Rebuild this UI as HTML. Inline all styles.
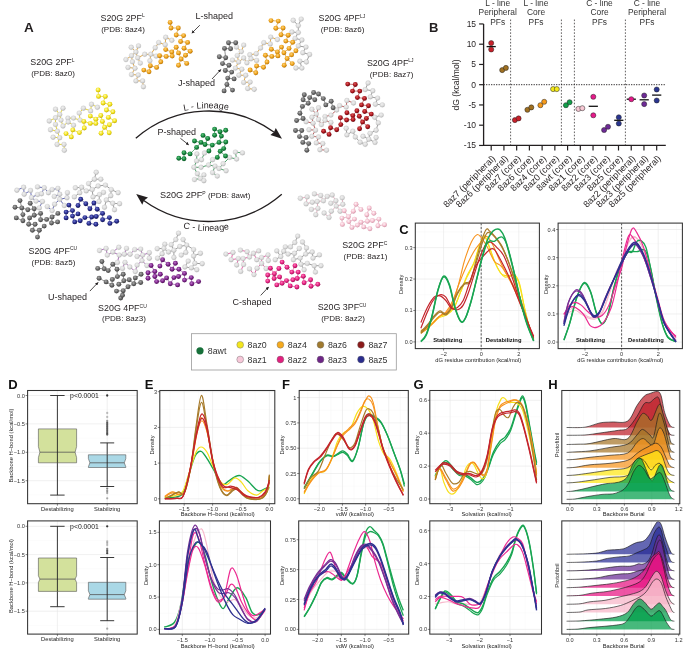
<!DOCTYPE html>
<html><head><meta charset="utf-8"><style>
html,body{margin:0;padding:0;background:#fff;}
svg{display:block;font-family:"Liberation Sans", sans-serif;will-change:transform;}
</style></head><body>
<svg width="685" height="649" viewBox="0 0 685 649">
<defs><radialGradient id="g_yellow" cx="0.42" cy="0.36" r="0.68"><stop offset="0" stop-color="#fffab0"/><stop offset="0.55" stop-color="#f2e21a"/><stop offset="1" stop-color="#b8a200"/></radialGradient><radialGradient id="g_orange" cx="0.42" cy="0.36" r="0.68"><stop offset="0" stop-color="#ffd27a"/><stop offset="0.55" stop-color="#eca21a"/><stop offset="1" stop-color="#a86400"/></radialGradient><radialGradient id="g_red" cx="0.42" cy="0.36" r="0.68"><stop offset="0" stop-color="#e05a5a"/><stop offset="0.55" stop-color="#a8141c"/><stop offset="1" stop-color="#58040a"/></radialGradient><radialGradient id="g_green" cx="0.42" cy="0.36" r="0.68"><stop offset="0" stop-color="#5cc07c"/><stop offset="0.55" stop-color="#14853c"/><stop offset="1" stop-color="#05461a"/></radialGradient><radialGradient id="g_pink" cx="0.42" cy="0.36" r="0.68"><stop offset="0" stop-color="#fff4f7"/><stop offset="0.55" stop-color="#f4c0cf"/><stop offset="1" stop-color="#c9899d"/></radialGradient><radialGradient id="g_magenta" cx="0.42" cy="0.36" r="0.68"><stop offset="0" stop-color="#ff7ab8"/><stop offset="0.55" stop-color="#e2207f"/><stop offset="1" stop-color="#8c0a48"/></radialGradient><radialGradient id="g_purple" cx="0.42" cy="0.36" r="0.68"><stop offset="0" stop-color="#bb78cc"/><stop offset="0.55" stop-color="#7d2388"/><stop offset="1" stop-color="#3e0648"/></radialGradient><radialGradient id="g_navy" cx="0.42" cy="0.36" r="0.68"><stop offset="0" stop-color="#6c74cc"/><stop offset="0.55" stop-color="#272b8c"/><stop offset="1" stop-color="#0b0d46"/></radialGradient><radialGradient id="g_dark" cx="0.42" cy="0.36" r="0.68"><stop offset="0" stop-color="#a8a8a8"/><stop offset="0.55" stop-color="#676767"/><stop offset="1" stop-color="#363636"/></radialGradient><radialGradient id="g_light" cx="0.42" cy="0.36" r="0.68"><stop offset="0" stop-color="#efefef"/><stop offset="0.55" stop-color="#dddddd"/><stop offset="1" stop-color="#ababab"/></radialGradient><marker id="ah" viewBox="0 0 10 10" refX="9" refY="5" markerWidth="4" markerHeight="4" orient="auto-start-reverse"><path d="M0,0 L10,5 L0,10 z" fill="#231f20"/></marker></defs>
<rect width="685" height="649" fill="#fff"/>
<text x="24" y="32" font-size="13.5" text-anchor="start" font-weight="bold" fill="#231f20" >A</text>
<path d="M91.5,104.3L97.4,107.3M91.5,104.3L90.6,110.9M90.6,110.9L83.4,108.2M83.4,108.2L79.2,113.1M79.2,113.1L80.1,120.1M80.1,120.1L73.5,118.1M73.5,118.1L67.9,118.1M67.9,118.1L68.2,122M68.2,122L73.5,125.3M68.2,122L63,126M63,126L61,120.1M61,120.1L59.7,114.4M59.7,114.4L55.5,117.8M55.5,117.8L55.5,124.4M59.7,114.4L55.5,109.2M59.7,114.4L63,108.2M55.5,124.4L57.3,131.2M57.3,131.2L50.5,129.7M57.3,131.2L59.7,137.8M59.7,137.8L53.1,137.2M55.5,117.8L49.2,121M59.7,137.8L57.1,144.4M57.1,144.4L64,144.4M64,144.4L64.3,150.3" stroke="#e3cf10" stroke-width="0.85" fill="none"/>
<circle cx="91.5" cy="104.3" r="2.45" fill="url(#g_light)" stroke="#bdbdbd" stroke-width="0.3"/>
<circle cx="97.4" cy="107.3" r="2.45" fill="url(#g_light)" stroke="#bdbdbd" stroke-width="0.3"/>
<circle cx="83.4" cy="108.2" r="2.45" fill="url(#g_light)" stroke="#bdbdbd" stroke-width="0.3"/>
<circle cx="90.6" cy="110.9" r="2.45" fill="url(#g_light)" stroke="#bdbdbd" stroke-width="0.3"/>
<circle cx="79.2" cy="113.1" r="2.45" fill="url(#g_light)" stroke="#bdbdbd" stroke-width="0.3"/>
<circle cx="80.1" cy="120.1" r="2.45" fill="url(#g_light)" stroke="#bdbdbd" stroke-width="0.3"/>
<circle cx="73.5" cy="118.1" r="2.45" fill="url(#g_light)" stroke="#bdbdbd" stroke-width="0.3"/>
<circle cx="73.5" cy="125.3" r="2.45" fill="url(#g_light)" stroke="#bdbdbd" stroke-width="0.3"/>
<circle cx="67.9" cy="118.1" r="2.45" fill="url(#g_light)" stroke="#bdbdbd" stroke-width="0.3"/>
<circle cx="68.2" cy="122" r="2.45" fill="url(#g_light)" stroke="#bdbdbd" stroke-width="0.3"/>
<circle cx="61" cy="120.1" r="2.45" fill="url(#g_light)" stroke="#bdbdbd" stroke-width="0.3"/>
<circle cx="63" cy="126" r="2.45" fill="url(#g_light)" stroke="#bdbdbd" stroke-width="0.3"/>
<circle cx="59.7" cy="114.4" r="2.45" fill="url(#g_light)" stroke="#bdbdbd" stroke-width="0.3"/>
<circle cx="63" cy="108.2" r="2.45" fill="url(#g_light)" stroke="#bdbdbd" stroke-width="0.3"/>
<circle cx="55.5" cy="109.2" r="2.45" fill="url(#g_light)" stroke="#bdbdbd" stroke-width="0.3"/>
<circle cx="55.5" cy="117.8" r="2.45" fill="url(#g_light)" stroke="#bdbdbd" stroke-width="0.3"/>
<circle cx="49.2" cy="121" r="2.45" fill="url(#g_light)" stroke="#bdbdbd" stroke-width="0.3"/>
<circle cx="55.5" cy="124.4" r="2.45" fill="url(#g_light)" stroke="#bdbdbd" stroke-width="0.3"/>
<circle cx="50.5" cy="129.7" r="2.45" fill="url(#g_light)" stroke="#bdbdbd" stroke-width="0.3"/>
<circle cx="57.3" cy="131.2" r="2.45" fill="url(#g_light)" stroke="#bdbdbd" stroke-width="0.3"/>
<circle cx="53.1" cy="137.2" r="2.45" fill="url(#g_light)" stroke="#bdbdbd" stroke-width="0.3"/>
<circle cx="59.7" cy="137.8" r="2.45" fill="url(#g_light)" stroke="#bdbdbd" stroke-width="0.3"/>
<circle cx="57.1" cy="144.4" r="2.45" fill="url(#g_light)" stroke="#bdbdbd" stroke-width="0.3"/>
<circle cx="64" cy="144.4" r="2.45" fill="url(#g_light)" stroke="#bdbdbd" stroke-width="0.3"/>
<circle cx="64.3" cy="150.3" r="2.45" fill="url(#g_light)" stroke="#bdbdbd" stroke-width="0.3"/>
<path d="M98.1,89.9L98.5,96.4M98.5,96.4L105.3,96.4M105.3,96.4L103.1,103M103.1,103L109.9,104.3M109.9,104.3L106.4,110M106.4,110L112.9,111.8M112.9,111.8L108.3,117.4M108.3,117.4L114.6,120.7M114.6,120.7L109.4,124.7M109.4,124.7L104.6,127.3M104.6,127.3L102.4,121.4M102.4,121.4L100.8,115.5M100.8,115.5L95.8,119.2M95.8,119.2L95.8,123.4M95.8,123.4L90.3,123.4M95.8,119.2L90.3,116.1M90.3,123.4L83.8,121.4M83.8,121.4L84.3,128M84.3,128L79.4,132.6M104.6,127.3L101.1,133.2M79.4,132.6L72.8,129.9M72.8,129.9L71.3,136.9M71.3,136.9L66,133.6M104.6,127.3L109.2,132.8" stroke="#e3cf10" stroke-width="0.7" fill="none"/>
<circle cx="98.1" cy="89.9" r="2.45" fill="url(#g_yellow)"/>
<circle cx="98.5" cy="96.4" r="2.45" fill="url(#g_yellow)"/>
<circle cx="105.3" cy="96.4" r="2.45" fill="url(#g_yellow)"/>
<circle cx="103.1" cy="103" r="2.45" fill="url(#g_yellow)"/>
<circle cx="109.9" cy="104.3" r="2.45" fill="url(#g_yellow)"/>
<circle cx="106.4" cy="110" r="2.45" fill="url(#g_yellow)"/>
<circle cx="112.9" cy="111.8" r="2.45" fill="url(#g_yellow)"/>
<circle cx="108.3" cy="117.4" r="2.45" fill="url(#g_yellow)"/>
<circle cx="114.6" cy="120.7" r="2.45" fill="url(#g_yellow)"/>
<circle cx="109.4" cy="124.7" r="2.45" fill="url(#g_yellow)"/>
<circle cx="104.6" cy="127.3" r="2.45" fill="url(#g_yellow)"/>
<circle cx="109.2" cy="132.8" r="2.45" fill="url(#g_yellow)"/>
<circle cx="101.1" cy="133.2" r="2.45" fill="url(#g_yellow)"/>
<circle cx="100.8" cy="115.5" r="2.45" fill="url(#g_yellow)"/>
<circle cx="102.4" cy="121.4" r="2.45" fill="url(#g_yellow)"/>
<circle cx="95.8" cy="119.2" r="2.45" fill="url(#g_yellow)"/>
<circle cx="95.8" cy="123.4" r="2.45" fill="url(#g_yellow)"/>
<circle cx="90.3" cy="116.1" r="2.45" fill="url(#g_yellow)"/>
<circle cx="90.3" cy="123.4" r="2.45" fill="url(#g_yellow)"/>
<circle cx="83.8" cy="121.4" r="2.45" fill="url(#g_yellow)"/>
<circle cx="84.3" cy="128" r="2.45" fill="url(#g_yellow)"/>
<circle cx="79.4" cy="132.6" r="2.45" fill="url(#g_yellow)"/>
<circle cx="72.8" cy="129.9" r="2.45" fill="url(#g_yellow)"/>
<circle cx="66" cy="133.6" r="2.45" fill="url(#g_yellow)"/>
<circle cx="71.3" cy="136.9" r="2.45" fill="url(#g_yellow)"/>
<path d="M165.7,37.3L171.8,40.3M165.7,37.3L165.2,44.7M165.2,44.7L158.7,42.6M158.7,42.6L155.2,47.8M155.2,47.8L150.8,54.3M150.8,54.3L156.1,56.1M150.8,54.3L144.7,54.3M150.8,54.3L149.9,60.8M144.7,54.3L137.7,57.8M137.7,57.8L140.3,63.1M137.7,57.8L135.9,52M135.9,52L131.5,55.7M131.5,55.7L132.4,61.8M135.9,52L138.5,45.9M135.9,52L131.2,47.3M131.5,55.7L125.9,59.6M132.4,61.8L135,68.3M135,68.3L128,67.4M135,68.3L131.5,74.5M131.5,74.5L138.2,75M138.2,75L135.9,80.9M135.9,80.9L142.6,80.9M142.6,80.9L143.4,86.7" stroke="#d99a2a" stroke-width="0.85" fill="none"/>
<circle cx="165.7" cy="37.3" r="2.45" fill="url(#g_light)" stroke="#bdbdbd" stroke-width="0.3"/>
<circle cx="171.8" cy="40.3" r="2.45" fill="url(#g_light)" stroke="#bdbdbd" stroke-width="0.3"/>
<circle cx="158.7" cy="42.6" r="2.45" fill="url(#g_light)" stroke="#bdbdbd" stroke-width="0.3"/>
<circle cx="165.2" cy="44.7" r="2.45" fill="url(#g_light)" stroke="#bdbdbd" stroke-width="0.3"/>
<circle cx="155.2" cy="47.8" r="2.45" fill="url(#g_light)" stroke="#bdbdbd" stroke-width="0.3"/>
<circle cx="150.8" cy="54.3" r="2.45" fill="url(#g_light)" stroke="#bdbdbd" stroke-width="0.3"/>
<circle cx="156.1" cy="56.1" r="2.45" fill="url(#g_light)" stroke="#bdbdbd" stroke-width="0.3"/>
<circle cx="149.9" cy="60.8" r="2.45" fill="url(#g_light)" stroke="#bdbdbd" stroke-width="0.3"/>
<circle cx="144.7" cy="54.3" r="2.45" fill="url(#g_light)" stroke="#bdbdbd" stroke-width="0.3"/>
<circle cx="138.5" cy="45.9" r="2.45" fill="url(#g_light)" stroke="#bdbdbd" stroke-width="0.3"/>
<circle cx="131.2" cy="47.3" r="2.45" fill="url(#g_light)" stroke="#bdbdbd" stroke-width="0.3"/>
<circle cx="135.9" cy="52" r="2.45" fill="url(#g_light)" stroke="#bdbdbd" stroke-width="0.3"/>
<circle cx="131.5" cy="55.7" r="2.45" fill="url(#g_light)" stroke="#bdbdbd" stroke-width="0.3"/>
<circle cx="137.7" cy="57.8" r="2.45" fill="url(#g_light)" stroke="#bdbdbd" stroke-width="0.3"/>
<circle cx="125.9" cy="59.6" r="2.45" fill="url(#g_light)" stroke="#bdbdbd" stroke-width="0.3"/>
<circle cx="132.4" cy="61.8" r="2.45" fill="url(#g_light)" stroke="#bdbdbd" stroke-width="0.3"/>
<circle cx="140.3" cy="63.1" r="2.45" fill="url(#g_light)" stroke="#bdbdbd" stroke-width="0.3"/>
<circle cx="128" cy="67.4" r="2.45" fill="url(#g_light)" stroke="#bdbdbd" stroke-width="0.3"/>
<circle cx="135" cy="68.3" r="2.45" fill="url(#g_light)" stroke="#bdbdbd" stroke-width="0.3"/>
<circle cx="131.5" cy="74.5" r="2.45" fill="url(#g_light)" stroke="#bdbdbd" stroke-width="0.3"/>
<circle cx="138.2" cy="75" r="2.45" fill="url(#g_light)" stroke="#bdbdbd" stroke-width="0.3"/>
<circle cx="135.9" cy="80.9" r="2.45" fill="url(#g_light)" stroke="#bdbdbd" stroke-width="0.3"/>
<circle cx="142.6" cy="80.9" r="2.45" fill="url(#g_light)" stroke="#bdbdbd" stroke-width="0.3"/>
<circle cx="143.4" cy="86.7" r="2.45" fill="url(#g_light)" stroke="#bdbdbd" stroke-width="0.3"/>
<path d="M170.1,22.4L171,28M171,28L178.3,28M178.3,28L176.2,35M176.2,35L183.6,35.6M183.6,35.6L180.6,41.5M180.6,41.5L187.6,42.4M187.6,42.4L184,48.2M184,48.2L190.2,51.2M190.2,51.2L185.5,55.2M185.5,55.2L181.1,59M181.1,59L178.5,52.9M178.5,52.9L176.2,47.3M176.2,47.3L171.8,52M171.8,52L172.2,56.1M172.2,56.1L166.2,56.4M171.8,52L165.7,49.6M166.2,56.4L159.6,55.7M159.6,55.7L160.8,61.8M181.1,59L178.5,65.3M160.8,61.8L156.6,67.4M156.6,67.4L150.3,65.7M150.3,65.7L149,71.8M149,71.8L143.8,70.1M181.1,59L186.7,63.4" stroke="#d99a2a" stroke-width="0.7" fill="none"/>
<circle cx="170.1" cy="22.4" r="2.45" fill="url(#g_orange)"/>
<circle cx="171" cy="28" r="2.45" fill="url(#g_orange)"/>
<circle cx="178.3" cy="28" r="2.45" fill="url(#g_orange)"/>
<circle cx="176.2" cy="35" r="2.45" fill="url(#g_orange)"/>
<circle cx="183.6" cy="35.6" r="2.45" fill="url(#g_orange)"/>
<circle cx="180.6" cy="41.5" r="2.45" fill="url(#g_orange)"/>
<circle cx="187.6" cy="42.4" r="2.45" fill="url(#g_orange)"/>
<circle cx="176.2" cy="47.3" r="2.45" fill="url(#g_orange)"/>
<circle cx="184" cy="48.2" r="2.45" fill="url(#g_orange)"/>
<circle cx="190.2" cy="51.2" r="2.45" fill="url(#g_orange)"/>
<circle cx="165.7" cy="49.6" r="2.45" fill="url(#g_orange)"/>
<circle cx="171.8" cy="52" r="2.45" fill="url(#g_orange)"/>
<circle cx="178.5" cy="52.9" r="2.45" fill="url(#g_orange)"/>
<circle cx="159.6" cy="55.7" r="2.45" fill="url(#g_orange)"/>
<circle cx="166.2" cy="56.4" r="2.45" fill="url(#g_orange)"/>
<circle cx="172.2" cy="56.1" r="2.45" fill="url(#g_orange)"/>
<circle cx="185.5" cy="55.2" r="2.45" fill="url(#g_orange)"/>
<circle cx="181.1" cy="59" r="2.45" fill="url(#g_orange)"/>
<circle cx="186.7" cy="63.4" r="2.45" fill="url(#g_orange)"/>
<circle cx="178.5" cy="65.3" r="2.45" fill="url(#g_orange)"/>
<circle cx="160.8" cy="61.8" r="2.45" fill="url(#g_orange)"/>
<circle cx="150.3" cy="65.7" r="2.45" fill="url(#g_orange)"/>
<circle cx="156.6" cy="67.4" r="2.45" fill="url(#g_orange)"/>
<circle cx="143.8" cy="70.1" r="2.45" fill="url(#g_orange)"/>
<circle cx="149" cy="71.8" r="2.45" fill="url(#g_orange)"/>
<path d="M236.5,47.1L241.3,51.6M241.3,51.6L237.3,55.6M237.3,55.6L238.6,62M238.6,62L232.5,60.1M238.6,62L243.7,58M243.7,58L246.9,62.8M246.9,62.8L251,58.8M251,58.8L249.8,54.8M251,58.8L256.6,60.4M249.8,54.8L256.2,53.7M238.6,62L235.4,68.1M235.4,68.1L241.8,69.2M241.8,69.2L238.9,75.2M238.9,75.2L245.7,75.3M241.3,51.6L243.7,45.1M256.2,53.7L260.6,48M260.6,48L263.8,42.7M263.8,42.7L270.2,44M270.2,44L270.7,37.1M270.7,37.1L277.4,39.5M245.7,75.3L243.7,82.4M243.7,82.4L250.1,82.1M250.1,82.1L247.7,88.5M247.7,88.5L254.2,89.3" stroke="#d99a2a" stroke-width="0.85" fill="none"/>
<circle cx="236.5" cy="47.1" r="2.45" fill="url(#g_light)" stroke="#bdbdbd" stroke-width="0.3"/>
<circle cx="243.7" cy="45.1" r="2.45" fill="url(#g_light)" stroke="#bdbdbd" stroke-width="0.3"/>
<circle cx="241.3" cy="51.6" r="2.45" fill="url(#g_light)" stroke="#bdbdbd" stroke-width="0.3"/>
<circle cx="237.3" cy="55.6" r="2.45" fill="url(#g_light)" stroke="#bdbdbd" stroke-width="0.3"/>
<circle cx="232.5" cy="60.1" r="2.45" fill="url(#g_light)" stroke="#bdbdbd" stroke-width="0.3"/>
<circle cx="238.6" cy="62" r="2.45" fill="url(#g_light)" stroke="#bdbdbd" stroke-width="0.3"/>
<circle cx="243.7" cy="58" r="2.45" fill="url(#g_light)" stroke="#bdbdbd" stroke-width="0.3"/>
<circle cx="249.8" cy="54.8" r="2.45" fill="url(#g_light)" stroke="#bdbdbd" stroke-width="0.3"/>
<circle cx="251" cy="58.8" r="2.45" fill="url(#g_light)" stroke="#bdbdbd" stroke-width="0.3"/>
<circle cx="246.9" cy="62.8" r="2.45" fill="url(#g_light)" stroke="#bdbdbd" stroke-width="0.3"/>
<circle cx="235.4" cy="68.1" r="2.45" fill="url(#g_light)" stroke="#bdbdbd" stroke-width="0.3"/>
<circle cx="241.8" cy="69.2" r="2.45" fill="url(#g_light)" stroke="#bdbdbd" stroke-width="0.3"/>
<circle cx="238.9" cy="75.2" r="2.45" fill="url(#g_light)" stroke="#bdbdbd" stroke-width="0.3"/>
<circle cx="245.7" cy="75.3" r="2.45" fill="url(#g_light)" stroke="#bdbdbd" stroke-width="0.3"/>
<circle cx="243.7" cy="82.4" r="2.45" fill="url(#g_light)" stroke="#bdbdbd" stroke-width="0.3"/>
<circle cx="250.1" cy="82.1" r="2.45" fill="url(#g_light)" stroke="#bdbdbd" stroke-width="0.3"/>
<circle cx="247.7" cy="88.5" r="2.45" fill="url(#g_light)" stroke="#bdbdbd" stroke-width="0.3"/>
<circle cx="254.2" cy="89.3" r="2.45" fill="url(#g_light)" stroke="#bdbdbd" stroke-width="0.3"/>
<circle cx="256.2" cy="53.7" r="2.45" fill="url(#g_light)" stroke="#bdbdbd" stroke-width="0.3"/>
<circle cx="256.6" cy="60.4" r="2.45" fill="url(#g_light)" stroke="#bdbdbd" stroke-width="0.3"/>
<circle cx="260.6" cy="48" r="2.45" fill="url(#g_light)" stroke="#bdbdbd" stroke-width="0.3"/>
<circle cx="263.8" cy="42.7" r="2.45" fill="url(#g_light)" stroke="#bdbdbd" stroke-width="0.3"/>
<circle cx="270.2" cy="44" r="2.45" fill="url(#g_light)" stroke="#bdbdbd" stroke-width="0.3"/>
<circle cx="270.7" cy="37.1" r="2.45" fill="url(#g_light)" stroke="#bdbdbd" stroke-width="0.3"/>
<circle cx="277.4" cy="39.5" r="2.45" fill="url(#g_light)" stroke="#bdbdbd" stroke-width="0.3"/>
<path d="M293.2,20.3L298.3,25.6M298.3,25.6L298.3,32.6M298.3,32.6L291.9,32M298.3,32.6L295.1,38.4M295.1,38.4L301.9,40M301.9,40L298.3,46M298.3,25.6L301.2,19.1M298.3,46L306,47.1M306,47.1L302.8,52.7M302.8,52.7L309.6,54.5M309.6,54.5L306.4,62M306.4,62L299.9,61.2M299.9,61.2L301.9,68.1M301.9,68.1L295.9,68" stroke="#8a8a8a" stroke-width="0.85" fill="none"/>
<circle cx="293.2" cy="20.3" r="2.45" fill="url(#g_light)" stroke="#bdbdbd" stroke-width="0.3"/>
<circle cx="301.2" cy="19.1" r="2.45" fill="url(#g_light)" stroke="#bdbdbd" stroke-width="0.3"/>
<circle cx="298.3" cy="25.6" r="2.45" fill="url(#g_light)" stroke="#bdbdbd" stroke-width="0.3"/>
<circle cx="291.9" cy="32" r="2.45" fill="url(#g_light)" stroke="#bdbdbd" stroke-width="0.3"/>
<circle cx="298.3" cy="32.6" r="2.45" fill="url(#g_light)" stroke="#bdbdbd" stroke-width="0.3"/>
<circle cx="295.1" cy="38.4" r="2.45" fill="url(#g_light)" stroke="#bdbdbd" stroke-width="0.3"/>
<circle cx="301.9" cy="40" r="2.45" fill="url(#g_light)" stroke="#bdbdbd" stroke-width="0.3"/>
<circle cx="298.3" cy="46" r="2.45" fill="url(#g_light)" stroke="#bdbdbd" stroke-width="0.3"/>
<circle cx="306" cy="47.1" r="2.45" fill="url(#g_light)" stroke="#bdbdbd" stroke-width="0.3"/>
<circle cx="302.8" cy="52.7" r="2.45" fill="url(#g_light)" stroke="#bdbdbd" stroke-width="0.3"/>
<circle cx="309.6" cy="54.5" r="2.45" fill="url(#g_light)" stroke="#bdbdbd" stroke-width="0.3"/>
<circle cx="299.9" cy="61.2" r="2.45" fill="url(#g_light)" stroke="#bdbdbd" stroke-width="0.3"/>
<circle cx="306.4" cy="62" r="2.45" fill="url(#g_light)" stroke="#bdbdbd" stroke-width="0.3"/>
<circle cx="295.9" cy="68" r="2.45" fill="url(#g_light)" stroke="#bdbdbd" stroke-width="0.3"/>
<circle cx="301.9" cy="68.1" r="2.45" fill="url(#g_light)" stroke="#bdbdbd" stroke-width="0.3"/>
<path d="M228.5,42.7L230.6,48.8M230.6,48.8L224.5,48.4M228.5,42.7L235.7,42.7M224.5,48.4L225.7,57.7M225.7,57.7L219.3,56.7M225.7,57.7L222.5,63.6M222.5,63.6L229,65.2M229,65.2L225.3,70.5M225.3,70.5L231.7,72.1M231.7,72.1L227.7,78.1M227.7,78.1L226.9,84.5M227.7,78.1L234.1,78.9M226.9,84.5L224.1,90.9M226.9,84.5L232.5,90.1" stroke="#666" stroke-width="0.7" fill="none"/>
<circle cx="228.5" cy="42.7" r="2.45" fill="url(#g_dark)"/>
<circle cx="235.7" cy="42.7" r="2.45" fill="url(#g_dark)"/>
<circle cx="224.5" cy="48.4" r="2.45" fill="url(#g_dark)"/>
<circle cx="230.6" cy="48.8" r="2.45" fill="url(#g_dark)"/>
<circle cx="219.3" cy="56.7" r="2.45" fill="url(#g_dark)"/>
<circle cx="225.7" cy="57.7" r="2.45" fill="url(#g_dark)"/>
<circle cx="222.5" cy="63.6" r="2.45" fill="url(#g_dark)"/>
<circle cx="229" cy="65.2" r="2.45" fill="url(#g_dark)"/>
<circle cx="225.3" cy="70.5" r="2.45" fill="url(#g_dark)"/>
<circle cx="231.7" cy="72.1" r="2.45" fill="url(#g_dark)"/>
<circle cx="227.7" cy="78.1" r="2.45" fill="url(#g_dark)"/>
<circle cx="234.1" cy="78.9" r="2.45" fill="url(#g_dark)"/>
<circle cx="226.9" cy="84.5" r="2.45" fill="url(#g_dark)"/>
<circle cx="224.1" cy="90.9" r="2.45" fill="url(#g_dark)"/>
<circle cx="232.5" cy="90.1" r="2.45" fill="url(#g_dark)"/>
<path d="M271,20.6L278.3,21.1M278.3,21.1L275.8,28.3M275.8,28.3L283.1,28M283.1,28L281,34.7M281,34.7L288.2,35.2M288.2,35.2L285.8,41.1M285.8,41.1L292.7,42.3M292.7,42.3L289,48.4M289,48.4L283.9,52.7M283.9,52.7L281.5,47.1M281.5,47.1L277.4,51.9M277.4,51.9L277.9,55.9M277.9,55.9L271.8,56.4M271.8,56.4L265.4,55.3M283.9,52.7L287.1,58.5M287.1,58.5L291.6,54.8M291.6,54.8L295.9,50.8M277.4,51.9L271.3,49.2M265.4,55.3L267,62M267,62L263.5,67.3M263.5,67.3L256.6,66M256.6,66L255.8,72.8M255.8,72.8L250.1,70M287.1,58.5L292.2,63.6M287.1,58.5L284.2,65.2" stroke="#d99a2a" stroke-width="0.7" fill="none"/>
<circle cx="271" cy="20.6" r="2.45" fill="url(#g_orange)"/>
<circle cx="278.3" cy="21.1" r="2.45" fill="url(#g_orange)"/>
<circle cx="275.8" cy="28.3" r="2.45" fill="url(#g_orange)"/>
<circle cx="283.1" cy="28" r="2.45" fill="url(#g_orange)"/>
<circle cx="281" cy="34.7" r="2.45" fill="url(#g_orange)"/>
<circle cx="288.2" cy="35.2" r="2.45" fill="url(#g_orange)"/>
<circle cx="285.8" cy="41.1" r="2.45" fill="url(#g_orange)"/>
<circle cx="292.7" cy="42.3" r="2.45" fill="url(#g_orange)"/>
<circle cx="281.5" cy="47.1" r="2.45" fill="url(#g_orange)"/>
<circle cx="289" cy="48.4" r="2.45" fill="url(#g_orange)"/>
<circle cx="295.9" cy="50.8" r="2.45" fill="url(#g_orange)"/>
<circle cx="271.3" cy="49.2" r="2.45" fill="url(#g_orange)"/>
<circle cx="277.4" cy="51.9" r="2.45" fill="url(#g_orange)"/>
<circle cx="283.9" cy="52.7" r="2.45" fill="url(#g_orange)"/>
<circle cx="265.4" cy="55.3" r="2.45" fill="url(#g_orange)"/>
<circle cx="271.8" cy="56.4" r="2.45" fill="url(#g_orange)"/>
<circle cx="277.9" cy="55.9" r="2.45" fill="url(#g_orange)"/>
<circle cx="291.6" cy="54.8" r="2.45" fill="url(#g_orange)"/>
<circle cx="287.1" cy="58.5" r="2.45" fill="url(#g_orange)"/>
<circle cx="292.2" cy="63.6" r="2.45" fill="url(#g_orange)"/>
<circle cx="284.2" cy="65.2" r="2.45" fill="url(#g_orange)"/>
<circle cx="267" cy="62" r="2.45" fill="url(#g_orange)"/>
<circle cx="256.6" cy="66" r="2.45" fill="url(#g_orange)"/>
<circle cx="263.5" cy="67.3" r="2.45" fill="url(#g_orange)"/>
<circle cx="250.1" cy="70" r="2.45" fill="url(#g_orange)"/>
<circle cx="255.8" cy="72.8" r="2.45" fill="url(#g_orange)"/>
<path d="M311.9,109.3L316.3,114.1M316.3,114.1L311.9,117.3M316.3,114.1L318.5,119.5M318.5,119.5L321.4,124.6M321.4,124.6L325,120.3M325,120.3L325,116.6M311.9,117.3L313.1,123.2M325,116.6L330.9,115.1M325,120.3L330.9,122.4M316.3,114.1L318.5,107.8M313.1,123.2L306.1,121.7M313.1,123.2L315.5,130.2M315.5,130.2L309,129.7M315.5,130.2L311.9,136.3M311.9,136.3L318.5,137M318.5,137L316.3,142.9M316.3,142.9L322.8,143.6M322.8,143.6L319.9,149.7M319.9,149.7L326.5,150.2M330.9,115.1L336.7,110M336.7,110L339.6,105.7M339.6,105.7L346.2,107.1M346.2,107.1L346.9,100.5M346.9,100.5L353.5,103" stroke="#b04040" stroke-width="0.85" fill="none"/>
<circle cx="311.9" cy="109.3" r="2.45" fill="url(#g_light)" stroke="#bdbdbd" stroke-width="0.3"/>
<circle cx="318.5" cy="107.8" r="2.45" fill="url(#g_light)" stroke="#bdbdbd" stroke-width="0.3"/>
<circle cx="316.3" cy="114.1" r="2.45" fill="url(#g_light)" stroke="#bdbdbd" stroke-width="0.3"/>
<circle cx="311.9" cy="117.3" r="2.45" fill="url(#g_light)" stroke="#bdbdbd" stroke-width="0.3"/>
<circle cx="306.1" cy="121.7" r="2.45" fill="url(#g_light)" stroke="#bdbdbd" stroke-width="0.3"/>
<circle cx="313.1" cy="123.2" r="2.45" fill="url(#g_light)" stroke="#bdbdbd" stroke-width="0.3"/>
<circle cx="318.5" cy="119.5" r="2.45" fill="url(#g_light)" stroke="#bdbdbd" stroke-width="0.3"/>
<circle cx="325" cy="116.6" r="2.45" fill="url(#g_light)" stroke="#bdbdbd" stroke-width="0.3"/>
<circle cx="325" cy="120.3" r="2.45" fill="url(#g_light)" stroke="#bdbdbd" stroke-width="0.3"/>
<circle cx="321.4" cy="124.6" r="2.45" fill="url(#g_light)" stroke="#bdbdbd" stroke-width="0.3"/>
<circle cx="330.9" cy="115.1" r="2.45" fill="url(#g_light)" stroke="#bdbdbd" stroke-width="0.3"/>
<circle cx="330.9" cy="122.4" r="2.45" fill="url(#g_light)" stroke="#bdbdbd" stroke-width="0.3"/>
<circle cx="336.7" cy="110" r="2.45" fill="url(#g_light)" stroke="#bdbdbd" stroke-width="0.3"/>
<circle cx="339.6" cy="105.7" r="2.45" fill="url(#g_light)" stroke="#bdbdbd" stroke-width="0.3"/>
<circle cx="346.9" cy="100.5" r="2.45" fill="url(#g_light)" stroke="#bdbdbd" stroke-width="0.3"/>
<circle cx="346.2" cy="107.1" r="2.45" fill="url(#g_light)" stroke="#bdbdbd" stroke-width="0.3"/>
<circle cx="353.5" cy="103" r="2.45" fill="url(#g_light)" stroke="#bdbdbd" stroke-width="0.3"/>
<circle cx="309" cy="129.7" r="2.45" fill="url(#g_light)" stroke="#bdbdbd" stroke-width="0.3"/>
<circle cx="315.5" cy="130.2" r="2.45" fill="url(#g_light)" stroke="#bdbdbd" stroke-width="0.3"/>
<circle cx="311.9" cy="136.3" r="2.45" fill="url(#g_light)" stroke="#bdbdbd" stroke-width="0.3"/>
<circle cx="318.5" cy="137" r="2.45" fill="url(#g_light)" stroke="#bdbdbd" stroke-width="0.3"/>
<circle cx="316.3" cy="142.9" r="2.45" fill="url(#g_light)" stroke="#bdbdbd" stroke-width="0.3"/>
<circle cx="322.8" cy="143.6" r="2.45" fill="url(#g_light)" stroke="#bdbdbd" stroke-width="0.3"/>
<circle cx="319.9" cy="149.7" r="2.45" fill="url(#g_light)" stroke="#bdbdbd" stroke-width="0.3"/>
<circle cx="326.5" cy="150.2" r="2.45" fill="url(#g_light)" stroke="#bdbdbd" stroke-width="0.3"/>
<path d="M368.1,83L365.2,89.6M365.2,89.6L372.8,90.8M372.8,90.8L370.3,96.9M370.3,96.9L377.6,98.1M377.6,98.1L375.4,104.2M375.4,104.2L382.3,104.9M381.2,115.1L374.7,117.3M374.7,117.3L378.3,122.9M378.3,122.9L376.1,130.2M376.1,130.2L370,133.4M370,133.4L368.8,139.2M368.8,139.2L365.2,144.3M365.2,144.3L360.1,142.2M368.8,139.2L363,136.3M368.8,139.2L375,142.4M375,142.4L376.1,137.5M360.1,142.2L355.3,137M355.3,137L352.8,131.2M352.8,131.2L346.9,134.9M346.9,134.9L346.2,128.3" stroke="#8a8a8a" stroke-width="0.85" fill="none"/>
<circle cx="368.1" cy="83" r="2.45" fill="url(#g_light)" stroke="#bdbdbd" stroke-width="0.3"/>
<circle cx="365.2" cy="89.6" r="2.45" fill="url(#g_light)" stroke="#bdbdbd" stroke-width="0.3"/>
<circle cx="372.8" cy="90.8" r="2.45" fill="url(#g_light)" stroke="#bdbdbd" stroke-width="0.3"/>
<circle cx="370.3" cy="96.9" r="2.45" fill="url(#g_light)" stroke="#bdbdbd" stroke-width="0.3"/>
<circle cx="377.6" cy="98.1" r="2.45" fill="url(#g_light)" stroke="#bdbdbd" stroke-width="0.3"/>
<circle cx="375.4" cy="104.2" r="2.45" fill="url(#g_light)" stroke="#bdbdbd" stroke-width="0.3"/>
<circle cx="382.3" cy="104.9" r="2.45" fill="url(#g_light)" stroke="#bdbdbd" stroke-width="0.3"/>
<circle cx="374.7" cy="117.3" r="2.45" fill="url(#g_light)" stroke="#bdbdbd" stroke-width="0.3"/>
<circle cx="381.2" cy="115.1" r="2.45" fill="url(#g_light)" stroke="#bdbdbd" stroke-width="0.3"/>
<circle cx="378.3" cy="122.9" r="2.45" fill="url(#g_light)" stroke="#bdbdbd" stroke-width="0.3"/>
<circle cx="376.1" cy="130.2" r="2.45" fill="url(#g_light)" stroke="#bdbdbd" stroke-width="0.3"/>
<circle cx="370" cy="133.4" r="2.45" fill="url(#g_light)" stroke="#bdbdbd" stroke-width="0.3"/>
<circle cx="376.1" cy="137.5" r="2.45" fill="url(#g_light)" stroke="#bdbdbd" stroke-width="0.3"/>
<circle cx="375" cy="142.4" r="2.45" fill="url(#g_light)" stroke="#bdbdbd" stroke-width="0.3"/>
<circle cx="365.2" cy="144.3" r="2.45" fill="url(#g_light)" stroke="#bdbdbd" stroke-width="0.3"/>
<circle cx="360.1" cy="142.2" r="2.45" fill="url(#g_light)" stroke="#bdbdbd" stroke-width="0.3"/>
<circle cx="368.8" cy="139.2" r="2.45" fill="url(#g_light)" stroke="#bdbdbd" stroke-width="0.3"/>
<circle cx="363" cy="136.3" r="2.45" fill="url(#g_light)" stroke="#bdbdbd" stroke-width="0.3"/>
<circle cx="355.3" cy="137" r="2.45" fill="url(#g_light)" stroke="#bdbdbd" stroke-width="0.3"/>
<circle cx="352.8" cy="131.2" r="2.45" fill="url(#g_light)" stroke="#bdbdbd" stroke-width="0.3"/>
<circle cx="346.9" cy="134.9" r="2.45" fill="url(#g_light)" stroke="#bdbdbd" stroke-width="0.3"/>
<circle cx="346.2" cy="128.3" r="2.45" fill="url(#g_light)" stroke="#bdbdbd" stroke-width="0.3"/>
<path d="M304.3,94.7L303.1,99.8M303.1,99.8L308.2,103.2M308.2,103.2L309.7,97.6M309.7,97.6L314.8,99.8M309.7,97.6L313.6,92.5M313.6,92.5L318.5,94M308.2,103.2L302.4,106.4M318.5,94L323.3,98.6M323.3,98.6L325.8,104.9M325.8,104.9L331.2,101.3M331.2,101.3L333.1,107.8M302.4,106.4L299.9,113.2M299.9,113.2L303.1,118.5M303.1,118.5L296.6,120.5M295.5,130.5L301.7,130.5M301.7,130.5L299.5,136.6M299.5,136.6L306.1,137.5M306.1,137.5L302.8,142.4M302.8,142.4L308.7,143.6M308.7,143.6L306.8,150.2" stroke="#666" stroke-width="0.7" fill="none"/>
<circle cx="304.3" cy="94.7" r="2.45" fill="url(#g_dark)"/>
<circle cx="313.6" cy="92.5" r="2.45" fill="url(#g_dark)"/>
<circle cx="318.5" cy="94" r="2.45" fill="url(#g_dark)"/>
<circle cx="309.7" cy="97.6" r="2.45" fill="url(#g_dark)"/>
<circle cx="303.1" cy="99.8" r="2.45" fill="url(#g_dark)"/>
<circle cx="314.8" cy="99.8" r="2.45" fill="url(#g_dark)"/>
<circle cx="323.3" cy="98.6" r="2.45" fill="url(#g_dark)"/>
<circle cx="331.2" cy="101.3" r="2.45" fill="url(#g_dark)"/>
<circle cx="308.2" cy="103.2" r="2.45" fill="url(#g_dark)"/>
<circle cx="325.8" cy="104.9" r="2.45" fill="url(#g_dark)"/>
<circle cx="302.4" cy="106.4" r="2.45" fill="url(#g_dark)"/>
<circle cx="333.1" cy="107.8" r="2.45" fill="url(#g_dark)"/>
<circle cx="299.9" cy="113.2" r="2.45" fill="url(#g_dark)"/>
<circle cx="303.1" cy="118.5" r="2.45" fill="url(#g_dark)"/>
<circle cx="296.6" cy="120.5" r="2.45" fill="url(#g_dark)"/>
<circle cx="295.5" cy="130.5" r="2.45" fill="url(#g_dark)"/>
<circle cx="301.7" cy="130.5" r="2.45" fill="url(#g_dark)"/>
<circle cx="299.5" cy="136.6" r="2.45" fill="url(#g_dark)"/>
<circle cx="306.1" cy="137.5" r="2.45" fill="url(#g_dark)"/>
<circle cx="302.8" cy="142.4" r="2.45" fill="url(#g_dark)"/>
<circle cx="308.7" cy="143.6" r="2.45" fill="url(#g_dark)"/>
<circle cx="306.8" cy="150.2" r="2.45" fill="url(#g_dark)"/>
<path d="M347.7,84.1L355.3,84.5M355.3,84.5L352.5,91.1M352.5,91.1L359.8,91.1M359.8,91.1L357.4,97.6M357.4,97.6L364.5,98.4M364.5,98.4L361.5,104.9M361.5,104.9L368.5,105.7M368.5,105.7L364.7,111.5M364.7,111.5L371.3,114.1M371.3,114.1L366.4,118.5M366.4,118.5L362.6,122M362.6,122L359.3,116.3M359.3,116.3L356.9,110.8M356.9,110.8L352.8,115.6M352.8,115.6L353.1,119.5M353.1,119.5L346.6,120M352.8,115.6L346.9,112.7M346.6,120L340.4,117.8M340.4,117.8L340.8,124.6M340.8,124.6L336.7,129.7M336.7,129.7L330.6,127.8M330.6,127.8L329.1,134.4M329.1,134.4L323.6,131.2M362.6,122L367.7,126.8M362.6,122L359.6,128.7" stroke="#b04040" stroke-width="0.7" fill="none"/>
<circle cx="347.7" cy="84.1" r="2.45" fill="url(#g_red)"/>
<circle cx="355.3" cy="84.5" r="2.45" fill="url(#g_red)"/>
<circle cx="352.5" cy="91.1" r="2.45" fill="url(#g_red)"/>
<circle cx="359.8" cy="91.1" r="2.45" fill="url(#g_red)"/>
<circle cx="357.4" cy="97.6" r="2.45" fill="url(#g_red)"/>
<circle cx="364.5" cy="98.4" r="2.45" fill="url(#g_red)"/>
<circle cx="361.5" cy="104.9" r="2.45" fill="url(#g_red)"/>
<circle cx="368.5" cy="105.7" r="2.45" fill="url(#g_red)"/>
<circle cx="356.9" cy="110.8" r="2.45" fill="url(#g_red)"/>
<circle cx="364.7" cy="111.5" r="2.45" fill="url(#g_red)"/>
<circle cx="371.3" cy="114.1" r="2.45" fill="url(#g_red)"/>
<circle cx="346.9" cy="112.7" r="2.45" fill="url(#g_red)"/>
<circle cx="352.8" cy="115.6" r="2.45" fill="url(#g_red)"/>
<circle cx="359.3" cy="116.3" r="2.45" fill="url(#g_red)"/>
<circle cx="340.4" cy="117.8" r="2.45" fill="url(#g_red)"/>
<circle cx="346.6" cy="120" r="2.45" fill="url(#g_red)"/>
<circle cx="353.1" cy="119.5" r="2.45" fill="url(#g_red)"/>
<circle cx="366.4" cy="118.5" r="2.45" fill="url(#g_red)"/>
<circle cx="362.6" cy="122" r="2.45" fill="url(#g_red)"/>
<circle cx="367.7" cy="126.8" r="2.45" fill="url(#g_red)"/>
<circle cx="359.6" cy="128.7" r="2.45" fill="url(#g_red)"/>
<circle cx="340.8" cy="124.6" r="2.45" fill="url(#g_red)"/>
<circle cx="330.6" cy="127.8" r="2.45" fill="url(#g_red)"/>
<circle cx="336.7" cy="129.7" r="2.45" fill="url(#g_red)"/>
<circle cx="323.6" cy="131.2" r="2.45" fill="url(#g_red)"/>
<circle cx="329.1" cy="134.4" r="2.45" fill="url(#g_red)"/>
<path d="M196.9,153.9L196.6,160.9M196.6,160.9L201.5,159.7M196.6,160.9L193.9,167.3M193.9,167.3L201,167.3M193.9,167.3L197.4,173.7M197.4,173.7L200.4,178.4M200.4,178.4L203.9,180.7M200.4,178.4L203.9,174.9M200.4,178.4L194.5,179.6M201.5,159.7L204.5,153M201,167.3L208.5,165M208.5,165L215,166.1M215,166.1L219,168.5M219,168.5L223.1,163.8M208.5,165L212.6,159.7M215,166.1L212.6,172.6M212.6,172.6L217.3,176.1M219,168.5L226.1,170.8M223.1,163.8L229.6,157.4M229.6,157.4L236.6,159.1M236.6,159.1L235.4,152.1M235.4,152.1L242.4,152.9" stroke="#2f8f4f" stroke-width="0.85" fill="none"/>
<circle cx="196.9" cy="153.9" r="2.45" fill="url(#g_light)" stroke="#bdbdbd" stroke-width="0.3"/>
<circle cx="204.5" cy="153" r="2.45" fill="url(#g_light)" stroke="#bdbdbd" stroke-width="0.3"/>
<circle cx="196.6" cy="160.9" r="2.45" fill="url(#g_light)" stroke="#bdbdbd" stroke-width="0.3"/>
<circle cx="201.5" cy="159.7" r="2.45" fill="url(#g_light)" stroke="#bdbdbd" stroke-width="0.3"/>
<circle cx="212.6" cy="159.7" r="2.45" fill="url(#g_light)" stroke="#bdbdbd" stroke-width="0.3"/>
<circle cx="208.5" cy="165" r="2.45" fill="url(#g_light)" stroke="#bdbdbd" stroke-width="0.3"/>
<circle cx="215" cy="166.1" r="2.45" fill="url(#g_light)" stroke="#bdbdbd" stroke-width="0.3"/>
<circle cx="219" cy="168.5" r="2.45" fill="url(#g_light)" stroke="#bdbdbd" stroke-width="0.3"/>
<circle cx="212.6" cy="172.6" r="2.45" fill="url(#g_light)" stroke="#bdbdbd" stroke-width="0.3"/>
<circle cx="217.3" cy="176.1" r="2.45" fill="url(#g_light)" stroke="#bdbdbd" stroke-width="0.3"/>
<circle cx="223.1" cy="163.8" r="2.45" fill="url(#g_light)" stroke="#bdbdbd" stroke-width="0.3"/>
<circle cx="226.1" cy="170.8" r="2.45" fill="url(#g_light)" stroke="#bdbdbd" stroke-width="0.3"/>
<circle cx="229.6" cy="157.4" r="2.45" fill="url(#g_light)" stroke="#bdbdbd" stroke-width="0.3"/>
<circle cx="235.4" cy="152.1" r="2.45" fill="url(#g_light)" stroke="#bdbdbd" stroke-width="0.3"/>
<circle cx="236.6" cy="159.1" r="2.45" fill="url(#g_light)" stroke="#bdbdbd" stroke-width="0.3"/>
<circle cx="242.4" cy="152.9" r="2.45" fill="url(#g_light)" stroke="#bdbdbd" stroke-width="0.3"/>
<circle cx="193.9" cy="167.3" r="2.45" fill="url(#g_light)" stroke="#bdbdbd" stroke-width="0.3"/>
<circle cx="201" cy="167.3" r="2.45" fill="url(#g_light)" stroke="#bdbdbd" stroke-width="0.3"/>
<circle cx="197.4" cy="173.7" r="2.45" fill="url(#g_light)" stroke="#bdbdbd" stroke-width="0.3"/>
<circle cx="203.9" cy="174.9" r="2.45" fill="url(#g_light)" stroke="#bdbdbd" stroke-width="0.3"/>
<circle cx="200.4" cy="178.4" r="2.45" fill="url(#g_light)" stroke="#bdbdbd" stroke-width="0.3"/>
<circle cx="194.5" cy="179.6" r="2.45" fill="url(#g_light)" stroke="#bdbdbd" stroke-width="0.3"/>
<circle cx="203.9" cy="180.7" r="2.45" fill="url(#g_light)" stroke="#bdbdbd" stroke-width="0.3"/>
<path d="M214.6,129.1L220,131.7M220,131.7L221.4,136.1M220,131.7L225.7,130.3M214.6,129.1L214.6,135.2M221.4,136.1L219,142.4M219,142.4L225.8,142M225.8,142L223.7,148.6M223.7,148.6L220.2,151.3M220.2,151.3L217.3,157.4M220.2,151.3L225.5,156M219,142.4L212.3,145.1M212.3,145.1L208.9,151M212.3,145.1L205,144.5M205,144.5L201,142.4M205,144.5L207.7,138.5M207.7,138.5L203,135.4M201,142.4L194.5,141M201,142.4L196.6,147.4M196.6,147.4L190.1,153.9M190.1,153.9L184,152.7M184,152.7L184,158.8M184,158.8L178.8,158.3" stroke="#2f8f4f" stroke-width="0.7" fill="none"/>
<circle cx="214.6" cy="129.1" r="2.45" fill="url(#g_green)"/>
<circle cx="220" cy="131.7" r="2.45" fill="url(#g_green)"/>
<circle cx="225.7" cy="130.3" r="2.45" fill="url(#g_green)"/>
<circle cx="214.6" cy="135.2" r="2.45" fill="url(#g_green)"/>
<circle cx="221.4" cy="136.1" r="2.45" fill="url(#g_green)"/>
<circle cx="203" cy="135.4" r="2.45" fill="url(#g_green)"/>
<circle cx="207.7" cy="138.5" r="2.45" fill="url(#g_green)"/>
<circle cx="194.5" cy="141" r="2.45" fill="url(#g_green)"/>
<circle cx="201" cy="142.4" r="2.45" fill="url(#g_green)"/>
<circle cx="205" cy="144.5" r="2.45" fill="url(#g_green)"/>
<circle cx="212.3" cy="145.1" r="2.45" fill="url(#g_green)"/>
<circle cx="219" cy="142.4" r="2.45" fill="url(#g_green)"/>
<circle cx="225.8" cy="142" r="2.45" fill="url(#g_green)"/>
<circle cx="196.6" cy="147.4" r="2.45" fill="url(#g_green)"/>
<circle cx="223.7" cy="148.6" r="2.45" fill="url(#g_green)"/>
<circle cx="220.2" cy="151.3" r="2.45" fill="url(#g_green)"/>
<circle cx="208.9" cy="151" r="2.45" fill="url(#g_green)"/>
<circle cx="184" cy="152.7" r="2.45" fill="url(#g_green)"/>
<circle cx="190.1" cy="153.9" r="2.45" fill="url(#g_green)"/>
<circle cx="217.3" cy="157.4" r="2.45" fill="url(#g_green)"/>
<circle cx="225.5" cy="156" r="2.45" fill="url(#g_green)"/>
<circle cx="178.8" cy="158.3" r="2.45" fill="url(#g_green)"/>
<circle cx="184" cy="158.8" r="2.45" fill="url(#g_green)"/>
<path d="M300.3,198.3L307.2,196.9M307.2,196.9L306.1,203.9M306.1,203.9L312.3,202.2M312.3,202.2L317.2,201.5M317.2,201.5L323.4,200.8M323.4,200.8L327.2,196.4M327.2,196.4L332.2,195M323.4,200.8L320.7,195.5M320.7,195.5L314.4,193.9M332.2,195L335.9,200.8M335.9,200.8L336.3,206.1M335.9,200.8L330.8,203.3M336.3,206.1L340.1,211.2M336.3,206.1L342.8,204.3M342.8,204.3L342.2,197.8M317.2,201.5L317.9,208.4M317.9,208.4L311.4,209.4M317.9,208.4L315.8,214.7M336.3,206.1L331.3,211.2M331.3,211.2L329,217.4M329,217.4L324.1,213" stroke="#e0a0b4" stroke-width="0.85" fill="none"/>
<circle cx="300.3" cy="198.3" r="2.45" fill="url(#g_light)" stroke="#bdbdbd" stroke-width="0.3"/>
<circle cx="307.2" cy="196.9" r="2.45" fill="url(#g_light)" stroke="#bdbdbd" stroke-width="0.3"/>
<circle cx="314.4" cy="193.9" r="2.45" fill="url(#g_light)" stroke="#bdbdbd" stroke-width="0.3"/>
<circle cx="320.7" cy="195.5" r="2.45" fill="url(#g_light)" stroke="#bdbdbd" stroke-width="0.3"/>
<circle cx="327.2" cy="196.4" r="2.45" fill="url(#g_light)" stroke="#bdbdbd" stroke-width="0.3"/>
<circle cx="332.2" cy="195" r="2.45" fill="url(#g_light)" stroke="#bdbdbd" stroke-width="0.3"/>
<circle cx="342.2" cy="197.8" r="2.45" fill="url(#g_light)" stroke="#bdbdbd" stroke-width="0.3"/>
<circle cx="306.1" cy="203.9" r="2.45" fill="url(#g_light)" stroke="#bdbdbd" stroke-width="0.3"/>
<circle cx="312.3" cy="202.2" r="2.45" fill="url(#g_light)" stroke="#bdbdbd" stroke-width="0.3"/>
<circle cx="317.2" cy="201.5" r="2.45" fill="url(#g_light)" stroke="#bdbdbd" stroke-width="0.3"/>
<circle cx="323.4" cy="200.8" r="2.45" fill="url(#g_light)" stroke="#bdbdbd" stroke-width="0.3"/>
<circle cx="330.8" cy="203.3" r="2.45" fill="url(#g_light)" stroke="#bdbdbd" stroke-width="0.3"/>
<circle cx="335.9" cy="200.8" r="2.45" fill="url(#g_light)" stroke="#bdbdbd" stroke-width="0.3"/>
<circle cx="342.8" cy="204.3" r="2.45" fill="url(#g_light)" stroke="#bdbdbd" stroke-width="0.3"/>
<circle cx="336.3" cy="206.1" r="2.45" fill="url(#g_light)" stroke="#bdbdbd" stroke-width="0.3"/>
<circle cx="311.4" cy="209.4" r="2.45" fill="url(#g_light)" stroke="#bdbdbd" stroke-width="0.3"/>
<circle cx="317.9" cy="208.4" r="2.45" fill="url(#g_light)" stroke="#bdbdbd" stroke-width="0.3"/>
<circle cx="324.1" cy="213" r="2.45" fill="url(#g_light)" stroke="#bdbdbd" stroke-width="0.3"/>
<circle cx="331.3" cy="211.2" r="2.45" fill="url(#g_light)" stroke="#bdbdbd" stroke-width="0.3"/>
<circle cx="340.1" cy="211.2" r="2.45" fill="url(#g_light)" stroke="#bdbdbd" stroke-width="0.3"/>
<circle cx="315.8" cy="214.7" r="2.45" fill="url(#g_light)" stroke="#bdbdbd" stroke-width="0.3"/>
<circle cx="329" cy="217.4" r="2.45" fill="url(#g_light)" stroke="#bdbdbd" stroke-width="0.3"/>
<path d="M356,204.3L360.9,209.4M356,204.3L353.3,211.2M353.3,211.2L348.4,216.8M348.4,216.8L348.8,221.6M348.8,221.6L354.4,219.1M348.8,221.6L351.9,227.4M351.9,227.4L357.4,225.1M357.4,225.1L360.9,222.3M360.9,222.3L363.7,226.9M363.7,226.9L369.9,228.8M360.9,222.3L367.4,221.3M367.4,221.3L372.4,220.5M367.4,221.3L366.8,214.7M348.4,216.8L341.9,218.1M341.9,218.1L342.4,224.4M372.4,220.5L378.9,219.1M378.9,219.1L377.9,225.8M377.9,225.8L384.5,224.7M366.8,214.7L369.2,208M369.2,208L373.8,213.3M348.4,216.8L344.2,210.8" stroke="#e0a0b4" stroke-width="0.7" fill="none"/>
<circle cx="356" cy="204.3" r="2.45" fill="url(#g_pink)"/>
<circle cx="344.2" cy="210.8" r="2.45" fill="url(#g_pink)"/>
<circle cx="353.3" cy="211.2" r="2.45" fill="url(#g_pink)"/>
<circle cx="360.9" cy="209.4" r="2.45" fill="url(#g_pink)"/>
<circle cx="369.2" cy="208" r="2.45" fill="url(#g_pink)"/>
<circle cx="366.8" cy="214.7" r="2.45" fill="url(#g_pink)"/>
<circle cx="373.8" cy="213.3" r="2.45" fill="url(#g_pink)"/>
<circle cx="341.9" cy="218.1" r="2.45" fill="url(#g_pink)"/>
<circle cx="348.4" cy="216.8" r="2.45" fill="url(#g_pink)"/>
<circle cx="354.4" cy="219.1" r="2.45" fill="url(#g_pink)"/>
<circle cx="360.9" cy="222.3" r="2.45" fill="url(#g_pink)"/>
<circle cx="367.4" cy="221.3" r="2.45" fill="url(#g_pink)"/>
<circle cx="372.4" cy="220.5" r="2.45" fill="url(#g_pink)"/>
<circle cx="378.9" cy="219.1" r="2.45" fill="url(#g_pink)"/>
<circle cx="342.4" cy="224.4" r="2.45" fill="url(#g_pink)"/>
<circle cx="348.8" cy="221.6" r="2.45" fill="url(#g_pink)"/>
<circle cx="351.9" cy="227.4" r="2.45" fill="url(#g_pink)"/>
<circle cx="357.4" cy="225.1" r="2.45" fill="url(#g_pink)"/>
<circle cx="363.7" cy="226.9" r="2.45" fill="url(#g_pink)"/>
<circle cx="369.9" cy="228.8" r="2.45" fill="url(#g_pink)"/>
<circle cx="377.9" cy="225.8" r="2.45" fill="url(#g_pink)"/>
<circle cx="384.5" cy="224.7" r="2.45" fill="url(#g_pink)"/>
<path d="M225.9,254.1L233,252.5M233,252.5L231.1,259.7M231.1,259.7L238.3,258.6M238.3,258.6L243.1,258.6M243.1,258.6L243.6,264.5M238.3,258.6L236.7,265M243.1,258.6L249.5,257M249.5,257L253.5,253.3M253.5,253.3L258.7,250.9M249.5,257L247.1,251.7M247.1,251.7L240.4,250.1M253.5,253.3L256.8,259.7M256.8,259.7L261.6,257.6M261.6,257.6L261.6,263.4M261.6,263.4L257.1,268.2M261.6,263.4L266.1,268.5M261.6,257.6L268,254.9M268,254.9L268.3,260.5M257.1,268.2L254,274.6M254,274.6L249.5,268.9M243.6,264.5L240.7,271.4" stroke="#e04a9a" stroke-width="0.85" fill="none"/>
<circle cx="225.9" cy="254.1" r="2.45" fill="url(#g_light)" stroke="#bdbdbd" stroke-width="0.3"/>
<circle cx="233" cy="252.5" r="2.45" fill="url(#g_light)" stroke="#bdbdbd" stroke-width="0.3"/>
<circle cx="240.4" cy="250.1" r="2.45" fill="url(#g_light)" stroke="#bdbdbd" stroke-width="0.3"/>
<circle cx="247.1" cy="251.7" r="2.45" fill="url(#g_light)" stroke="#bdbdbd" stroke-width="0.3"/>
<circle cx="253.5" cy="253.3" r="2.45" fill="url(#g_light)" stroke="#bdbdbd" stroke-width="0.3"/>
<circle cx="258.7" cy="250.9" r="2.45" fill="url(#g_light)" stroke="#bdbdbd" stroke-width="0.3"/>
<circle cx="268" cy="254.9" r="2.45" fill="url(#g_light)" stroke="#bdbdbd" stroke-width="0.3"/>
<circle cx="231.1" cy="259.7" r="2.45" fill="url(#g_light)" stroke="#bdbdbd" stroke-width="0.3"/>
<circle cx="238.3" cy="258.6" r="2.45" fill="url(#g_light)" stroke="#bdbdbd" stroke-width="0.3"/>
<circle cx="243.1" cy="258.6" r="2.45" fill="url(#g_light)" stroke="#bdbdbd" stroke-width="0.3"/>
<circle cx="249.5" cy="257" r="2.45" fill="url(#g_light)" stroke="#bdbdbd" stroke-width="0.3"/>
<circle cx="256.8" cy="259.7" r="2.45" fill="url(#g_light)" stroke="#bdbdbd" stroke-width="0.3"/>
<circle cx="261.6" cy="257.6" r="2.45" fill="url(#g_light)" stroke="#bdbdbd" stroke-width="0.3"/>
<circle cx="268.3" cy="260.5" r="2.45" fill="url(#g_light)" stroke="#bdbdbd" stroke-width="0.3"/>
<circle cx="261.6" cy="263.4" r="2.45" fill="url(#g_light)" stroke="#bdbdbd" stroke-width="0.3"/>
<circle cx="236.7" cy="265" r="2.45" fill="url(#g_light)" stroke="#bdbdbd" stroke-width="0.3"/>
<circle cx="243.6" cy="264.5" r="2.45" fill="url(#g_light)" stroke="#bdbdbd" stroke-width="0.3"/>
<circle cx="249.5" cy="268.9" r="2.45" fill="url(#g_light)" stroke="#bdbdbd" stroke-width="0.3"/>
<circle cx="257.1" cy="268.2" r="2.45" fill="url(#g_light)" stroke="#bdbdbd" stroke-width="0.3"/>
<circle cx="266.1" cy="268.5" r="2.45" fill="url(#g_light)" stroke="#bdbdbd" stroke-width="0.3"/>
<circle cx="240.7" cy="271.4" r="2.45" fill="url(#g_light)" stroke="#bdbdbd" stroke-width="0.3"/>
<circle cx="254" cy="274.6" r="2.45" fill="url(#g_light)" stroke="#bdbdbd" stroke-width="0.3"/>
<path d="M297.7,236.1L294.8,242.5M294.8,242.5L290.5,246.9M290.5,246.9L285.3,246.9M285.3,246.9L283.7,251.2M283.7,251.2L288.1,254.1M283.7,251.2L280.8,256.5M288.1,254.1L294.5,253.3M280.8,256.5L275.2,259.7M294.5,253.3L293.4,259.7M294.5,253.3L299.3,248.5M280.8,256.5L276.8,250.9M293.4,259.7L300.1,258.1M300.1,258.1L300.9,264.2M300.9,264.2L307.3,263.4M300.9,264.2L304.1,269.8M300.1,258.1L305.7,254.1M305.7,254.1L306.5,248M305.7,254.1L312.2,252M312.2,252L313,258.1M313,258.1L319.4,254.9M306.5,248L302.5,242M307.3,263.4L314.2,265.7M314.2,265.7L315.4,272.1M314.2,265.7L321,265.7" stroke="#8a8a8a" stroke-width="0.85" fill="none"/>
<circle cx="297.7" cy="236.1" r="2.45" fill="url(#g_light)" stroke="#bdbdbd" stroke-width="0.3"/>
<circle cx="294.8" cy="242.5" r="2.45" fill="url(#g_light)" stroke="#bdbdbd" stroke-width="0.3"/>
<circle cx="302.5" cy="242" r="2.45" fill="url(#g_light)" stroke="#bdbdbd" stroke-width="0.3"/>
<circle cx="299.3" cy="248.5" r="2.45" fill="url(#g_light)" stroke="#bdbdbd" stroke-width="0.3"/>
<circle cx="306.5" cy="248" r="2.45" fill="url(#g_light)" stroke="#bdbdbd" stroke-width="0.3"/>
<circle cx="285.3" cy="246.9" r="2.45" fill="url(#g_light)" stroke="#bdbdbd" stroke-width="0.3"/>
<circle cx="290.5" cy="246.9" r="2.45" fill="url(#g_light)" stroke="#bdbdbd" stroke-width="0.3"/>
<circle cx="276.8" cy="250.9" r="2.45" fill="url(#g_light)" stroke="#bdbdbd" stroke-width="0.3"/>
<circle cx="283.7" cy="251.2" r="2.45" fill="url(#g_light)" stroke="#bdbdbd" stroke-width="0.3"/>
<circle cx="288.1" cy="254.1" r="2.45" fill="url(#g_light)" stroke="#bdbdbd" stroke-width="0.3"/>
<circle cx="294.5" cy="253.3" r="2.45" fill="url(#g_light)" stroke="#bdbdbd" stroke-width="0.3"/>
<circle cx="305.7" cy="254.1" r="2.45" fill="url(#g_light)" stroke="#bdbdbd" stroke-width="0.3"/>
<circle cx="312.2" cy="252" r="2.45" fill="url(#g_light)" stroke="#bdbdbd" stroke-width="0.3"/>
<circle cx="319.4" cy="254.9" r="2.45" fill="url(#g_light)" stroke="#bdbdbd" stroke-width="0.3"/>
<circle cx="280.8" cy="256.5" r="2.45" fill="url(#g_light)" stroke="#bdbdbd" stroke-width="0.3"/>
<circle cx="275.2" cy="259.7" r="2.45" fill="url(#g_light)" stroke="#bdbdbd" stroke-width="0.3"/>
<circle cx="293.4" cy="259.7" r="2.45" fill="url(#g_light)" stroke="#bdbdbd" stroke-width="0.3"/>
<circle cx="300.1" cy="258.1" r="2.45" fill="url(#g_light)" stroke="#bdbdbd" stroke-width="0.3"/>
<circle cx="313" cy="258.1" r="2.45" fill="url(#g_light)" stroke="#bdbdbd" stroke-width="0.3"/>
<circle cx="300.9" cy="264.2" r="2.45" fill="url(#g_light)" stroke="#bdbdbd" stroke-width="0.3"/>
<circle cx="307.3" cy="263.4" r="2.45" fill="url(#g_light)" stroke="#bdbdbd" stroke-width="0.3"/>
<circle cx="314.2" cy="265.7" r="2.45" fill="url(#g_light)" stroke="#bdbdbd" stroke-width="0.3"/>
<circle cx="321" cy="265.7" r="2.45" fill="url(#g_light)" stroke="#bdbdbd" stroke-width="0.3"/>
<circle cx="304.1" cy="269.8" r="2.45" fill="url(#g_light)" stroke="#bdbdbd" stroke-width="0.3"/>
<circle cx="315.4" cy="272.1" r="2.45" fill="url(#g_light)" stroke="#bdbdbd" stroke-width="0.3"/>
<path d="M282.1,262.1L287,267.3M287,267.3L291.8,272.1M291.8,272.1L298.2,272.1M298.2,272.1L297.2,278.5M297.2,278.5L292.9,279.8M292.9,279.8L286.5,280.6M286.5,280.6L282.1,283.3M282.1,283.3L276.8,284.9M286.5,280.6L290.2,285.9M297.2,278.5L303.3,276.2M303.3,276.2L304.1,282.7M290.2,285.9L296.9,287M282.1,283.3L279.6,276.9M279.6,276.9L274.1,278.5M274.1,278.5L274.4,273.7M274.4,273.7L270.4,268.2M274.4,273.7L267.7,275M267.7,275L267.7,281.1M274.4,273.7L278.9,268.5M304.1,282.7L310.6,279.8M310.6,279.8L311,286.2M311,286.2L317.8,284.3M291.8,272.1L295,265.7" stroke="#e04a9a" stroke-width="0.7" fill="none"/>
<circle cx="282.1" cy="262.1" r="2.45" fill="url(#g_magenta)"/>
<circle cx="270.4" cy="268.2" r="2.45" fill="url(#g_magenta)"/>
<circle cx="278.9" cy="268.5" r="2.45" fill="url(#g_magenta)"/>
<circle cx="287" cy="267.3" r="2.45" fill="url(#g_magenta)"/>
<circle cx="295" cy="265.7" r="2.45" fill="url(#g_magenta)"/>
<circle cx="291.8" cy="272.1" r="2.45" fill="url(#g_magenta)"/>
<circle cx="298.2" cy="272.1" r="2.45" fill="url(#g_magenta)"/>
<circle cx="267.7" cy="275" r="2.45" fill="url(#g_magenta)"/>
<circle cx="274.4" cy="273.7" r="2.45" fill="url(#g_magenta)"/>
<circle cx="279.6" cy="276.9" r="2.45" fill="url(#g_magenta)"/>
<circle cx="286.5" cy="280.6" r="2.45" fill="url(#g_magenta)"/>
<circle cx="292.9" cy="279.8" r="2.45" fill="url(#g_magenta)"/>
<circle cx="297.2" cy="278.5" r="2.45" fill="url(#g_magenta)"/>
<circle cx="303.3" cy="276.2" r="2.45" fill="url(#g_magenta)"/>
<circle cx="310.6" cy="279.8" r="2.45" fill="url(#g_magenta)"/>
<circle cx="317.8" cy="284.3" r="2.45" fill="url(#g_magenta)"/>
<circle cx="267.7" cy="281.1" r="2.45" fill="url(#g_magenta)"/>
<circle cx="274.1" cy="278.5" r="2.45" fill="url(#g_magenta)"/>
<circle cx="276.8" cy="284.9" r="2.45" fill="url(#g_magenta)"/>
<circle cx="282.1" cy="283.3" r="2.45" fill="url(#g_magenta)"/>
<circle cx="290.2" cy="285.9" r="2.45" fill="url(#g_magenta)"/>
<circle cx="296.9" cy="287" r="2.45" fill="url(#g_magenta)"/>
<circle cx="304.1" cy="282.7" r="2.45" fill="url(#g_magenta)"/>
<circle cx="311" cy="286.2" r="2.45" fill="url(#g_magenta)"/>
<path d="M99.5,250.5L106.1,248.4M106.1,248.4L107.3,255.1M107.3,255.1L112.8,252M112.8,252L119.2,255.1M119.2,255.1L124.3,254.2M124.3,254.2L130.1,254.2M124.3,254.2L126.5,248.4M130.1,254.2L134.7,249.6M134.7,249.6L140.7,249.1M140.7,249.1L142.6,255.1M142.6,255.1L142,260.6M142.6,255.1L137.1,256.4M142,260.6L137.1,265.1M137.1,265.1L135.3,271.5M142,260.6L146.9,265.5M135.3,271.5L129.8,267M129.8,267L125,262.4M125,262.4L122.5,268.4M142.6,255.1L149.3,252.7M149.3,252.7L149.3,258.2M119.2,255.1L117.4,262.4M112.8,252L118.8,247.3" stroke="#9a55a8" stroke-width="0.85" fill="none"/>
<circle cx="99.5" cy="250.5" r="2.45" fill="url(#g_light)" stroke="#bdbdbd" stroke-width="0.3"/>
<circle cx="106.1" cy="248.4" r="2.45" fill="url(#g_light)" stroke="#bdbdbd" stroke-width="0.3"/>
<circle cx="112.8" cy="252" r="2.45" fill="url(#g_light)" stroke="#bdbdbd" stroke-width="0.3"/>
<circle cx="118.8" cy="247.3" r="2.45" fill="url(#g_light)" stroke="#bdbdbd" stroke-width="0.3"/>
<circle cx="126.5" cy="248.4" r="2.45" fill="url(#g_light)" stroke="#bdbdbd" stroke-width="0.3"/>
<circle cx="134.7" cy="249.6" r="2.45" fill="url(#g_light)" stroke="#bdbdbd" stroke-width="0.3"/>
<circle cx="140.7" cy="249.1" r="2.45" fill="url(#g_light)" stroke="#bdbdbd" stroke-width="0.3"/>
<circle cx="149.3" cy="252.7" r="2.45" fill="url(#g_light)" stroke="#bdbdbd" stroke-width="0.3"/>
<circle cx="107.3" cy="255.1" r="2.45" fill="url(#g_light)" stroke="#bdbdbd" stroke-width="0.3"/>
<circle cx="119.2" cy="255.1" r="2.45" fill="url(#g_light)" stroke="#bdbdbd" stroke-width="0.3"/>
<circle cx="124.3" cy="254.2" r="2.45" fill="url(#g_light)" stroke="#bdbdbd" stroke-width="0.3"/>
<circle cx="130.1" cy="254.2" r="2.45" fill="url(#g_light)" stroke="#bdbdbd" stroke-width="0.3"/>
<circle cx="137.1" cy="256.4" r="2.45" fill="url(#g_light)" stroke="#bdbdbd" stroke-width="0.3"/>
<circle cx="142.6" cy="255.1" r="2.45" fill="url(#g_light)" stroke="#bdbdbd" stroke-width="0.3"/>
<circle cx="149.3" cy="258.2" r="2.45" fill="url(#g_light)" stroke="#bdbdbd" stroke-width="0.3"/>
<circle cx="117.4" cy="262.4" r="2.45" fill="url(#g_light)" stroke="#bdbdbd" stroke-width="0.3"/>
<circle cx="125" cy="262.4" r="2.45" fill="url(#g_light)" stroke="#bdbdbd" stroke-width="0.3"/>
<circle cx="142" cy="260.6" r="2.45" fill="url(#g_light)" stroke="#bdbdbd" stroke-width="0.3"/>
<circle cx="129.8" cy="267" r="2.45" fill="url(#g_light)" stroke="#bdbdbd" stroke-width="0.3"/>
<circle cx="137.1" cy="265.1" r="2.45" fill="url(#g_light)" stroke="#bdbdbd" stroke-width="0.3"/>
<circle cx="146.9" cy="265.5" r="2.45" fill="url(#g_light)" stroke="#bdbdbd" stroke-width="0.3"/>
<circle cx="122.5" cy="268.4" r="2.45" fill="url(#g_light)" stroke="#bdbdbd" stroke-width="0.3"/>
<circle cx="135.3" cy="271.5" r="2.45" fill="url(#g_light)" stroke="#bdbdbd" stroke-width="0.3"/>
<path d="M178.5,233.2L175.8,239.6M175.8,239.6L171.2,244.7M171.2,244.7L173.9,250.2M173.9,250.2L168.5,252M168.5,252L163.9,248.4M163.9,248.4L164.8,244.2M163.9,248.4L162.1,253.8M162.1,253.8L157.5,258.2M163.9,248.4L157.2,248.7M173.9,250.2L179.8,246.5M179.8,246.5L186.7,245.1M186.7,245.1L183.1,239.6M173.9,250.2L173.9,257.5M186.7,245.1L185.8,252.4M185.8,252.4L181.2,255.1M186.7,245.1L193.6,249.6M193.6,249.6L193.6,256M193.6,256L200.4,253.3M193.6,256L194.9,263.3M194.9,263.3L191.3,267.9M191.3,267.9L196.8,269.7M191.3,267.9L184.9,267M184.9,267L188.2,261.1M194.9,263.3L202.2,263.7" stroke="#8a8a8a" stroke-width="0.85" fill="none"/>
<circle cx="178.5" cy="233.2" r="2.45" fill="url(#g_light)" stroke="#bdbdbd" stroke-width="0.3"/>
<circle cx="175.8" cy="239.6" r="2.45" fill="url(#g_light)" stroke="#bdbdbd" stroke-width="0.3"/>
<circle cx="183.1" cy="239.6" r="2.45" fill="url(#g_light)" stroke="#bdbdbd" stroke-width="0.3"/>
<circle cx="164.8" cy="244.2" r="2.45" fill="url(#g_light)" stroke="#bdbdbd" stroke-width="0.3"/>
<circle cx="171.2" cy="244.7" r="2.45" fill="url(#g_light)" stroke="#bdbdbd" stroke-width="0.3"/>
<circle cx="179.8" cy="246.5" r="2.45" fill="url(#g_light)" stroke="#bdbdbd" stroke-width="0.3"/>
<circle cx="186.7" cy="245.1" r="2.45" fill="url(#g_light)" stroke="#bdbdbd" stroke-width="0.3"/>
<circle cx="157.2" cy="248.7" r="2.45" fill="url(#g_light)" stroke="#bdbdbd" stroke-width="0.3"/>
<circle cx="163.9" cy="248.4" r="2.45" fill="url(#g_light)" stroke="#bdbdbd" stroke-width="0.3"/>
<circle cx="173.9" cy="250.2" r="2.45" fill="url(#g_light)" stroke="#bdbdbd" stroke-width="0.3"/>
<circle cx="185.8" cy="252.4" r="2.45" fill="url(#g_light)" stroke="#bdbdbd" stroke-width="0.3"/>
<circle cx="193.6" cy="249.6" r="2.45" fill="url(#g_light)" stroke="#bdbdbd" stroke-width="0.3"/>
<circle cx="200.4" cy="253.3" r="2.45" fill="url(#g_light)" stroke="#bdbdbd" stroke-width="0.3"/>
<circle cx="162.1" cy="253.8" r="2.45" fill="url(#g_light)" stroke="#bdbdbd" stroke-width="0.3"/>
<circle cx="168.5" cy="252" r="2.45" fill="url(#g_light)" stroke="#bdbdbd" stroke-width="0.3"/>
<circle cx="173.9" cy="257.5" r="2.45" fill="url(#g_light)" stroke="#bdbdbd" stroke-width="0.3"/>
<circle cx="181.2" cy="255.1" r="2.45" fill="url(#g_light)" stroke="#bdbdbd" stroke-width="0.3"/>
<circle cx="193.6" cy="256" r="2.45" fill="url(#g_light)" stroke="#bdbdbd" stroke-width="0.3"/>
<circle cx="157.5" cy="258.2" r="2.45" fill="url(#g_light)" stroke="#bdbdbd" stroke-width="0.3"/>
<circle cx="188.2" cy="261.1" r="2.45" fill="url(#g_light)" stroke="#bdbdbd" stroke-width="0.3"/>
<circle cx="194.9" cy="263.3" r="2.45" fill="url(#g_light)" stroke="#bdbdbd" stroke-width="0.3"/>
<circle cx="202.2" cy="263.7" r="2.45" fill="url(#g_light)" stroke="#bdbdbd" stroke-width="0.3"/>
<circle cx="184.9" cy="267" r="2.45" fill="url(#g_light)" stroke="#bdbdbd" stroke-width="0.3"/>
<circle cx="196.8" cy="269.7" r="2.45" fill="url(#g_light)" stroke="#bdbdbd" stroke-width="0.3"/>
<circle cx="191.3" cy="267.9" r="2.45" fill="url(#g_light)" stroke="#bdbdbd" stroke-width="0.3"/>
<path d="M101.9,261.5L104.2,268.8M104.2,268.8L108.2,270.6M104.2,268.8L97.7,268.4M108.2,270.6L112.8,264.2M112.8,264.2L117,269.2M117,269.2L117.4,276.6M117.4,276.6L112.3,279.4M112.3,279.4L111.9,285.2M117.4,276.6L123.2,274.3M123.2,274.3L123.8,280.7M123.8,280.7L129.2,279.7M123.8,280.7L118.8,284.3M129.2,279.7L133.8,283.8M133.8,283.8L135.3,277.9M133.8,283.8L128,286.7M128,286.7L123.2,290.7M123.2,290.7L122.5,295.3M122.5,295.3L120.7,298M111.9,285.2L106.1,281.9M123.2,290.7L116.5,291.1M135.3,277.9L141.1,274.3M133.8,283.8L140.7,282.5M106.1,281.9L99.1,278.3" stroke="#666" stroke-width="0.7" fill="none"/>
<circle cx="101.9" cy="261.5" r="2.45" fill="url(#g_dark)"/>
<circle cx="97.7" cy="268.4" r="2.45" fill="url(#g_dark)"/>
<circle cx="104.2" cy="268.8" r="2.45" fill="url(#g_dark)"/>
<circle cx="112.8" cy="264.2" r="2.45" fill="url(#g_dark)"/>
<circle cx="108.2" cy="270.6" r="2.45" fill="url(#g_dark)"/>
<circle cx="117" cy="269.2" r="2.45" fill="url(#g_dark)"/>
<circle cx="99.1" cy="278.3" r="2.45" fill="url(#g_dark)"/>
<circle cx="106.1" cy="281.9" r="2.45" fill="url(#g_dark)"/>
<circle cx="112.3" cy="279.4" r="2.45" fill="url(#g_dark)"/>
<circle cx="117.4" cy="276.6" r="2.45" fill="url(#g_dark)"/>
<circle cx="123.2" cy="274.3" r="2.45" fill="url(#g_dark)"/>
<circle cx="111.9" cy="285.2" r="2.45" fill="url(#g_dark)"/>
<circle cx="118.8" cy="284.3" r="2.45" fill="url(#g_dark)"/>
<circle cx="123.8" cy="280.7" r="2.45" fill="url(#g_dark)"/>
<circle cx="129.2" cy="279.7" r="2.45" fill="url(#g_dark)"/>
<circle cx="135.3" cy="277.9" r="2.45" fill="url(#g_dark)"/>
<circle cx="141.1" cy="274.3" r="2.45" fill="url(#g_dark)"/>
<circle cx="116.5" cy="291.1" r="2.45" fill="url(#g_dark)"/>
<circle cx="123.2" cy="290.7" r="2.45" fill="url(#g_dark)"/>
<circle cx="128" cy="286.7" r="2.45" fill="url(#g_dark)"/>
<circle cx="133.8" cy="283.8" r="2.45" fill="url(#g_dark)"/>
<circle cx="140.7" cy="282.5" r="2.45" fill="url(#g_dark)"/>
<circle cx="120.7" cy="298" r="2.45" fill="url(#g_dark)"/>
<circle cx="122.5" cy="295.3" r="2.45" fill="url(#g_dark)"/>
<path d="M162.6,259.7L159.9,266.1M162.6,259.7L168.1,264.2M168.1,264.2L172.1,269.2M172.1,269.2L175.4,263.3M172.1,269.2L178.9,269.2M178.9,269.2L184.5,273.4M184.5,273.4L184.5,280.1M184.5,273.4L178.5,276.5M178.5,276.5L173.9,277.6M173.9,277.6L170.3,283.8M170.3,283.8L166.6,277.9M166.6,277.9L162.6,280.7M162.6,280.7L156.6,281.6M156.6,281.6L154.8,276.5M154.8,276.5L154.8,271.5M154.8,276.5L160.3,274.3M154.8,271.5L148,272.8M148,272.8L148,278.3M154.8,271.5L151.1,265.5M184.5,280.1L191.3,277.6M191.3,277.6L191.8,283.8M191.8,283.8L198.6,281.6M170.3,283.8L177.6,284.9" stroke="#9a55a8" stroke-width="0.7" fill="none"/>
<circle cx="162.6" cy="259.7" r="2.45" fill="url(#g_purple)"/>
<circle cx="151.1" cy="265.5" r="2.45" fill="url(#g_purple)"/>
<circle cx="159.9" cy="266.1" r="2.45" fill="url(#g_purple)"/>
<circle cx="168.1" cy="264.2" r="2.45" fill="url(#g_purple)"/>
<circle cx="175.4" cy="263.3" r="2.45" fill="url(#g_purple)"/>
<circle cx="172.1" cy="269.2" r="2.45" fill="url(#g_purple)"/>
<circle cx="178.9" cy="269.2" r="2.45" fill="url(#g_purple)"/>
<circle cx="148" cy="272.8" r="2.45" fill="url(#g_purple)"/>
<circle cx="154.8" cy="271.5" r="2.45" fill="url(#g_purple)"/>
<circle cx="160.3" cy="274.3" r="2.45" fill="url(#g_purple)"/>
<circle cx="166.6" cy="277.9" r="2.45" fill="url(#g_purple)"/>
<circle cx="173.9" cy="277.6" r="2.45" fill="url(#g_purple)"/>
<circle cx="178.5" cy="276.5" r="2.45" fill="url(#g_purple)"/>
<circle cx="184.5" cy="273.4" r="2.45" fill="url(#g_purple)"/>
<circle cx="191.3" cy="277.6" r="2.45" fill="url(#g_purple)"/>
<circle cx="198.6" cy="281.6" r="2.45" fill="url(#g_purple)"/>
<circle cx="148" cy="278.3" r="2.45" fill="url(#g_purple)"/>
<circle cx="154.8" cy="276.5" r="2.45" fill="url(#g_purple)"/>
<circle cx="156.6" cy="281.6" r="2.45" fill="url(#g_purple)"/>
<circle cx="162.6" cy="280.7" r="2.45" fill="url(#g_purple)"/>
<circle cx="170.3" cy="283.8" r="2.45" fill="url(#g_purple)"/>
<circle cx="177.6" cy="284.9" r="2.45" fill="url(#g_purple)"/>
<circle cx="184.5" cy="280.1" r="2.45" fill="url(#g_purple)"/>
<circle cx="191.8" cy="283.8" r="2.45" fill="url(#g_purple)"/>
<path d="M16.9,190.2L23.6,187.3M23.6,187.3L24.2,194.2M24.2,194.2L30.5,190.5M30.5,190.5L31.5,197.5M31.5,197.5L36,201.1M36,201.1L42.4,201.5M31.5,197.5L37.5,194.6M37.5,194.6L41.5,193.8M41.5,193.8L44.2,187.8M44.2,187.8L48.4,192.7M48.4,192.7L52.1,189.6M52.1,189.6L57.9,188.4M57.9,188.4L59.7,194.2M59.7,194.2L59.7,199.3M59.7,194.2L54.3,196.4M44.2,187.8L37.5,186.9M59.7,199.3L54.6,204.2M54.6,204.2L52.1,210.6M52.1,210.6L47.3,206.6M42.4,201.5L39.3,207.9M59.7,199.3L67,197.8M67,197.8L67.4,192.7M59.7,199.3L64.3,205.5" stroke="#4a50a8" stroke-width="0.85" fill="none"/>
<circle cx="16.9" cy="190.2" r="2.45" fill="url(#g_light)" stroke="#bdbdbd" stroke-width="0.3"/>
<circle cx="23.6" cy="187.3" r="2.45" fill="url(#g_light)" stroke="#bdbdbd" stroke-width="0.3"/>
<circle cx="30.5" cy="190.5" r="2.45" fill="url(#g_light)" stroke="#bdbdbd" stroke-width="0.3"/>
<circle cx="37.5" cy="186.9" r="2.45" fill="url(#g_light)" stroke="#bdbdbd" stroke-width="0.3"/>
<circle cx="44.2" cy="187.8" r="2.45" fill="url(#g_light)" stroke="#bdbdbd" stroke-width="0.3"/>
<circle cx="52.1" cy="189.6" r="2.45" fill="url(#g_light)" stroke="#bdbdbd" stroke-width="0.3"/>
<circle cx="57.9" cy="188.4" r="2.45" fill="url(#g_light)" stroke="#bdbdbd" stroke-width="0.3"/>
<circle cx="67.4" cy="192.7" r="2.45" fill="url(#g_light)" stroke="#bdbdbd" stroke-width="0.3"/>
<circle cx="24.2" cy="194.2" r="2.45" fill="url(#g_light)" stroke="#bdbdbd" stroke-width="0.3"/>
<circle cx="31.5" cy="197.5" r="2.45" fill="url(#g_light)" stroke="#bdbdbd" stroke-width="0.3"/>
<circle cx="37.5" cy="194.6" r="2.45" fill="url(#g_light)" stroke="#bdbdbd" stroke-width="0.3"/>
<circle cx="41.5" cy="193.8" r="2.45" fill="url(#g_light)" stroke="#bdbdbd" stroke-width="0.3"/>
<circle cx="48.4" cy="192.7" r="2.45" fill="url(#g_light)" stroke="#bdbdbd" stroke-width="0.3"/>
<circle cx="54.3" cy="196.4" r="2.45" fill="url(#g_light)" stroke="#bdbdbd" stroke-width="0.3"/>
<circle cx="59.7" cy="194.2" r="2.45" fill="url(#g_light)" stroke="#bdbdbd" stroke-width="0.3"/>
<circle cx="67" cy="197.8" r="2.45" fill="url(#g_light)" stroke="#bdbdbd" stroke-width="0.3"/>
<circle cx="36" cy="201.1" r="2.45" fill="url(#g_light)" stroke="#bdbdbd" stroke-width="0.3"/>
<circle cx="42.4" cy="201.5" r="2.45" fill="url(#g_light)" stroke="#bdbdbd" stroke-width="0.3"/>
<circle cx="59.7" cy="199.3" r="2.45" fill="url(#g_light)" stroke="#bdbdbd" stroke-width="0.3"/>
<circle cx="39.3" cy="207.9" r="2.45" fill="url(#g_light)" stroke="#bdbdbd" stroke-width="0.3"/>
<circle cx="47.3" cy="206.6" r="2.45" fill="url(#g_light)" stroke="#bdbdbd" stroke-width="0.3"/>
<circle cx="54.6" cy="204.2" r="2.45" fill="url(#g_light)" stroke="#bdbdbd" stroke-width="0.3"/>
<circle cx="64.3" cy="205.5" r="2.45" fill="url(#g_light)" stroke="#bdbdbd" stroke-width="0.3"/>
<circle cx="52.1" cy="210.6" r="2.45" fill="url(#g_light)" stroke="#bdbdbd" stroke-width="0.3"/>
<path d="M96.2,172.3L94.4,179.2M94.4,179.2L100.8,179.2M94.4,179.2L88.6,183.6M88.6,183.6L92.2,189.6M92.2,189.6L86.2,190.9M86.2,190.9L81.6,187.3M81.6,187.3L79.8,192.7M81.6,187.3L75.3,187.8M92.2,189.6L98.1,186M79.8,192.7L74.3,196.9M92.2,189.6L93,196.9M93,196.9L99.5,194.6M99.5,194.6L103.5,192.4M99.5,194.6L99,201.5M98.1,186L105.4,185.1M105.4,185.1L111.2,189.6M111.2,189.6L110.8,195.7M110.8,195.7L106.3,200M106.3,200L112.7,203.3M112.7,203.3L114.5,209.7M112.7,203.3L119.6,203.7M106.3,200L104.5,207.3M111.2,189.6L118.1,192.7" stroke="#8a8a8a" stroke-width="0.85" fill="none"/>
<circle cx="96.2" cy="172.3" r="2.45" fill="url(#g_light)" stroke="#bdbdbd" stroke-width="0.3"/>
<circle cx="94.4" cy="179.2" r="2.45" fill="url(#g_light)" stroke="#bdbdbd" stroke-width="0.3"/>
<circle cx="100.8" cy="179.2" r="2.45" fill="url(#g_light)" stroke="#bdbdbd" stroke-width="0.3"/>
<circle cx="88.6" cy="183.6" r="2.45" fill="url(#g_light)" stroke="#bdbdbd" stroke-width="0.3"/>
<circle cx="98.1" cy="186" r="2.45" fill="url(#g_light)" stroke="#bdbdbd" stroke-width="0.3"/>
<circle cx="105.4" cy="185.1" r="2.45" fill="url(#g_light)" stroke="#bdbdbd" stroke-width="0.3"/>
<circle cx="75.3" cy="187.8" r="2.45" fill="url(#g_light)" stroke="#bdbdbd" stroke-width="0.3"/>
<circle cx="81.6" cy="187.3" r="2.45" fill="url(#g_light)" stroke="#bdbdbd" stroke-width="0.3"/>
<circle cx="86.2" cy="190.9" r="2.45" fill="url(#g_light)" stroke="#bdbdbd" stroke-width="0.3"/>
<circle cx="92.2" cy="189.6" r="2.45" fill="url(#g_light)" stroke="#bdbdbd" stroke-width="0.3"/>
<circle cx="103.5" cy="192.4" r="2.45" fill="url(#g_light)" stroke="#bdbdbd" stroke-width="0.3"/>
<circle cx="111.2" cy="189.6" r="2.45" fill="url(#g_light)" stroke="#bdbdbd" stroke-width="0.3"/>
<circle cx="118.1" cy="192.7" r="2.45" fill="url(#g_light)" stroke="#bdbdbd" stroke-width="0.3"/>
<circle cx="79.8" cy="192.7" r="2.45" fill="url(#g_light)" stroke="#bdbdbd" stroke-width="0.3"/>
<circle cx="74.3" cy="196.9" r="2.45" fill="url(#g_light)" stroke="#bdbdbd" stroke-width="0.3"/>
<circle cx="93" cy="196.9" r="2.45" fill="url(#g_light)" stroke="#bdbdbd" stroke-width="0.3"/>
<circle cx="99.5" cy="194.6" r="2.45" fill="url(#g_light)" stroke="#bdbdbd" stroke-width="0.3"/>
<circle cx="110.8" cy="195.7" r="2.45" fill="url(#g_light)" stroke="#bdbdbd" stroke-width="0.3"/>
<circle cx="99" cy="201.5" r="2.45" fill="url(#g_light)" stroke="#bdbdbd" stroke-width="0.3"/>
<circle cx="106.3" cy="200" r="2.45" fill="url(#g_light)" stroke="#bdbdbd" stroke-width="0.3"/>
<circle cx="112.7" cy="203.3" r="2.45" fill="url(#g_light)" stroke="#bdbdbd" stroke-width="0.3"/>
<circle cx="119.6" cy="203.7" r="2.45" fill="url(#g_light)" stroke="#bdbdbd" stroke-width="0.3"/>
<circle cx="104.5" cy="207.3" r="2.45" fill="url(#g_light)" stroke="#bdbdbd" stroke-width="0.3"/>
<circle cx="114.5" cy="209.7" r="2.45" fill="url(#g_light)" stroke="#bdbdbd" stroke-width="0.3"/>
<path d="M20,200.6L21.8,207.9M21.8,207.9L27.8,209.7M27.8,209.7L34.2,208.8M34.2,208.8L34.2,215.2M34.2,215.2L29.6,217.9M29.6,217.9L28.7,224.3M28.7,224.3L35.1,224.3M35.1,224.3L32.4,230.3M34.2,215.2L40.6,213.4M40.6,213.4L40.6,219.7M40.6,219.7L46.6,219.4M46.6,219.4L52.1,217M52.1,217L51.5,223M51.5,223L57.6,221.9M21.8,207.9L22.9,214.6M22.9,214.6L22.9,220.7M34.2,208.8L30.2,203.3M52.1,217L57.9,213.4M21.8,207.9L15,207.3M32.4,230.3L39.3,230.3M39.3,230.3L44.2,226.1M39.3,230.3L37.5,237.1M22.9,220.7L16.3,217.9" stroke="#666" stroke-width="0.7" fill="none"/>
<circle cx="20" cy="200.6" r="2.45" fill="url(#g_dark)"/>
<circle cx="30.2" cy="203.3" r="2.45" fill="url(#g_dark)"/>
<circle cx="15" cy="207.3" r="2.45" fill="url(#g_dark)"/>
<circle cx="21.8" cy="207.9" r="2.45" fill="url(#g_dark)"/>
<circle cx="27.8" cy="209.7" r="2.45" fill="url(#g_dark)"/>
<circle cx="34.2" cy="208.8" r="2.45" fill="url(#g_dark)"/>
<circle cx="22.9" cy="214.6" r="2.45" fill="url(#g_dark)"/>
<circle cx="16.3" cy="217.9" r="2.45" fill="url(#g_dark)"/>
<circle cx="29.6" cy="217.9" r="2.45" fill="url(#g_dark)"/>
<circle cx="34.2" cy="215.2" r="2.45" fill="url(#g_dark)"/>
<circle cx="40.6" cy="213.4" r="2.45" fill="url(#g_dark)"/>
<circle cx="22.9" cy="220.7" r="2.45" fill="url(#g_dark)"/>
<circle cx="28.7" cy="224.3" r="2.45" fill="url(#g_dark)"/>
<circle cx="35.1" cy="224.3" r="2.45" fill="url(#g_dark)"/>
<circle cx="40.6" cy="219.7" r="2.45" fill="url(#g_dark)"/>
<circle cx="46.6" cy="219.4" r="2.45" fill="url(#g_dark)"/>
<circle cx="52.1" cy="217" r="2.45" fill="url(#g_dark)"/>
<circle cx="57.9" cy="213.4" r="2.45" fill="url(#g_dark)"/>
<circle cx="32.4" cy="230.3" r="2.45" fill="url(#g_dark)"/>
<circle cx="39.3" cy="230.3" r="2.45" fill="url(#g_dark)"/>
<circle cx="44.2" cy="226.1" r="2.45" fill="url(#g_dark)"/>
<circle cx="51.5" cy="223" r="2.45" fill="url(#g_dark)"/>
<circle cx="57.6" cy="221.9" r="2.45" fill="url(#g_dark)"/>
<circle cx="37.5" cy="237.1" r="2.45" fill="url(#g_dark)"/>
<path d="M80.7,199.3L85.8,203.7M85.8,203.7L89.9,208.8M80.7,199.3L78,205.5M89.9,208.8L93.9,203M93.9,203L97.2,209.2M97.2,209.2L102.6,213.4M102.6,213.4L102.6,219.7M102.6,213.4L96.2,216.5M96.2,216.5L91.7,217M91.7,217L84.9,217.6M84.9,217.6L80.2,220.7M80.2,220.7L74.7,221.9M74.7,221.9L72.5,216.1M72.5,216.1L72.5,210.6M72.5,216.1L78,213.9M72.5,210.6L68.9,205.1M72.5,210.6L66.1,212.1M66.1,212.1L66.1,217.9M91.7,217L88.9,223.4M88.9,223.4L95.9,224.3M102.6,219.7L109.4,217.6M109.4,217.6L109.9,223.4M109.9,223.4L116.7,221.2" stroke="#4a50a8" stroke-width="0.7" fill="none"/>
<circle cx="80.7" cy="199.3" r="2.45" fill="url(#g_navy)"/>
<circle cx="68.9" cy="205.1" r="2.45" fill="url(#g_navy)"/>
<circle cx="78" cy="205.5" r="2.45" fill="url(#g_navy)"/>
<circle cx="85.8" cy="203.7" r="2.45" fill="url(#g_navy)"/>
<circle cx="93.9" cy="203" r="2.45" fill="url(#g_navy)"/>
<circle cx="89.9" cy="208.8" r="2.45" fill="url(#g_navy)"/>
<circle cx="97.2" cy="209.2" r="2.45" fill="url(#g_navy)"/>
<circle cx="66.1" cy="212.1" r="2.45" fill="url(#g_navy)"/>
<circle cx="72.5" cy="210.6" r="2.45" fill="url(#g_navy)"/>
<circle cx="78" cy="213.9" r="2.45" fill="url(#g_navy)"/>
<circle cx="84.9" cy="217.6" r="2.45" fill="url(#g_navy)"/>
<circle cx="91.7" cy="217" r="2.45" fill="url(#g_navy)"/>
<circle cx="96.2" cy="216.5" r="2.45" fill="url(#g_navy)"/>
<circle cx="102.6" cy="213.4" r="2.45" fill="url(#g_navy)"/>
<circle cx="109.4" cy="217.6" r="2.45" fill="url(#g_navy)"/>
<circle cx="116.7" cy="221.2" r="2.45" fill="url(#g_navy)"/>
<circle cx="66.1" cy="217.9" r="2.45" fill="url(#g_navy)"/>
<circle cx="72.5" cy="216.1" r="2.45" fill="url(#g_navy)"/>
<circle cx="74.7" cy="221.9" r="2.45" fill="url(#g_navy)"/>
<circle cx="80.2" cy="220.7" r="2.45" fill="url(#g_navy)"/>
<circle cx="88.9" cy="223.4" r="2.45" fill="url(#g_navy)"/>
<circle cx="95.9" cy="224.3" r="2.45" fill="url(#g_navy)"/>
<circle cx="102.6" cy="219.7" r="2.45" fill="url(#g_navy)"/>
<circle cx="109.9" cy="223.4" r="2.45" fill="url(#g_navy)"/>
<text x="30.3" y="65.1" font-size="8.9" fill="#231f20">S20G 2PF<tspan font-size="5" dy="-3.4">L</tspan></text>
<text x="31.2" y="76.4" font-size="8.05" fill="#231f20">(PDB: 8az0)</text>
<text x="100.5" y="20.6" font-size="8.9" fill="#231f20">S20G 2PF<tspan font-size="5" dy="-3.4">L</tspan></text>
<text x="101.2" y="32" font-size="8.05" fill="#231f20">(PDB: 8az4)</text>
<text x="318.5" y="20.9" font-size="8.9" fill="#231f20">S20G 4PF<tspan font-size="5" dy="-3.4">LJ</tspan></text>
<text x="320.7" y="32.3" font-size="8.05" fill="#231f20">(PDB: 8az6)</text>
<text x="366.9" y="65.5" font-size="8.9" fill="#231f20">S20G 4PF<tspan font-size="5" dy="-3.4">LJ</tspan></text>
<text x="369.7" y="76.9" font-size="8.05" fill="#231f20">(PDB: 8az7)</text>
<text x="342.2" y="248.1" font-size="8.9" fill="#231f20">S20G 2PF<tspan font-size="5" dy="-3.4">C</tspan></text>
<text x="343.5" y="258.6" font-size="8.05" fill="#231f20">(PDB: 8az1)</text>
<text x="317.7" y="309.9" font-size="8.9" fill="#231f20">S20G 3PF<tspan font-size="5" dy="-3.4">CU</tspan></text>
<text x="321.2" y="321.2" font-size="8.05" fill="#231f20">(PDB: 8az2)</text>
<text x="28.5" y="253.7" font-size="8.9" fill="#231f20">S20G 4PF<tspan font-size="5" dy="-3.4">CU</tspan></text>
<text x="31.5" y="264.7" font-size="8.05" fill="#231f20">(PDB: 8az5)</text>
<text x="98.1" y="310.9" font-size="8.9" fill="#231f20">S20G 4PF<tspan font-size="5" dy="-3.4">CU</tspan></text>
<text x="102" y="321" font-size="8.05" fill="#231f20">(PDB: 8az3)</text>
<text x="159.9" y="198.3" font-size="9.1" fill="#231f20">S20G 2PF<tspan font-size="5" dy="-3.4">P</tspan><tspan font-size="7.9" dy="3.4"> (PDB: 8awt)</tspan></text>
<text x="195.6" y="18.7" font-size="9" text-anchor="start" font-weight="normal" fill="#231f20" >L-shaped</text>
<text x="178" y="86.2" font-size="9" text-anchor="start" font-weight="normal" fill="#231f20" >J-shaped</text>
<text x="157.6" y="135" font-size="9" text-anchor="start" font-weight="normal" fill="#231f20" >P-shaped</text>
<text x="47.9" y="300.4" font-size="9" text-anchor="start" font-weight="normal" fill="#231f20" >U-shaped</text>
<text x="232.6" y="304.6" font-size="9" text-anchor="start" font-weight="normal" fill="#231f20" >C-shaped</text>
<line x1="199.8" y1="25.2" x2="191.8" y2="33.2" stroke="#231f20" stroke-width="0.8" marker-end="url(#ah)"/>
<line x1="212" y1="79" x2="220.8" y2="69.6" stroke="#231f20" stroke-width="0.8" marker-end="url(#ah)"/>
<line x1="180.4" y1="138.3" x2="188.6" y2="144.8" stroke="#231f20" stroke-width="0.8" marker-end="url(#ah)"/>
<line x1="89.9" y1="291.1" x2="98.1" y2="282.4" stroke="#231f20" stroke-width="0.8" marker-end="url(#ah)"/>
<line x1="260.7" y1="295.4" x2="268.6" y2="287" stroke="#231f20" stroke-width="0.8" marker-end="url(#ah)"/>
<path d="M135.81,138.21 A111.5,111.5 0 0 1 273.83,131.93" stroke="#231f20" stroke-width="1.3" fill="none"/>
<path d="M282.0,138.7 L270.4,135.1 L274.0,132.0 L275.8,128.0 Z" fill="#231f20"/>
<path d="M281.79,194.29 A111.5,111.5 0 0 1 143.38,200.29" stroke="#231f20" stroke-width="1.3" fill="none"/>
<path d="M136.2,194.0 L148.0,197.6 L144.0,200.6 L142.3,204.8 Z" fill="#231f20"/>
<path id="arcU" d="M94.5,222.5 A114.3,114.3 0 0 1 323.1,222.5" fill="none"/>
<text font-size="9" fill="#231f20"><textPath href="#arcU" startOffset="49.3%" text-anchor="middle">L - Lineage</textPath></text>
<path id="arcL" d="M87.8,110 A121,121 0 0 0 329.8,110" fill="none"/>
<text font-size="9" fill="#231f20"><textPath href="#arcL" startOffset="49.3%" text-anchor="middle">C - Lineage</textPath></text>
<rect x="191.4" y="333.7" width="204.9" height="36.3" fill="none" stroke="#9a9a9a" stroke-width="0.8"/>
<circle cx="200" cy="350.8" r="3.6" fill="#17703a"/>
<text x="207.8" y="353.9" font-size="8.8" text-anchor="start" font-weight="normal" fill="#333" >8awt</text>
<circle cx="240.2" cy="344.8" r="3.4" fill="#f3e61e" stroke="#666" stroke-width="0.4"/>
<circle cx="240.2" cy="359.5" r="3.4" fill="#f7c8d9" stroke="#666" stroke-width="0.4"/>
<text x="247.6" y="347.9" font-size="8.8" text-anchor="start" font-weight="normal" fill="#333" >8az0</text>
<text x="247.6" y="362.6" font-size="8.8" text-anchor="start" font-weight="normal" fill="#333" >8az1</text>
<circle cx="280.4" cy="344.8" r="3.4" fill="#f5aa1e" stroke="#666" stroke-width="0.4"/>
<circle cx="280.4" cy="359.5" r="3.4" fill="#e2207f" stroke="#666" stroke-width="0.4"/>
<text x="287.8" y="347.9" font-size="8.8" text-anchor="start" font-weight="normal" fill="#333" >8az4</text>
<text x="287.8" y="362.6" font-size="8.8" text-anchor="start" font-weight="normal" fill="#333" >8az2</text>
<circle cx="320.5" cy="344.8" r="3.4" fill="#a07a2e" stroke="#666" stroke-width="0.4"/>
<circle cx="320.5" cy="359.5" r="3.4" fill="#6e2587" stroke="#666" stroke-width="0.4"/>
<text x="327.9" y="347.9" font-size="8.8" text-anchor="start" font-weight="normal" fill="#333" >8az6</text>
<text x="327.9" y="362.6" font-size="8.8" text-anchor="start" font-weight="normal" fill="#333" >8az3</text>
<circle cx="361" cy="344.8" r="3.4" fill="#8b1a1a" stroke="#666" stroke-width="0.4"/>
<circle cx="361" cy="359.5" r="3.4" fill="#2a2c8e" stroke="#666" stroke-width="0.4"/>
<text x="368.4" y="347.9" font-size="8.8" text-anchor="start" font-weight="normal" fill="#333" >8az7</text>
<text x="368.4" y="362.6" font-size="8.8" text-anchor="start" font-weight="normal" fill="#333" >8az5</text>
<text x="429" y="31.7" font-size="13" text-anchor="start" font-weight="bold" fill="#231f20" >B</text>
<path d="M483.6,23.95 L483.6,145.4 L665.8,145.4" stroke="#231f20" stroke-width="1.3" fill="none"/>
<line x1="479.1" x2="483.6" y1="23.95" y2="23.95" stroke="#231f20" stroke-width="1.2"/>
<text x="476.1" y="26.95" font-size="8.5" text-anchor="end" font-weight="normal" fill="#231f20" >15</text>
<line x1="479.1" x2="483.6" y1="44.2" y2="44.2" stroke="#231f20" stroke-width="1.2"/>
<text x="476.1" y="47.2" font-size="8.5" text-anchor="end" font-weight="normal" fill="#231f20" >10</text>
<line x1="479.1" x2="483.6" y1="64.45" y2="64.45" stroke="#231f20" stroke-width="1.2"/>
<text x="476.1" y="67.45" font-size="8.5" text-anchor="end" font-weight="normal" fill="#231f20" >5</text>
<line x1="479.1" x2="483.6" y1="84.7" y2="84.7" stroke="#231f20" stroke-width="1.2"/>
<text x="476.1" y="87.7" font-size="8.5" text-anchor="end" font-weight="normal" fill="#231f20" >0</text>
<line x1="479.1" x2="483.6" y1="104.95" y2="104.95" stroke="#231f20" stroke-width="1.2"/>
<text x="476.1" y="107.95" font-size="8.5" text-anchor="end" font-weight="normal" fill="#231f20" >-5</text>
<line x1="479.1" x2="483.6" y1="125.2" y2="125.2" stroke="#231f20" stroke-width="1.2"/>
<text x="476.1" y="128.2" font-size="8.5" text-anchor="end" font-weight="normal" fill="#231f20" >-10</text>
<line x1="479.1" x2="483.6" y1="145.45" y2="145.45" stroke="#231f20" stroke-width="1.2"/>
<text x="476.1" y="148.45" font-size="8.5" text-anchor="end" font-weight="normal" fill="#231f20" >-15</text>
<text transform="translate(459.2,85) rotate(-90)" font-size="8.6" text-anchor="middle" fill="#231f20">dG (kcal/mol)</text>
<line x1="491.2" x2="491.2" y1="145.4" y2="150.5" stroke="#231f20" stroke-width="1.2"/>
<line x1="503.93" x2="503.93" y1="145.4" y2="150.5" stroke="#231f20" stroke-width="1.2"/>
<line x1="516.66" x2="516.66" y1="145.4" y2="150.5" stroke="#231f20" stroke-width="1.2"/>
<line x1="529.39" x2="529.39" y1="145.4" y2="150.5" stroke="#231f20" stroke-width="1.2"/>
<line x1="542.12" x2="542.12" y1="145.4" y2="150.5" stroke="#231f20" stroke-width="1.2"/>
<line x1="554.85" x2="554.85" y1="145.4" y2="150.5" stroke="#231f20" stroke-width="1.2"/>
<line x1="567.58" x2="567.58" y1="145.4" y2="150.5" stroke="#231f20" stroke-width="1.2"/>
<line x1="580.31" x2="580.31" y1="145.4" y2="150.5" stroke="#231f20" stroke-width="1.2"/>
<line x1="593.04" x2="593.04" y1="145.4" y2="150.5" stroke="#231f20" stroke-width="1.2"/>
<line x1="605.77" x2="605.77" y1="145.4" y2="150.5" stroke="#231f20" stroke-width="1.2"/>
<line x1="618.5" x2="618.5" y1="145.4" y2="150.5" stroke="#231f20" stroke-width="1.2"/>
<line x1="631.23" x2="631.23" y1="145.4" y2="150.5" stroke="#231f20" stroke-width="1.2"/>
<line x1="643.96" x2="643.96" y1="145.4" y2="150.5" stroke="#231f20" stroke-width="1.2"/>
<line x1="656.69" x2="656.69" y1="145.4" y2="150.5" stroke="#231f20" stroke-width="1.2"/>
<text transform="translate(496,159.0) rotate(-45)" font-size="9.2" text-anchor="end" fill="#231f20">8az7 (peripheral)</text>
<text transform="translate(508.73,159.0) rotate(-45)" font-size="9.2" text-anchor="end" fill="#231f20">8az6 (peripheral)</text>
<text transform="translate(521.46,159.0) rotate(-45)" font-size="9.2" text-anchor="end" fill="#231f20">8az7 (core)</text>
<text transform="translate(534.19,159.0) rotate(-45)" font-size="9.2" text-anchor="end" fill="#231f20">8az6 (core)</text>
<text transform="translate(546.92,159.0) rotate(-45)" font-size="9.2" text-anchor="end" fill="#231f20">8az4 (core)</text>
<text transform="translate(559.65,159.0) rotate(-45)" font-size="9.2" text-anchor="end" fill="#231f20">8az0 (core)</text>
<text transform="translate(572.38,159.0) rotate(-45)" font-size="9.2" text-anchor="end" fill="#231f20">8awt (core)</text>
<text transform="translate(585.11,159.0) rotate(-45)" font-size="9.2" text-anchor="end" fill="#231f20">8az1 (core)</text>
<text transform="translate(597.84,159.0) rotate(-45)" font-size="9.2" text-anchor="end" fill="#231f20">8az2 (core)</text>
<text transform="translate(610.57,159.0) rotate(-45)" font-size="9.2" text-anchor="end" fill="#231f20">8az3 (core)</text>
<text transform="translate(623.3,159.0) rotate(-45)" font-size="9.2" text-anchor="end" fill="#231f20">8az5 (core)</text>
<text transform="translate(636.03,159.0) rotate(-45)" font-size="9.2" text-anchor="end" fill="#231f20">8az2 (peripheral)</text>
<text transform="translate(648.76,159.0) rotate(-45)" font-size="9.2" text-anchor="end" fill="#231f20">8az3 (peripheral)</text>
<text transform="translate(661.49,159.0) rotate(-45)" font-size="9.2" text-anchor="end" fill="#231f20">8az5 (peripheral)</text>
<line x1="483.6" x2="665" y1="84.7" y2="84.7" stroke="#231f20" stroke-width="1" stroke-dasharray="1.2,1.3"/>
<line x1="510.6" x2="510.6" y1="19.5" y2="145" stroke="#231f20" stroke-width="0.7" stroke-dasharray="1.6,1.6"/>
<line x1="561.4" x2="561.4" y1="19.5" y2="145" stroke="#231f20" stroke-width="0.7" stroke-dasharray="1.6,1.6"/>
<line x1="574.4" x2="574.4" y1="19.5" y2="145" stroke="#231f20" stroke-width="0.7" stroke-dasharray="1.6,1.6"/>
<line x1="625.4" x2="625.4" y1="19.5" y2="145" stroke="#231f20" stroke-width="0.7" stroke-dasharray="1.6,1.6"/>
<text x="497.7" y="6" font-size="8.4" text-anchor="middle" font-weight="normal" fill="#333" >L - line</text>
<text x="497.7" y="15.3" font-size="8.4" text-anchor="middle" font-weight="normal" fill="#333" >Peripheral</text>
<text x="497.7" y="24.6" font-size="8.4" text-anchor="middle" font-weight="normal" fill="#333" >PFs</text>
<text x="536" y="6" font-size="8.4" text-anchor="middle" font-weight="normal" fill="#333" >L - line</text>
<text x="536" y="15.3" font-size="8.4" text-anchor="middle" font-weight="normal" fill="#333" >Core</text>
<text x="536" y="24.6" font-size="8.4" text-anchor="middle" font-weight="normal" fill="#333" >PFs</text>
<text x="599.5" y="6" font-size="8.4" text-anchor="middle" font-weight="normal" fill="#333" >C - line</text>
<text x="599.5" y="15.3" font-size="8.4" text-anchor="middle" font-weight="normal" fill="#333" >Core</text>
<text x="599.5" y="24.6" font-size="8.4" text-anchor="middle" font-weight="normal" fill="#333" >PFs</text>
<text x="647" y="6" font-size="8.4" text-anchor="middle" font-weight="normal" fill="#333" >C - line</text>
<text x="647" y="15.3" font-size="8.4" text-anchor="middle" font-weight="normal" fill="#333" >Peripheral</text>
<text x="647" y="24.6" font-size="8.4" text-anchor="middle" font-weight="normal" fill="#333" >PFs</text>
<line x1="486.6" x2="495.8" y1="46.6" y2="46.6" stroke="#111" stroke-width="1.3"/>
<line x1="588.7" x2="597.9" y1="106.3" y2="106.3" stroke="#111" stroke-width="1.3"/>
<line x1="614.2" x2="623.4" y1="120.3" y2="120.3" stroke="#111" stroke-width="1.3"/>
<line x1="626.7" x2="635.9" y1="99.2" y2="99.2" stroke="#111" stroke-width="1.3"/>
<line x1="639.6" x2="648.8" y1="99.8" y2="99.8" stroke="#111" stroke-width="1.3"/>
<line x1="652.1" x2="661.3" y1="95.1" y2="95.1" stroke="#111" stroke-width="1.3"/>
<circle cx="491.2" cy="43.1" r="2.55" fill="#c8202a" stroke="#222" stroke-width="0.5"/>
<circle cx="491.2" cy="49.5" r="2.55" fill="#c8202a" stroke="#222" stroke-width="0.5"/>
<circle cx="502.2" cy="70.1" r="2.55" fill="#a07020" stroke="#222" stroke-width="0.5"/>
<circle cx="505.9" cy="67.9" r="2.55" fill="#a07020" stroke="#222" stroke-width="0.5"/>
<circle cx="514.9" cy="120.1" r="2.55" fill="#c8202a" stroke="#222" stroke-width="0.5"/>
<circle cx="518.6" cy="118.4" r="2.55" fill="#c8202a" stroke="#222" stroke-width="0.5"/>
<circle cx="527.4" cy="109.8" r="2.55" fill="#a07020" stroke="#222" stroke-width="0.5"/>
<circle cx="531.3" cy="107.4" r="2.55" fill="#a07020" stroke="#222" stroke-width="0.5"/>
<circle cx="540.4" cy="105.2" r="2.55" fill="#f59a1a" stroke="#222" stroke-width="0.5"/>
<circle cx="544.2" cy="101.8" r="2.55" fill="#f59a1a" stroke="#222" stroke-width="0.5"/>
<circle cx="553.1" cy="89.1" r="2.55" fill="#f5ea1a" stroke="#222" stroke-width="0.5"/>
<circle cx="556.8" cy="89.1" r="2.55" fill="#f5ea1a" stroke="#222" stroke-width="0.5"/>
<circle cx="565.9" cy="105.2" r="2.55" fill="#13a04a" stroke="#222" stroke-width="0.5"/>
<circle cx="569.6" cy="102.2" r="2.55" fill="#13a04a" stroke="#222" stroke-width="0.5"/>
<circle cx="578.4" cy="108.9" r="2.55" fill="#f7c8d4" stroke="#222" stroke-width="0.5"/>
<circle cx="582.3" cy="108.2" r="2.55" fill="#f7c8d4" stroke="#222" stroke-width="0.5"/>
<circle cx="593.3" cy="96.8" r="2.55" fill="#e51a8a" stroke="#222" stroke-width="0.5"/>
<circle cx="593.3" cy="115.3" r="2.55" fill="#e51a8a" stroke="#222" stroke-width="0.5"/>
<circle cx="604.1" cy="130" r="2.55" fill="#6e2a96" stroke="#222" stroke-width="0.5"/>
<circle cx="608" cy="126.8" r="2.55" fill="#6e2a96" stroke="#222" stroke-width="0.5"/>
<circle cx="618.8" cy="117.3" r="2.55" fill="#2a3590" stroke="#222" stroke-width="0.5"/>
<circle cx="618.8" cy="123.5" r="2.55" fill="#2a3590" stroke="#222" stroke-width="0.5"/>
<circle cx="631.3" cy="99.2" r="2.55" fill="#e51a8a" stroke="#222" stroke-width="0.5"/>
<circle cx="644.2" cy="95.5" r="2.55" fill="#6e2a96" stroke="#222" stroke-width="0.5"/>
<circle cx="644.2" cy="104.1" r="2.55" fill="#6e2a96" stroke="#222" stroke-width="0.5"/>
<circle cx="656.7" cy="89.5" r="2.55" fill="#2a3590" stroke="#222" stroke-width="0.5"/>
<circle cx="656.7" cy="100.5" r="2.55" fill="#2a3590" stroke="#222" stroke-width="0.5"/>
<rect x="415.3" y="223.1" width="124.1" height="125.5" fill="#fff"/>
<line x1="424.8" x2="424.8" y1="223.1" y2="348.6" stroke="#f3f3f3" stroke-width="0.35"/>
<line x1="462.4" x2="462.4" y1="223.1" y2="348.6" stroke="#f3f3f3" stroke-width="0.35"/>
<line x1="500" x2="500" y1="223.1" y2="348.6" stroke="#f3f3f3" stroke-width="0.35"/>
<line x1="537.6" x2="537.6" y1="223.1" y2="348.6" stroke="#f3f3f3" stroke-width="0.35"/>
<line x1="415.3" x2="539.4" y1="326.19" y2="326.19" stroke="#f3f3f3" stroke-width="0.35"/>
<line x1="415.3" x2="539.4" y1="294.75" y2="294.75" stroke="#f3f3f3" stroke-width="0.35"/>
<line x1="415.3" x2="539.4" y1="263.32" y2="263.32" stroke="#f3f3f3" stroke-width="0.35"/>
<line x1="415.3" x2="539.4" y1="231.89" y2="231.89" stroke="#f3f3f3" stroke-width="0.35"/>
<line x1="443.6" x2="443.6" y1="223.1" y2="348.6" stroke="#e6e6e6" stroke-width="0.6"/>
<line x1="481.2" x2="481.2" y1="223.1" y2="348.6" stroke="#e6e6e6" stroke-width="0.6"/>
<line x1="518.8" x2="518.8" y1="223.1" y2="348.6" stroke="#e6e6e6" stroke-width="0.6"/>
<line x1="415.3" x2="539.4" y1="341.9" y2="341.9" stroke="#e6e6e6" stroke-width="0.6"/>
<line x1="415.3" x2="539.4" y1="310.47" y2="310.47" stroke="#e6e6e6" stroke-width="0.6"/>
<line x1="415.3" x2="539.4" y1="279.04" y2="279.04" stroke="#e6e6e6" stroke-width="0.6"/>
<line x1="415.3" x2="539.4" y1="247.61" y2="247.61" stroke="#e6e6e6" stroke-width="0.6"/>
<clipPath id="cC1"><rect x="415.8" y="223.6" width="123.1" height="124.5"/></clipPath>
<g clip-path="url(#cC1)">
<line x1="481.2" x2="481.2" y1="223.1" y2="348.6" stroke="#333" stroke-width="0.8" stroke-dasharray="2.2,1.6"/>
<path d="M420.88,332.86 C422.35,331.79 426.66,328.9 429.67,326.39 C432.67,323.89 436.02,319.77 438.91,317.84 C441.8,315.92 444.5,316.49 447,314.84 C449.5,313.18 451.81,311.37 453.93,307.91 C456.05,304.44 457.59,299.05 459.71,294.04 C461.83,289.03 464.33,282.87 466.64,277.86 C468.95,272.85 471.46,269.39 473.58,263.99 C475.69,258.6 477.62,250.28 479.35,245.51 C481.09,240.73 482.44,235.49 483.98,235.34 C485.52,235.18 486.87,240.34 488.6,244.58 C490.33,248.82 492.45,256.14 494.38,260.76 C496.3,265.38 498.42,269.62 500.15,272.31 C501.89,275.01 503.24,276.24 504.78,276.94 C506.32,277.63 507.86,276.71 509.4,276.47 C510.94,276.24 512.48,274.63 514.02,275.55 C515.56,276.47 516.91,276.71 518.64,282.02 C520.38,287.34 522.49,299.43 524.42,307.44 C526.35,315.45 528.66,324.7 530.2,330.09 C531.74,335.48 533.09,338.18 533.66,339.8" stroke="#f7e11b" stroke-width="1.1" fill="none" stroke-linejoin="round"/>
<path d="M420.88,331.71 C422.35,330.67 426.66,327.97 429.67,325.47 C432.67,322.97 436.02,318.61 438.91,316.69 C441.8,314.76 444.38,315.65 447,313.91 C449.62,312.18 452.31,310.06 454.63,306.29 C456.94,302.51 458.79,296.39 460.87,291.27 C462.95,286.14 464.91,280.36 467.11,275.55 C469.3,270.74 471.88,267.54 474.04,262.38 C476.2,257.22 478.28,248.82 480.05,244.58 C481.82,240.34 483.13,236.49 484.67,236.96 C486.21,237.42 487.6,243.12 489.29,247.35 C490.99,251.59 492.91,258.06 494.84,262.38 C496.76,266.69 499.08,271.04 500.85,273.24 C502.62,275.43 503.93,275.16 505.47,275.55 C507.01,275.94 508.55,275.7 510.09,275.55 C511.63,275.4 513.1,273.16 514.71,274.63 C516.33,276.09 518.1,278.48 519.8,284.33 C521.49,290.19 523.15,302.05 524.88,309.75 C526.62,317.46 528.73,325.55 530.2,330.55 C531.66,335.56 533.09,338.26 533.66,339.8" stroke="#f7e11b" stroke-width="1.1" fill="none" stroke-linejoin="round"/>
<path d="M420.88,333.33 C421.96,332.56 425.12,330.63 427.35,328.7 C429.59,326.78 431.98,324.08 434.29,321.77 C436.6,319.46 439.1,316.46 441.22,314.84 C443.34,313.22 445.07,314.07 447,312.06 C448.92,310.06 450.85,307.44 452.78,302.82 C454.7,298.2 456.63,291.27 458.55,284.33 C460.48,277.4 462.21,268.23 464.33,261.22 C466.45,254.21 469.15,246.7 471.27,242.27 C473.38,237.84 475.31,235.34 477.04,234.64 C478.78,233.95 479.93,235.99 481.67,238.11 C483.4,240.23 485.32,243.5 487.44,247.35 C489.56,251.21 492.06,258.06 494.38,261.22 C496.69,264.38 499,263.61 501.31,266.31 C503.62,269 505.93,273.24 508.24,277.4 C510.55,281.56 512.48,285.1 515.18,291.27 C517.87,297.43 521.34,306.29 524.42,314.38 C527.5,322.46 532.12,335.56 533.66,339.8" stroke="#f7931e" stroke-width="1.1" fill="none" stroke-linejoin="round"/>
<path d="M420.88,330.55 C422.35,329.78 426.66,328.24 429.67,325.93 C432.67,323.62 436.21,319 438.91,316.69 C441.61,314.38 443.53,314.76 445.84,312.06 C448.15,309.37 450.47,305.52 452.78,300.51 C455.09,295.5 457.4,287.8 459.71,282.02 C462.02,276.24 464.33,270.85 466.64,265.84 C468.95,260.84 471.27,255.83 473.58,251.98 C475.89,248.13 478.39,245.35 480.51,242.73 C482.63,240.11 484.36,236.18 486.29,236.26 C488.21,236.34 489.95,239.42 492.06,243.2 C494.18,246.97 496.69,253.98 499,258.91 C501.31,263.84 503.24,267.77 505.93,272.78 C508.63,277.78 512.09,282.41 515.18,288.95 C518.26,295.5 521.34,303.59 524.42,312.06 C527.5,320.54 532.12,335.18 533.66,339.8" stroke="#f7931e" stroke-width="1.1" fill="none" stroke-linejoin="round"/>
<path d="M420.88,333.33 C421.96,332.17 425.12,329.09 427.35,326.39 C429.59,323.7 432.17,319.54 434.29,317.15 C436.41,314.76 438.14,312.45 440.07,312.06 C441.99,311.68 443.92,315.53 445.84,314.84 C447.77,314.14 449.7,311.37 451.62,307.91 C453.55,304.44 455.28,297.97 457.4,294.04 C459.52,290.11 462.21,286.34 464.33,284.33 C466.45,282.33 468.18,285.87 470.11,282.02 C472.04,278.17 473.96,268.15 475.89,261.22 C477.81,254.29 479.93,245.74 481.67,240.42 C483.4,235.11 484.94,230.87 486.29,229.33 C487.64,227.79 488.41,230.1 489.75,231.18 C491.1,232.26 492.45,233.49 494.38,235.8 C496.3,238.11 499,240.81 501.31,245.04 C503.62,249.28 505.93,255.06 508.24,261.22 C510.55,267.38 512.48,273.55 515.18,282.02 C517.87,290.49 521.34,302.44 524.42,312.06 C527.5,321.69 532.12,335.18 533.66,339.8" stroke="#a77b2b" stroke-width="1.2" fill="none" stroke-linejoin="round"/>
<path d="M420.88,331.71 C421.96,330.59 425.12,327.66 427.35,325.01 C429.59,322.35 432.17,318.11 434.29,315.76 C436.41,313.41 438.14,311.22 440.07,310.91 C441.99,310.6 443.92,314.57 445.84,313.91 C447.77,313.26 449.7,310.52 451.62,306.98 C453.55,303.44 455.28,296.58 457.4,292.65 C459.52,288.72 462.21,285.37 464.33,283.41 C466.45,281.44 468.11,284.37 470.11,280.87 C472.11,277.36 474.31,268.73 476.35,262.38 C478.39,256.02 480.59,247.62 482.36,242.73 C484.13,237.84 485.59,234.57 486.98,233.03 C488.37,231.49 489.29,232.72 490.68,233.49 C492.06,234.26 493.45,235.41 495.3,237.65 C497.15,239.88 499.54,242.77 501.77,246.89 C504.01,251.01 506.39,256.45 508.7,262.38 C511.02,268.31 513.02,274.2 515.64,282.48 C518.26,290.76 521.42,302.71 524.42,312.06 C527.42,321.42 532.12,334.21 533.66,338.64" stroke="#a77b2b" stroke-width="1.2" fill="none" stroke-linejoin="round"/>
<path d="M420.88,328.24 C421.96,325.55 425.31,316.69 427.35,312.06 C429.4,307.44 431.01,303.4 433.13,300.51 C435.25,297.62 437.95,295.31 440.07,294.73 C442.18,294.15 443.92,294.92 445.84,297.04 C447.77,299.16 449.7,305.32 451.62,307.44 C453.55,309.56 455.47,310.14 457.4,309.75 C459.32,309.37 461.25,308.21 463.18,305.13 C465.1,302.05 467.03,296.66 468.95,291.27 C470.88,285.87 472.81,278.75 474.73,272.78 C476.66,266.81 478.58,260.26 480.51,255.44 C482.44,250.63 484.55,246.08 486.29,243.89 C488.02,241.69 489.18,241.69 490.91,242.27 C492.64,242.85 494.57,245.16 496.69,247.35 C498.81,249.55 501.31,251.21 503.62,255.44 C505.93,259.68 508.24,266.42 510.55,272.78 C512.86,279.13 515.18,286.64 517.49,293.58 C519.8,300.51 521.72,307.06 524.42,314.38 C527.12,321.69 532.12,333.63 533.66,337.49" stroke="#c4242c" stroke-width="1.2" fill="none" stroke-linejoin="round"/>
<path d="M420.88,322.46 C421.96,319.96 425.12,311.68 427.35,307.44 C429.59,303.21 432.17,298.97 434.29,297.04 C436.41,295.12 438.14,295.31 440.07,295.89 C441.99,296.47 443.92,298.39 445.84,300.51 C447.77,302.63 449.7,307.44 451.62,308.6 C453.55,309.75 455.47,308.79 457.4,307.44 C459.32,306.09 461.25,304.36 463.18,300.51 C465.1,296.66 466.84,290.11 468.95,284.33 C471.07,278.55 473.58,270.47 475.89,265.84 C478.2,261.22 480.51,259.3 482.82,256.6 C485.13,253.9 487.83,250.82 489.75,249.67 C491.68,248.51 492.45,247.74 494.38,249.67 C496.3,251.59 499,256.98 501.31,261.22 C503.62,265.46 505.93,270.08 508.24,275.09 C510.55,280.1 512.48,284.72 515.18,291.27 C517.87,297.81 521.34,306.87 524.42,314.38 C527.5,321.89 532.12,332.67 533.66,336.33" stroke="#c4242c" stroke-width="1.2" fill="none" stroke-linejoin="round"/>
<path d="M420.88,341.65 C421.77,340.57 424.35,339.34 426.2,335.18 C428.05,331.02 430.05,324.01 431.98,316.69 C433.9,309.37 435.83,298.01 437.75,291.27 C439.68,284.52 441.61,277.4 443.53,276.24 C445.46,275.09 447.38,279.13 449.31,284.33 C451.24,289.53 453.16,301.28 455.09,307.44 C457.01,313.61 459.13,319.58 460.87,321.31 C462.6,323.04 463.75,321.31 465.49,317.84 C467.22,314.38 469.34,307.25 471.27,300.51 C473.19,293.77 475.31,284.33 477.04,277.4 C478.78,270.47 480.12,264.69 481.67,258.91 C483.21,253.13 484.75,246.97 486.29,242.73 C487.83,238.5 489.37,235.72 490.91,233.49 C492.45,231.25 493.99,229.91 495.53,229.33 C497.07,228.75 498.61,228.56 500.15,230.02 C501.69,231.49 503.24,234.07 504.78,238.11 C506.32,242.16 507.66,247.74 509.4,254.29 C511.13,260.84 513.25,269.31 515.18,277.4 C517.1,285.49 519.03,295.12 520.95,302.82 C522.88,310.52 524.61,317.26 526.73,323.62 C528.85,329.98 532.51,338.06 533.66,340.95" stroke="#19a552" stroke-width="1.5" fill="none" stroke-linejoin="round"/>
<path d="M420.88,341.18 C421.77,340.03 424.35,338.49 426.2,334.25 C428.05,330.01 430.05,323.08 431.98,315.76 C433.9,308.44 435.83,296.81 437.75,290.34 C439.68,283.87 441.61,277.75 443.53,276.94 C445.46,276.13 447.38,280.21 449.31,285.49 C451.24,290.76 453.16,302.55 455.09,308.6 C457.01,314.65 459.13,320.19 460.87,321.77 C462.6,323.35 463.75,321.54 465.49,318.07 C467.22,314.61 469.34,307.67 471.27,300.97 C473.19,294.27 475.31,284.68 477.04,277.86 C478.78,271.04 480.12,265.54 481.67,260.07 C483.21,254.6 484.94,248.24 486.29,245.04 C487.64,241.85 488.41,241.5 489.75,240.88 C491.1,240.27 492.84,241.89 494.38,241.35 C495.92,240.81 497.65,238.34 499,237.65 C500.35,236.96 501.31,236.42 502.46,237.19 C503.62,237.96 504.66,239.23 505.93,242.27 C507.2,245.31 508.47,249.4 510.09,255.44 C511.71,261.49 513.75,270.47 515.64,278.55 C517.53,286.64 519.49,296.39 521.42,303.98 C523.34,311.56 525.15,317.92 527.19,324.08 C529.23,330.25 532.59,338.14 533.66,340.95" stroke="#19a552" stroke-width="1.3" fill="none" stroke-linejoin="round"/>
</g>
<rect x="415.3" y="223.1" width="124.1" height="125.5" fill="none" stroke="#333" stroke-width="1.05"/>
<line x1="443.6" x2="443.6" y1="348.6" y2="350.6" stroke="#333" stroke-width="0.6"/>
<text x="443.6" y="356.2" font-size="5.6" text-anchor="middle" font-weight="normal" fill="#333" >−2</text>
<line x1="481.2" x2="481.2" y1="348.6" y2="350.6" stroke="#333" stroke-width="0.6"/>
<text x="481.2" y="356.2" font-size="5.6" text-anchor="middle" font-weight="normal" fill="#333" >0</text>
<line x1="518.8" x2="518.8" y1="348.6" y2="350.6" stroke="#333" stroke-width="0.6"/>
<text x="518.8" y="356.2" font-size="5.6" text-anchor="middle" font-weight="normal" fill="#333" >2</text>
<line x1="413.3" x2="415.3" y1="341.9" y2="341.9" stroke="#333" stroke-width="0.6"/>
<text x="412.5" y="343.9" font-size="5.6" text-anchor="end" font-weight="normal" fill="#333" >0.0</text>
<line x1="413.3" x2="415.3" y1="310.47" y2="310.47" stroke="#333" stroke-width="0.6"/>
<text x="412.5" y="312.47" font-size="5.6" text-anchor="end" font-weight="normal" fill="#333" >0.1</text>
<line x1="413.3" x2="415.3" y1="279.04" y2="279.04" stroke="#333" stroke-width="0.6"/>
<text x="412.5" y="281.04" font-size="5.6" text-anchor="end" font-weight="normal" fill="#333" >0.2</text>
<line x1="413.3" x2="415.3" y1="247.61" y2="247.61" stroke="#333" stroke-width="0.6"/>
<text x="412.5" y="249.61" font-size="5.6" text-anchor="end" font-weight="normal" fill="#333" >0.3</text>
<text x="478.2" y="361.6" font-size="5.75" text-anchor="middle" font-weight="normal" fill="#222" >dG residue contribution (kcal/mol)</text>
<text transform="translate(402.6,284.3) rotate(-90)" font-size="5.75" text-anchor="middle" fill="#222">Density</text>
<text x="447.7" y="341.6" font-size="5.8" text-anchor="middle" font-weight="bold" fill="#111" >Stabilizing</text>
<text x="503.6" y="341.6" font-size="5.8" text-anchor="middle" font-weight="bold" fill="#111" >Destabilizing</text>
<text x="399.2" y="233.6" font-size="13" text-anchor="start" font-weight="bold" fill="#111" >C</text>
<rect x="558.1" y="223.1" width="124.3" height="125.5" fill="#fff"/>
<line x1="566.7" x2="566.7" y1="223.1" y2="348.6" stroke="#f3f3f3" stroke-width="0.35"/>
<line x1="603.3" x2="603.3" y1="223.1" y2="348.6" stroke="#f3f3f3" stroke-width="0.35"/>
<line x1="639.9" x2="639.9" y1="223.1" y2="348.6" stroke="#f3f3f3" stroke-width="0.35"/>
<line x1="676.5" x2="676.5" y1="223.1" y2="348.6" stroke="#f3f3f3" stroke-width="0.35"/>
<line x1="558.1" x2="682.4" y1="328.03" y2="328.03" stroke="#f3f3f3" stroke-width="0.35"/>
<line x1="558.1" x2="682.4" y1="299.88" y2="299.88" stroke="#f3f3f3" stroke-width="0.35"/>
<line x1="558.1" x2="682.4" y1="271.73" y2="271.73" stroke="#f3f3f3" stroke-width="0.35"/>
<line x1="558.1" x2="682.4" y1="243.58" y2="243.58" stroke="#f3f3f3" stroke-width="0.35"/>
<line x1="585" x2="585" y1="223.1" y2="348.6" stroke="#e6e6e6" stroke-width="0.6"/>
<line x1="621.6" x2="621.6" y1="223.1" y2="348.6" stroke="#e6e6e6" stroke-width="0.6"/>
<line x1="658.2" x2="658.2" y1="223.1" y2="348.6" stroke="#e6e6e6" stroke-width="0.6"/>
<line x1="558.1" x2="682.4" y1="342.1" y2="342.1" stroke="#e6e6e6" stroke-width="0.6"/>
<line x1="558.1" x2="682.4" y1="313.95" y2="313.95" stroke="#e6e6e6" stroke-width="0.6"/>
<line x1="558.1" x2="682.4" y1="285.8" y2="285.8" stroke="#e6e6e6" stroke-width="0.6"/>
<line x1="558.1" x2="682.4" y1="257.65" y2="257.65" stroke="#e6e6e6" stroke-width="0.6"/>
<line x1="558.1" x2="682.4" y1="229.5" y2="229.5" stroke="#e6e6e6" stroke-width="0.6"/>
<clipPath id="cC2"><rect x="558.6" y="223.6" width="123.3" height="124.5"/></clipPath>
<g clip-path="url(#cC2)">
<line x1="621.6" x2="621.6" y1="223.1" y2="348.6" stroke="#333" stroke-width="0.8" stroke-dasharray="2.2,1.6"/>
<path d="M563.89,314.38 C564.85,313.61 567.74,310.91 569.67,309.75 C571.59,308.6 573.52,307.06 575.44,307.44 C577.37,307.83 579.1,310.52 581.22,312.06 C583.34,313.61 585.84,315.72 588.15,316.69 C590.47,317.65 592.78,318.61 595.09,317.84 C597.4,317.07 599.71,316.11 602.02,312.06 C604.33,308.02 606.64,300.12 608.95,293.58 C611.27,287.03 613.77,278.17 615.89,272.78 C618.01,267.38 619.74,265.84 621.67,261.22 C623.59,256.6 625.71,249.09 627.44,245.04 C629.18,241 630.52,238.11 632.06,236.96 C633.61,235.8 634.76,235.99 636.69,238.11 C638.61,240.23 641.31,243.89 643.62,249.67 C645.93,255.44 648.24,264.69 650.55,272.78 C652.86,280.87 655.18,290.11 657.49,298.2 C659.8,306.29 661.34,314.38 664.42,321.31 C667.5,328.24 674.05,336.72 675.98,339.8" stroke="#f7b9cc" stroke-width="1.1" fill="none" stroke-linejoin="round"/>
<path d="M563.89,316.69 C564.85,315.92 567.74,313.14 569.67,312.06 C571.59,310.99 573.52,309.91 575.44,310.22 C577.37,310.52 579.1,312.6 581.22,313.91 C583.34,315.22 585.84,317.23 588.15,318.07 C590.47,318.92 592.78,319.69 595.09,319 C597.4,318.3 599.71,317.96 602.02,313.91 C604.33,309.87 606.64,301.4 608.95,294.73 C611.27,288.07 613.65,279.59 615.89,273.93 C618.12,268.27 620.36,265.77 622.36,260.76 C624.36,255.75 626.21,247.74 627.91,243.89 C629.6,240.04 630.87,238.38 632.53,237.65 C634.18,236.92 635.92,237.19 637.84,239.5 C639.77,241.81 641.89,245.78 644.08,251.51 C646.28,257.25 648.7,265.96 651.02,273.93 C653.33,281.91 655.64,291.38 657.95,299.35 C660.26,307.33 661.88,315.03 664.88,321.77 C667.89,328.51 674.13,336.79 675.98,339.8" stroke="#f7b9cc" stroke-width="1.1" fill="none" stroke-linejoin="round"/>
<path d="M563.89,340.26 C564.85,337.49 567.55,330.63 569.67,323.62 C571.78,316.61 574.21,305.02 576.6,298.2 C578.99,291.38 581.68,283.87 583.99,282.71 C586.31,281.56 588.42,286.37 590.47,291.27 C592.51,296.16 594.32,306.67 596.24,312.06 C598.17,317.46 600.1,323.24 602.02,323.62 C603.95,324.01 605.87,320.15 607.8,314.38 C609.72,308.6 611.65,296.66 613.58,288.95 C615.5,281.25 617.62,273.55 619.35,268.15 C621.09,262.76 622.63,259.37 623.98,256.6 C625.32,253.83 626.09,252.29 627.44,251.51 C628.79,250.74 630.52,253.63 632.06,251.98 C633.61,250.32 635.15,243.43 636.69,241.58 C638.23,239.73 639.77,239.92 641.31,240.88 C642.85,241.85 644.39,242.81 645.93,247.35 C647.47,251.9 648.82,259.68 650.55,268.15 C652.29,276.63 654.41,288.95 656.33,298.2 C658.26,307.44 660.18,317.07 662.11,323.62 C664.03,330.17 665.58,334.48 667.89,337.49 C670.2,340.49 674.63,340.95 675.98,341.65" stroke="#19a552" stroke-width="1.4" fill="none" stroke-linejoin="round"/>
<path d="M563.89,339.8 C564.85,337.02 567.55,330.17 569.67,323.16 C571.78,316.15 574.21,304.36 576.6,297.74 C578.99,291.11 581.68,284.37 583.99,283.41 C586.31,282.44 588.42,287.07 590.47,291.96 C592.51,296.85 594.32,307.4 596.24,312.76 C598.17,318.11 600.1,323.74 602.02,324.08 C603.95,324.43 605.87,320.62 607.8,314.84 C609.72,309.06 611.65,297 613.58,289.42 C615.5,281.83 617.62,274.47 619.35,269.31 C621.09,264.15 622.44,261.34 623.98,258.45 C625.52,255.56 627.06,253.13 628.6,251.98 C630.14,250.82 631.68,251.59 633.22,251.51 C634.76,251.44 636.3,251.82 637.84,251.51 C639.38,251.21 641.04,249.51 642.46,249.67 C643.89,249.82 644.97,249.05 646.39,252.44 C647.82,255.83 649.28,262.18 651.02,270 C652.75,277.82 654.87,290.34 656.79,299.35 C658.72,308.37 660.65,317.73 662.57,324.08 C664.5,330.44 666.11,334.56 668.35,337.49 C670.58,340.41 674.7,340.95 675.98,341.65" stroke="#19a552" stroke-width="1.3" fill="none" stroke-linejoin="round"/>
<path d="M563.89,314.38 C564.85,312.84 567.74,307.13 569.67,305.13 C571.59,303.13 573.52,302.36 575.44,302.36 C577.37,302.36 579.1,303.51 581.22,305.13 C583.34,306.75 585.84,310.14 588.15,312.06 C590.47,313.99 592.78,316.11 595.09,316.69 C597.4,317.26 599.71,317.46 602.02,315.53 C604.33,313.61 606.64,310.33 608.95,305.13 C611.27,299.93 613.77,290.49 615.89,284.33 C618.01,278.17 619.93,274.32 621.67,268.15 C623.4,261.99 624.55,253.9 626.29,247.35 C628.02,240.81 630.33,231.37 632.06,228.87 C633.8,226.36 634.76,229.25 636.69,232.33 C638.61,235.41 641.31,240.61 643.62,247.35 C645.93,254.1 648.24,263.92 650.55,272.78 C652.86,281.64 655.18,292.04 657.49,300.51 C659.8,308.98 661.34,317.65 664.42,323.62 C667.5,329.59 674.05,334.21 675.98,336.33" stroke="#ec2a91" stroke-width="1.2" fill="none" stroke-linejoin="round"/>
<path d="M563.89,314.38 C564.85,313.22 567.74,308.6 569.67,307.44 C571.59,306.29 573.13,306.29 575.44,307.44 C577.75,308.6 581.03,311.29 583.53,314.38 C586.04,317.46 588.15,323.81 590.47,325.93 C592.78,328.05 595.09,327.86 597.4,327.09 C599.71,326.32 602.02,324.58 604.33,321.31 C606.64,318.04 609.15,313.61 611.27,307.44 C613.38,301.28 615.12,292.81 617.04,284.33 C618.97,275.86 620.89,264.69 622.82,256.6 C624.75,248.51 626.87,238.88 628.6,235.8 C630.33,232.72 631.1,235.41 633.22,238.11 C635.34,240.81 638.42,245.81 641.31,251.98 C644.2,258.14 647.86,267.38 650.55,275.09 C653.25,282.79 655.18,290.49 657.49,298.2 C659.8,305.9 661.34,314.76 664.42,321.31 C667.5,327.86 674.05,334.79 675.98,337.49" stroke="#ec2a91" stroke-width="1.2" fill="none" stroke-linejoin="round"/>
<path d="M563.89,323.62 C564.66,320.15 566.58,308.41 568.51,302.82 C570.44,297.24 573.33,291.84 575.44,290.11 C577.56,288.38 579.3,290.11 581.22,292.42 C583.15,294.73 585.07,299.93 587,303.98 C588.92,308.02 590.85,314.95 592.78,316.69 C594.7,318.42 596.63,317.07 598.55,314.38 C600.48,311.68 602.21,305.52 604.33,300.51 C606.45,295.5 608.95,289.34 611.27,284.33 C613.58,279.32 616.08,274.7 618.2,270.47 C620.32,266.23 622.05,262.76 623.98,258.91 C625.9,255.06 628.21,250.05 629.75,247.35 C631.29,244.66 632.06,243.12 633.22,242.73 C634.38,242.35 634.95,242.73 636.69,245.04 C638.42,247.35 641.31,251.21 643.62,256.6 C645.93,261.99 648.24,270.08 650.55,277.4 C652.86,284.72 655.18,292.81 657.49,300.51 C659.8,308.21 661.34,316.76 664.42,323.62 C667.5,330.48 674.05,338.64 675.98,341.65" stroke="#7a3195" stroke-width="1.2" fill="none" stroke-linejoin="round"/>
<path d="M563.89,321.77 C564.66,318.46 566.58,306.98 568.51,301.9 C570.44,296.81 573.25,292.57 575.44,291.27 C577.64,289.96 579.64,291.65 581.68,294.04 C583.73,296.43 585.77,301.97 587.69,305.59 C589.62,309.21 591.35,314.61 593.24,315.76 C595.13,316.92 597.09,315.38 599.02,312.53 C600.94,309.68 602.68,303.51 604.79,298.66 C606.91,293.81 609.42,288.18 611.73,283.41 C614.04,278.63 616.54,274.24 618.66,270 C620.78,265.77 622.51,261.84 624.44,257.99 C626.36,254.13 628.64,249.2 630.22,246.89 C631.8,244.58 632.68,244.2 633.91,244.12 C635.15,244.04 635.92,244.12 637.61,246.43 C639.31,248.74 641.85,252.59 644.08,257.99 C646.32,263.38 648.7,271.54 651.02,278.79 C653.33,286.03 655.64,293.88 657.95,301.43 C660.26,308.98 661.88,317.46 664.88,324.08 C667.89,330.71 674.13,338.33 675.98,341.18" stroke="#7a3195" stroke-width="1.2" fill="none" stroke-linejoin="round"/>
<path d="M563.89,325.93 C564.85,322.85 567.35,312.64 569.67,307.44 C571.98,302.24 575.44,296.27 577.75,294.73 C580.07,293.19 581.61,295.69 583.53,298.2 C585.46,300.7 587.58,306.67 589.31,309.75 C591.04,312.84 592.2,316.3 593.93,316.69 C595.67,317.07 597.59,315.53 599.71,312.06 C601.83,308.6 604.33,301.28 606.64,295.89 C608.95,290.49 611.27,285.1 613.58,279.71 C615.89,274.32 618.39,268.15 620.51,263.53 C622.63,258.91 624.36,255.25 626.29,251.98 C628.21,248.7 630.33,245.43 632.06,243.89 C633.8,242.35 634.76,241 636.69,242.73 C638.61,244.47 641.31,248.9 643.62,254.29 C645.93,259.68 648.24,267.38 650.55,275.09 C652.86,282.79 655.18,292.42 657.49,300.51 C659.8,308.6 661.34,316.76 664.42,323.62 C667.5,330.48 674.05,338.64 675.98,341.65" stroke="#2f3190" stroke-width="1.3" fill="none" stroke-linejoin="round"/>
<path d="M563.89,324.08 C564.85,321.16 567.35,311.22 569.67,306.52 C571.98,301.82 575.37,296.97 577.75,295.89 C580.14,294.81 581.99,297.58 583.99,300.05 C586,302.51 588,308.06 589.77,310.68 C591.54,313.3 592.85,315.84 594.63,315.76 C596.4,315.69 598.28,313.84 600.4,310.22 C602.52,306.6 605.03,299.28 607.34,294.04 C609.65,288.8 611.96,283.79 614.27,278.79 C616.58,273.78 619.08,268.27 621.2,263.99 C623.32,259.72 625.09,256.21 626.98,253.13 C628.87,250.05 630.83,246.93 632.53,245.51 C634.22,244.08 635.22,242.81 637.15,244.58 C639.08,246.35 641.77,250.82 644.08,256.14 C646.39,261.45 648.7,268.92 651.02,276.47 C653.33,284.02 655.64,293.42 657.95,301.43 C660.26,309.45 661.88,317.77 664.88,324.54 C667.89,331.32 674.13,339.18 675.98,342.11" stroke="#2f3190" stroke-width="1.3" fill="none" stroke-linejoin="round"/>
</g>
<rect x="558.1" y="223.1" width="124.3" height="125.5" fill="none" stroke="#333" stroke-width="1.05"/>
<line x1="585" x2="585" y1="348.6" y2="350.6" stroke="#333" stroke-width="0.6"/>
<text x="585" y="356.2" font-size="5.6" text-anchor="middle" font-weight="normal" fill="#333" >−2</text>
<line x1="621.6" x2="621.6" y1="348.6" y2="350.6" stroke="#333" stroke-width="0.6"/>
<text x="621.6" y="356.2" font-size="5.6" text-anchor="middle" font-weight="normal" fill="#333" >0</text>
<line x1="658.2" x2="658.2" y1="348.6" y2="350.6" stroke="#333" stroke-width="0.6"/>
<text x="658.2" y="356.2" font-size="5.6" text-anchor="middle" font-weight="normal" fill="#333" >2</text>
<line x1="556.1" x2="558.1" y1="342.1" y2="342.1" stroke="#333" stroke-width="0.6"/>
<text x="555.3" y="344.1" font-size="5.6" text-anchor="end" font-weight="normal" fill="#333" >0.0</text>
<line x1="556.1" x2="558.1" y1="313.95" y2="313.95" stroke="#333" stroke-width="0.6"/>
<text x="555.3" y="315.95" font-size="5.6" text-anchor="end" font-weight="normal" fill="#333" >0.1</text>
<line x1="556.1" x2="558.1" y1="285.8" y2="285.8" stroke="#333" stroke-width="0.6"/>
<text x="555.3" y="287.8" font-size="5.6" text-anchor="end" font-weight="normal" fill="#333" >0.2</text>
<line x1="556.1" x2="558.1" y1="257.65" y2="257.65" stroke="#333" stroke-width="0.6"/>
<text x="555.3" y="259.65" font-size="5.6" text-anchor="end" font-weight="normal" fill="#333" >0.3</text>
<line x1="556.1" x2="558.1" y1="229.5" y2="229.5" stroke="#333" stroke-width="0.6"/>
<text x="555.3" y="231.5" font-size="5.6" text-anchor="end" font-weight="normal" fill="#333" >0.4</text>
<text x="620.3" y="361.6" font-size="5.75" text-anchor="middle" font-weight="normal" fill="#222" >dG residue contribution (kcal/mol)</text>
<text transform="translate(547.5,284.3) rotate(-90)" font-size="5.75" text-anchor="middle" fill="#222">Density</text>
<text x="590.5" y="341.6" font-size="5.8" text-anchor="middle" font-weight="bold" fill="#111" >Stabilizing</text>
<text x="646" y="341.6" font-size="5.8" text-anchor="middle" font-weight="bold" fill="#111" >Destabilizing</text>
<rect x="27.6" y="390.5" width="109.6" height="113.2" fill="#fff"/>
<line x1="27.6" x2="137.2" y1="409.7" y2="409.7" stroke="#f3f3f3" stroke-width="0.35"/>
<line x1="27.6" x2="137.2" y1="438.1" y2="438.1" stroke="#f3f3f3" stroke-width="0.35"/>
<line x1="27.6" x2="137.2" y1="466.5" y2="466.5" stroke="#f3f3f3" stroke-width="0.35"/>
<line x1="27.6" x2="137.2" y1="494.9" y2="494.9" stroke="#f3f3f3" stroke-width="0.35"/>
<line x1="57.4" x2="57.4" y1="390.5" y2="503.7" stroke="#e6e6e6" stroke-width="0.6"/>
<line x1="107.2" x2="107.2" y1="390.5" y2="503.7" stroke="#e6e6e6" stroke-width="0.6"/>
<line x1="27.6" x2="137.2" y1="395.5" y2="395.5" stroke="#e6e6e6" stroke-width="0.6"/>
<line x1="27.6" x2="137.2" y1="423.9" y2="423.9" stroke="#e6e6e6" stroke-width="0.6"/>
<line x1="27.6" x2="137.2" y1="452.3" y2="452.3" stroke="#e6e6e6" stroke-width="0.6"/>
<line x1="27.6" x2="137.2" y1="480.7" y2="480.7" stroke="#e6e6e6" stroke-width="0.6"/>
<clipPath id="cD1"><rect x="28.1" y="391" width="108.6" height="112.2"/></clipPath>
<g clip-path="url(#cD1)">
</g>
<rect x="27.6" y="390.5" width="109.6" height="113.2" fill="none" stroke="#333" stroke-width="1.05"/>
<line x1="57.4" x2="57.4" y1="503.7" y2="505.7" stroke="#333" stroke-width="0.6"/>
<line x1="107.2" x2="107.2" y1="503.7" y2="505.7" stroke="#333" stroke-width="0.6"/>
<line x1="25.6" x2="27.6" y1="395.5" y2="395.5" stroke="#333" stroke-width="0.6"/>
<text x="24.8" y="397.5" font-size="5.6" text-anchor="end" font-weight="normal" fill="#333" >0.0</text>
<line x1="25.6" x2="27.6" y1="423.9" y2="423.9" stroke="#333" stroke-width="0.6"/>
<text x="24.8" y="425.9" font-size="5.6" text-anchor="end" font-weight="normal" fill="#333" >−0.5</text>
<line x1="25.6" x2="27.6" y1="452.3" y2="452.3" stroke="#333" stroke-width="0.6"/>
<text x="24.8" y="454.3" font-size="5.6" text-anchor="end" font-weight="normal" fill="#333" >−1.0</text>
<line x1="25.6" x2="27.6" y1="480.7" y2="480.7" stroke="#333" stroke-width="0.6"/>
<text x="24.8" y="482.7" font-size="5.6" text-anchor="end" font-weight="normal" fill="#333" >−1.5</text>
<text transform="translate(13.4,445.6) rotate(-90)" font-size="5.75" text-anchor="middle" fill="#222">Backbone H−bond (kcal/mol)</text>
<text x="57.4" y="511" font-size="5.75" text-anchor="middle" font-weight="normal" fill="#222" >Destabilizing</text>
<text x="107.2" y="511" font-size="5.75" text-anchor="middle" font-weight="normal" fill="#222" >Stabilizing</text>
<line x1="57.4" x2="57.4" y1="395.5" y2="495.1" stroke="#222" stroke-width="0.9"/>
<path d="M38.4,428.9 L76.6,428.9 L76.6,446.6 L75.1,452.2 L76.6,457.6 L76.6,462.8 L38.4,462.8 L38.4,457.6 L39.9,452.2 L38.4,446.6 Z" fill="#d3e19c" stroke="#555" stroke-width="0.6"/>
<line x1="39.9" x2="75.1" y1="452.2" y2="452.2" stroke="#555" stroke-width="0.8"/>
<line x1="57.4" x2="57.4" y1="428.9" y2="462.8" stroke="#222" stroke-width="0.9"/>
<line x1="50.2" x2="64.6" y1="395.5" y2="395.5" stroke="#222" stroke-width="0.9"/>
<line x1="50.2" x2="64.6" y1="495.1" y2="495.1" stroke="#222" stroke-width="0.9"/>
<line x1="107.2" x2="107.2" y1="442.9" y2="486.5" stroke="#222" stroke-width="0.9"/>
<path d="M88.4,454.8 L125.8,454.8 L125.8,458.6 L124.3,462.8 L125.8,466.8 L125.8,467.5 L88.4,467.5 L88.4,466.8 L89.9,462.8 L88.4,458.6 Z" fill="#aad8e6" stroke="#555" stroke-width="0.6"/>
<line x1="89.9" x2="124.3" y1="462.8" y2="462.8" stroke="#555" stroke-width="0.8"/>
<line x1="107.2" x2="107.2" y1="454.8" y2="467.5" stroke="#222" stroke-width="0.9"/>
<line x1="100.2" x2="114.2" y1="442.9" y2="442.9" stroke="#222" stroke-width="0.9"/>
<line x1="100.2" x2="114.2" y1="486.5" y2="486.5" stroke="#222" stroke-width="0.9"/>
<circle cx="107.2" cy="395.5" r="1.15" fill="#333" fill-opacity="1"/>
<circle cx="107.2" cy="413" r="1.15" fill="#333" fill-opacity="0.3"/>
<circle cx="107.2" cy="417" r="1.15" fill="#333" fill-opacity="0.3"/>
<circle cx="107.2" cy="421" r="1.15" fill="#333" fill-opacity="0.5"/>
<circle cx="107.2" cy="423" r="1.15" fill="#333" fill-opacity="0.8"/>
<circle cx="107.2" cy="425" r="1.15" fill="#333" fill-opacity="0.8"/>
<circle cx="107.2" cy="427" r="1.15" fill="#333" fill-opacity="0.8"/>
<circle cx="107.2" cy="429" r="1.15" fill="#333" fill-opacity="0.8"/>
<circle cx="107.2" cy="431" r="1.15" fill="#333" fill-opacity="0.8"/>
<circle cx="107.2" cy="433" r="1.15" fill="#333" fill-opacity="0.8"/>
<circle cx="107.2" cy="434.5" r="1.15" fill="#333" fill-opacity="0.8"/>
<circle cx="107.2" cy="488.6" r="1.15" fill="#333" fill-opacity="0.6"/>
<circle cx="107.2" cy="491" r="1.15" fill="#333" fill-opacity="0.5"/>
<circle cx="107.2" cy="493" r="1.15" fill="#333" fill-opacity="0.4"/>
<circle cx="107.2" cy="498.3" r="1.15" fill="#333" fill-opacity="0.4"/>
<text x="70.1" y="397.9" font-size="6.84" text-anchor="start" font-weight="normal" fill="#222" >p&lt;0.0001</text>
<rect x="27.6" y="520.9" width="109.6" height="113.2" fill="#fff"/>
<line x1="27.6" x2="137.2" y1="540.45" y2="540.45" stroke="#f3f3f3" stroke-width="0.35"/>
<line x1="27.6" x2="137.2" y1="568.75" y2="568.75" stroke="#f3f3f3" stroke-width="0.35"/>
<line x1="27.6" x2="137.2" y1="597.05" y2="597.05" stroke="#f3f3f3" stroke-width="0.35"/>
<line x1="27.6" x2="137.2" y1="625.35" y2="625.35" stroke="#f3f3f3" stroke-width="0.35"/>
<line x1="57.4" x2="57.4" y1="520.9" y2="634.1" stroke="#e6e6e6" stroke-width="0.6"/>
<line x1="107.2" x2="107.2" y1="520.9" y2="634.1" stroke="#e6e6e6" stroke-width="0.6"/>
<line x1="27.6" x2="137.2" y1="526.3" y2="526.3" stroke="#e6e6e6" stroke-width="0.6"/>
<line x1="27.6" x2="137.2" y1="554.6" y2="554.6" stroke="#e6e6e6" stroke-width="0.6"/>
<line x1="27.6" x2="137.2" y1="582.9" y2="582.9" stroke="#e6e6e6" stroke-width="0.6"/>
<line x1="27.6" x2="137.2" y1="611.2" y2="611.2" stroke="#e6e6e6" stroke-width="0.6"/>
<clipPath id="cD2"><rect x="28.1" y="521.4" width="108.6" height="112.2"/></clipPath>
<g clip-path="url(#cD2)">
</g>
<rect x="27.6" y="520.9" width="109.6" height="113.2" fill="none" stroke="#333" stroke-width="1.05"/>
<line x1="57.4" x2="57.4" y1="634.1" y2="636.1" stroke="#333" stroke-width="0.6"/>
<line x1="107.2" x2="107.2" y1="634.1" y2="636.1" stroke="#333" stroke-width="0.6"/>
<line x1="25.6" x2="27.6" y1="526.3" y2="526.3" stroke="#333" stroke-width="0.6"/>
<text x="24.8" y="528.3" font-size="5.6" text-anchor="end" font-weight="normal" fill="#333" >0.0</text>
<line x1="25.6" x2="27.6" y1="554.6" y2="554.6" stroke="#333" stroke-width="0.6"/>
<text x="24.8" y="556.6" font-size="5.6" text-anchor="end" font-weight="normal" fill="#333" >−0.5</text>
<line x1="25.6" x2="27.6" y1="582.9" y2="582.9" stroke="#333" stroke-width="0.6"/>
<text x="24.8" y="584.9" font-size="5.6" text-anchor="end" font-weight="normal" fill="#333" >−1.0</text>
<line x1="25.6" x2="27.6" y1="611.2" y2="611.2" stroke="#333" stroke-width="0.6"/>
<text x="24.8" y="613.2" font-size="5.6" text-anchor="end" font-weight="normal" fill="#333" >−1.5</text>
<text transform="translate(13.4,576) rotate(-90)" font-size="5.75" text-anchor="middle" fill="#222">Backbone H−bond (kcal/mol)</text>
<text x="57.4" y="641.4" font-size="5.75" text-anchor="middle" font-weight="normal" fill="#222" >Destabilizing</text>
<text x="107.2" y="641.4" font-size="5.75" text-anchor="middle" font-weight="normal" fill="#222" >Stabilizing</text>
<line x1="57.4" x2="57.4" y1="526.3" y2="606.7" stroke="#222" stroke-width="0.9"/>
<path d="M38.4,558 L76.6,558 L76.6,575.8 L75.1,579.1 L76.6,582.6 L76.6,591.4 L38.4,591.4 L38.4,582.6 L39.9,579.1 L38.4,575.8 Z" fill="#d3e19c" stroke="#555" stroke-width="0.6"/>
<line x1="39.9" x2="75.1" y1="579.1" y2="579.1" stroke="#555" stroke-width="0.8"/>
<line x1="57.4" x2="57.4" y1="558" y2="591.4" stroke="#222" stroke-width="0.9"/>
<line x1="50.2" x2="64.6" y1="526.3" y2="526.3" stroke="#222" stroke-width="0.9"/>
<line x1="50.2" x2="64.6" y1="606.7" y2="606.7" stroke="#222" stroke-width="0.9"/>
<line x1="107.2" x2="107.2" y1="557.5" y2="620.7" stroke="#222" stroke-width="0.9"/>
<path d="M88.4,582.3 L125.8,582.3 L125.8,590.8 L124.3,594.6 L125.8,598.4 L125.8,599.2 L88.4,599.2 L88.4,598.4 L89.9,594.6 L88.4,590.8 Z" fill="#aad8e6" stroke="#555" stroke-width="0.6"/>
<line x1="89.9" x2="124.3" y1="594.6" y2="594.6" stroke="#555" stroke-width="0.8"/>
<line x1="107.2" x2="107.2" y1="582.3" y2="599.2" stroke="#222" stroke-width="0.9"/>
<line x1="100.2" x2="114.2" y1="557.5" y2="557.5" stroke="#222" stroke-width="0.9"/>
<line x1="100.2" x2="114.2" y1="620.7" y2="620.7" stroke="#222" stroke-width="0.9"/>
<circle cx="107.2" cy="526.3" r="1.15" fill="#333" fill-opacity="1"/>
<circle cx="107.2" cy="541.4" r="1.15" fill="#333" fill-opacity="0.3"/>
<circle cx="107.2" cy="543" r="1.15" fill="#333" fill-opacity="0.3"/>
<circle cx="107.2" cy="545" r="1.15" fill="#333" fill-opacity="0.3"/>
<circle cx="107.2" cy="549" r="1.15" fill="#333" fill-opacity="0.6"/>
<circle cx="107.2" cy="551" r="1.15" fill="#333" fill-opacity="0.8"/>
<circle cx="107.2" cy="553.2" r="1.15" fill="#333" fill-opacity="0.9"/>
<circle cx="107.2" cy="628.7" r="1.15" fill="#333" fill-opacity="0.4"/>
<text x="70.1" y="528.7" font-size="6.84" text-anchor="start" font-weight="normal" fill="#222" >p&lt;0.0001</text>
<text x="8.2" y="389" font-size="13" text-anchor="start" font-weight="bold" fill="#111" >D</text>
<rect x="159.8" y="390.5" width="115" height="113.2" fill="#fff"/>
<line x1="170" x2="170" y1="390.5" y2="503.7" stroke="#f3f3f3" stroke-width="0.35"/>
<line x1="198.4" x2="198.4" y1="390.5" y2="503.7" stroke="#f3f3f3" stroke-width="0.35"/>
<line x1="226.8" x2="226.8" y1="390.5" y2="503.7" stroke="#f3f3f3" stroke-width="0.35"/>
<line x1="255.2" x2="255.2" y1="390.5" y2="503.7" stroke="#f3f3f3" stroke-width="0.35"/>
<line x1="159.8" x2="274.8" y1="480.95" y2="480.95" stroke="#f3f3f3" stroke-width="0.35"/>
<line x1="159.8" x2="274.8" y1="445.25" y2="445.25" stroke="#f3f3f3" stroke-width="0.35"/>
<line x1="159.8" x2="274.8" y1="409.55" y2="409.55" stroke="#f3f3f3" stroke-width="0.35"/>
<line x1="184.2" x2="184.2" y1="390.5" y2="503.7" stroke="#e6e6e6" stroke-width="0.6"/>
<line x1="212.6" x2="212.6" y1="390.5" y2="503.7" stroke="#e6e6e6" stroke-width="0.6"/>
<line x1="241" x2="241" y1="390.5" y2="503.7" stroke="#e6e6e6" stroke-width="0.6"/>
<line x1="269.4" x2="269.4" y1="390.5" y2="503.7" stroke="#e6e6e6" stroke-width="0.6"/>
<line x1="159.8" x2="274.8" y1="498.8" y2="498.8" stroke="#e6e6e6" stroke-width="0.6"/>
<line x1="159.8" x2="274.8" y1="463.1" y2="463.1" stroke="#e6e6e6" stroke-width="0.6"/>
<line x1="159.8" x2="274.8" y1="427.4" y2="427.4" stroke="#e6e6e6" stroke-width="0.6"/>
<line x1="159.8" x2="274.8" y1="391.7" y2="391.7" stroke="#e6e6e6" stroke-width="0.6"/>
<clipPath id="cE1"><rect x="160.3" y="391" width="114" height="112.2"/></clipPath>
<g clip-path="url(#cE1)">
<path d="M164.81,497.7 C166.78,497.55 173.61,497.62 176.67,496.83 C179.73,496.04 181.16,496.47 183.14,492.95 C185.12,489.43 186.56,481.81 188.53,475.69 C190.51,469.58 192.92,460.34 195,456.28 C197.09,452.22 199.07,450.96 201.04,451.32 C203.02,451.68 204.82,455.45 206.87,458.44 C208.92,461.42 210.82,464.91 213.34,469.22 C215.86,473.54 219.45,482.35 221.97,484.32 C224.48,486.3 226.28,482.35 228.44,481.09 C230.6,479.83 232.93,477.67 234.91,476.77 C236.89,475.87 238.14,474.98 240.3,475.69 C242.46,476.41 245.16,478.75 247.85,481.09 C250.55,483.42 254.32,488.1 256.48,489.72 C258.64,491.33 259.36,490.97 260.79,490.79 C262.23,490.61 263.67,489.18 265.11,488.64 C266.55,488.1 268.7,487.74 269.42,487.56" stroke="#19a552" stroke-width="1.4" fill="none" stroke-linejoin="round"/>
<path d="M164.81,497.26 C166.78,496.91 173.61,496.19 176.67,495.11 C179.73,494.03 180.98,494.75 183.14,490.79 C185.3,486.84 187.45,477.85 189.61,471.38 C191.77,464.91 194.18,456.03 196.08,451.97 C197.99,447.9 199.25,447.01 201.04,447.01 C202.84,447.01 204.82,448.62 206.87,451.97 C208.92,455.31 211,462.03 213.34,467.07 C215.68,472.1 218.55,479.29 220.89,482.17 C223.23,485.04 225.02,485.04 227.36,484.32 C229.7,483.6 232.57,478.21 234.91,477.85 C237.25,477.49 239.22,480.01 241.38,482.17 C243.54,484.32 245.34,488.64 247.85,490.79 C250.37,492.95 253.96,495.11 256.48,495.11 C259,495.11 260.79,492.05 262.95,490.79 C265.11,489.54 268.34,488.1 269.42,487.56" stroke="#f7e11b" stroke-width="1.2" fill="none" stroke-linejoin="round"/>
<path d="M164.81,496.19 C166.06,495.47 170.02,492.23 172.36,491.87 C174.69,491.51 176.67,494.39 178.83,494.03 C180.98,493.67 183.14,495.29 185.3,489.72 C187.45,484.14 189.79,470.48 191.77,460.6 C193.75,450.71 195.54,437.59 197.16,430.4 C198.78,423.21 199.86,417.45 201.48,417.45 C203.09,417.45 204.89,422.85 206.87,430.4 C208.85,437.95 211.18,453.76 213.34,462.75 C215.5,471.74 217.47,479.65 219.81,484.32 C222.15,489 224.84,490.25 227.36,490.79 C229.88,491.33 232.57,487.38 234.91,487.56 C237.25,487.74 239.22,490.25 241.38,491.87 C243.54,493.49 244.98,496.08 247.85,497.26 C250.73,498.45 255.4,500.07 258.64,498.99 C261.87,497.91 265.47,494.68 267.26,490.79 C269.06,486.91 269.06,478.21 269.42,475.69" stroke="#f7931e" stroke-width="1.1" fill="none" stroke-linejoin="round"/>
<path d="M164.81,496.83 C166.06,496.19 170.02,493.31 172.36,492.95 C174.69,492.59 176.67,495.04 178.83,494.68 C180.98,494.32 183.14,496.11 185.3,490.79 C187.45,485.47 189.79,472.46 191.77,462.75 C193.75,453.05 195.47,439.56 197.16,432.55 C198.85,425.54 200.22,420.62 201.91,420.69 C203.6,420.76 205.32,425.62 207.3,432.99 C209.28,440.36 211.61,456.17 213.77,464.91 C215.93,473.65 217.98,481.02 220.24,485.4 C222.51,489.79 224.92,490.76 227.36,491.23 C229.8,491.69 232.57,487.99 234.91,488.21 C237.25,488.42 239.22,490.94 241.38,492.52 C243.54,494.1 244.98,496.62 247.85,497.7 C250.73,498.77 255.4,499.96 258.64,498.99 C261.87,498.02 265.47,495.4 267.26,491.87 C269.06,488.35 269.06,480.19 269.42,477.85" stroke="#f7931e" stroke-width="1.1" fill="none" stroke-linejoin="round"/>
<path d="M164.81,498.99 C166.06,498.34 170.02,496.29 172.36,495.11 C174.69,493.92 176.85,492.23 178.83,491.87 C180.8,491.51 182.24,497.09 184.22,492.95 C186.2,488.82 188.71,478.21 190.69,467.07 C192.67,455.92 194.29,438.02 196.08,426.08 C197.88,414.15 199.68,395.81 201.48,395.45 C203.27,395.09 204.89,412.71 206.87,423.93 C208.85,435.14 211.18,452.33 213.34,462.75 C215.5,473.18 217.65,481.09 219.81,486.48 C221.97,491.87 224.12,494.57 226.28,495.11 C228.44,495.65 230.95,490.97 232.75,489.72 C234.55,488.46 235.45,486.84 237.07,487.56 C238.68,488.28 240.66,492.23 242.46,494.03 C244.26,495.83 244.8,497.55 247.85,498.34 C250.91,499.13 257.56,500.03 260.79,498.77 C264.03,497.52 265.83,494.82 267.26,490.79 C268.7,486.77 269.06,477.31 269.42,474.62" stroke="#a77b2b" stroke-width="1.2" fill="none" stroke-linejoin="round"/>
<path d="M164.81,498.56 C166.06,497.91 170.02,495.75 172.36,494.68 C174.69,493.6 176.85,492.3 178.83,492.09 C180.8,491.87 182.24,497.37 184.22,493.38 C186.2,489.39 188.71,478.82 190.69,468.14 C192.67,457.47 194.29,440.28 196.08,429.32 C197.88,418.35 199.68,402.71 201.48,402.36 C203.27,402 204.89,416.81 206.87,427.16 C208.85,437.52 211.18,454.41 213.34,464.48 C215.5,474.54 217.65,482.38 219.81,487.56 C221.97,492.74 224.12,495 226.28,495.54 C228.44,496.08 230.95,491.87 232.75,490.79 C234.55,489.72 235.45,488.42 237.07,489.07 C238.68,489.72 240.66,493.13 242.46,494.68 C244.26,496.22 244.8,497.66 247.85,498.34 C250.91,499.03 257.56,499.96 260.79,498.77 C264.03,497.59 265.83,495.07 267.26,491.23 C268.7,487.38 269.06,478.28 269.42,475.69" stroke="#a77b2b" stroke-width="1.2" fill="none" stroke-linejoin="round"/>
<path d="M164.81,498.99 C166.78,498.88 173.61,498.81 176.67,498.34 C179.73,497.88 180.98,500.68 183.14,496.19 C185.3,491.69 187.45,481.63 189.61,471.38 C191.77,461.13 194.11,444.24 196.08,434.71 C198.06,425.18 199.68,415.66 201.48,414.22 C203.27,412.78 204.89,417.99 206.87,426.08 C208.85,434.17 210.82,453.05 213.34,462.75 C215.86,472.46 219.09,480.19 221.97,484.32 C224.84,488.46 228.08,486.66 230.6,487.56 C233.11,488.46 234.91,488.46 237.07,489.72 C239.22,490.97 241.38,493.85 243.54,495.11 C245.69,496.37 247.49,496.83 250.01,497.26 C252.53,497.7 256.12,498.42 258.64,497.7 C261.15,496.98 263.31,495.9 265.11,492.95 C266.91,490 268.7,482.17 269.42,480.01" stroke="#c4242c" stroke-width="1.2" fill="none" stroke-linejoin="round"/>
<path d="M164.81,498.77 C166.78,498.67 173.61,498.6 176.67,498.13 C179.73,497.66 180.98,500.25 183.14,495.97 C185.3,491.69 187.45,482.31 189.61,472.46 C191.77,462.61 194.11,445.86 196.08,436.87 C198.06,427.88 199.68,419.79 201.48,418.53 C203.27,417.27 204.89,421.66 206.87,429.32 C208.85,436.98 210.82,454.95 213.34,464.48 C215.86,474 219.09,482.88 221.97,486.48 C224.84,490.07 228.08,485.76 230.6,486.05 C233.11,486.34 234.91,486.88 237.07,488.21 C239.22,489.54 241.38,492.59 243.54,494.03 C245.69,495.47 247.49,496.29 250.01,496.83 C252.53,497.37 256.12,498.09 258.64,497.26 C261.15,496.44 263.31,494.39 265.11,491.87 C266.91,489.36 268.7,483.78 269.42,482.17" stroke="#c4242c" stroke-width="1.2" fill="none" stroke-linejoin="round"/>
</g>
<rect x="159.8" y="390.5" width="115" height="113.2" fill="none" stroke="#333" stroke-width="1.05"/>
<line x1="184.2" x2="184.2" y1="503.7" y2="505.7" stroke="#333" stroke-width="0.6"/>
<text x="184.2" y="511.3" font-size="5.6" text-anchor="middle" font-weight="normal" fill="#333" >−1.5</text>
<line x1="212.6" x2="212.6" y1="503.7" y2="505.7" stroke="#333" stroke-width="0.6"/>
<text x="212.6" y="511.3" font-size="5.6" text-anchor="middle" font-weight="normal" fill="#333" >−1.0</text>
<line x1="241" x2="241" y1="503.7" y2="505.7" stroke="#333" stroke-width="0.6"/>
<text x="241" y="511.3" font-size="5.6" text-anchor="middle" font-weight="normal" fill="#333" >−0.5</text>
<line x1="269.4" x2="269.4" y1="503.7" y2="505.7" stroke="#333" stroke-width="0.6"/>
<text x="269.4" y="511.3" font-size="5.6" text-anchor="middle" font-weight="normal" fill="#333" >0.0</text>
<line x1="157.8" x2="159.8" y1="498.8" y2="498.8" stroke="#333" stroke-width="0.6"/>
<text x="157" y="500.8" font-size="5.6" text-anchor="end" font-weight="normal" fill="#333" >0</text>
<line x1="157.8" x2="159.8" y1="463.1" y2="463.1" stroke="#333" stroke-width="0.6"/>
<text x="157" y="465.1" font-size="5.6" text-anchor="end" font-weight="normal" fill="#333" >1</text>
<line x1="157.8" x2="159.8" y1="427.4" y2="427.4" stroke="#333" stroke-width="0.6"/>
<text x="157" y="429.4" font-size="5.6" text-anchor="end" font-weight="normal" fill="#333" >2</text>
<line x1="157.8" x2="159.8" y1="391.7" y2="391.7" stroke="#333" stroke-width="0.6"/>
<text x="157" y="393.7" font-size="5.6" text-anchor="end" font-weight="normal" fill="#333" >3</text>
<text x="217.7" y="515.6" font-size="5.75" text-anchor="middle" font-weight="normal" fill="#222" >Backbone H−bond (kcal/mol)</text>
<text transform="translate(154,445) rotate(-90)" font-size="5.75" text-anchor="middle" fill="#222">Density</text>
<text x="144.7" y="389" font-size="13" text-anchor="start" font-weight="bold" fill="#111" >E</text>
<rect x="159.4" y="520.9" width="111.1" height="113.2" fill="#fff"/>
<line x1="168.5" x2="168.5" y1="520.9" y2="634.1" stroke="#f3f3f3" stroke-width="0.35"/>
<line x1="196.1" x2="196.1" y1="520.9" y2="634.1" stroke="#f3f3f3" stroke-width="0.35"/>
<line x1="223.7" x2="223.7" y1="520.9" y2="634.1" stroke="#f3f3f3" stroke-width="0.35"/>
<line x1="251.3" x2="251.3" y1="520.9" y2="634.1" stroke="#f3f3f3" stroke-width="0.35"/>
<line x1="159.4" x2="270.5" y1="613.23" y2="613.23" stroke="#f3f3f3" stroke-width="0.35"/>
<line x1="159.4" x2="270.5" y1="580.88" y2="580.88" stroke="#f3f3f3" stroke-width="0.35"/>
<line x1="159.4" x2="270.5" y1="548.52" y2="548.52" stroke="#f3f3f3" stroke-width="0.35"/>
<line x1="182.3" x2="182.3" y1="520.9" y2="634.1" stroke="#e6e6e6" stroke-width="0.6"/>
<line x1="209.9" x2="209.9" y1="520.9" y2="634.1" stroke="#e6e6e6" stroke-width="0.6"/>
<line x1="237.5" x2="237.5" y1="520.9" y2="634.1" stroke="#e6e6e6" stroke-width="0.6"/>
<line x1="265.1" x2="265.1" y1="520.9" y2="634.1" stroke="#e6e6e6" stroke-width="0.6"/>
<line x1="159.4" x2="270.5" y1="629.4" y2="629.4" stroke="#e6e6e6" stroke-width="0.6"/>
<line x1="159.4" x2="270.5" y1="597.05" y2="597.05" stroke="#e6e6e6" stroke-width="0.6"/>
<line x1="159.4" x2="270.5" y1="564.7" y2="564.7" stroke="#e6e6e6" stroke-width="0.6"/>
<line x1="159.4" x2="270.5" y1="532.35" y2="532.35" stroke="#e6e6e6" stroke-width="0.6"/>
<clipPath id="cE2"><rect x="159.9" y="521.4" width="110.1" height="112.2"/></clipPath>
<g clip-path="url(#cE2)">
<path d="M164.16,627.21 C165.88,626.38 171.71,626.13 174.51,622.24 C177.32,618.36 178.83,613.8 180.98,603.91 C183.14,594.02 185.3,572.45 187.45,562.93 C189.61,553.4 191.95,550.16 193.93,546.75 C195.9,543.33 197.52,541.18 199.32,542.43 C201.12,543.69 202.73,548.01 204.71,554.3 C206.69,560.59 209.03,572.63 211.18,580.18 C213.34,587.73 215.68,594.85 217.65,599.6 C219.63,604.34 221.25,608.65 223.05,608.65 C224.84,608.65 226.1,603.08 228.44,599.6 C230.78,596.11 234.19,588.09 237.07,587.73 C239.94,587.37 243.18,593.3 245.69,597.44 C248.21,601.57 250.01,609.66 252.17,612.54 C254.32,615.41 256.48,615.23 258.64,614.69 C260.79,614.16 264.03,610.2 265.11,609.3" stroke="#19a552" stroke-width="1.4" fill="none" stroke-linejoin="round"/>
<path d="M164.16,628.72 C165.88,628.18 171.71,629.61 174.51,625.48 C177.32,621.35 178.83,612.54 180.98,603.91 C183.14,595.28 185.3,584.14 187.45,573.71 C189.61,563.29 191.59,548.83 193.93,541.36 C196.26,533.88 199.32,528.13 201.48,528.84 C203.63,529.56 204.89,537.11 206.87,545.67 C208.85,554.23 211.18,571.91 213.34,580.18 C215.5,588.45 217.65,591.69 219.81,595.28 C221.97,598.88 223.76,601.03 226.28,601.75 C228.8,602.47 232.39,598.88 234.91,599.6 C237.43,600.31 239.22,603.55 241.38,606.07 C243.54,608.58 245.34,612.72 247.85,614.69 C250.37,616.67 253.6,618.65 256.48,617.93 C259.36,617.21 263.67,611.64 265.11,610.38" stroke="#f7b9cc" stroke-width="1.2" fill="none" stroke-linejoin="round"/>
<path d="M164.16,628.72 C166.06,628.18 172.61,629.61 175.59,625.48 C178.57,621.35 180.08,612.54 182.06,603.91 C184.04,595.28 185.66,582.7 187.45,573.71 C189.25,564.72 191.05,554.3 192.85,549.98 C194.64,545.67 196.26,545.31 198.24,547.83 C200.22,550.34 202.55,558.25 204.71,565.08 C206.87,571.91 209.03,582.7 211.18,588.81 C213.34,594.92 215.5,600.49 217.65,601.75 C219.81,603.01 221.97,601.75 224.12,596.36 C226.28,590.97 228.62,573.17 230.6,569.4 C232.57,565.62 234.19,570.12 235.99,573.71 C237.79,577.31 239.4,584.86 241.38,590.97 C243.36,597.08 245.69,606.25 247.85,610.38 C250.01,614.51 251.45,615.95 254.32,615.77 C257.2,615.59 263.31,610.38 265.11,609.3" stroke="#ec2a91" stroke-width="1.2" fill="none" stroke-linejoin="round"/>
<path d="M164.16,628.72 C166.06,628.18 172.61,629.61 175.59,625.48 C178.57,621.35 180.08,613.26 182.06,603.91 C184.04,594.56 185.66,580.72 187.45,569.4 C189.25,558.07 191.05,541.36 192.85,535.96 C194.64,530.57 196.26,532.55 198.24,537.04 C200.22,541.54 202.55,554.66 204.71,562.93 C206.87,571.19 209.03,580.54 211.18,586.65 C213.34,592.76 215.5,597.8 217.65,599.6 C219.81,601.39 221.97,599.95 224.12,597.44 C226.28,594.92 228.62,585.93 230.6,584.5 C232.57,583.06 234.19,585.93 235.99,588.81 C237.79,591.69 239.4,597.8 241.38,601.75 C243.36,605.71 245.34,609.48 247.85,612.54 C250.37,615.59 253.6,620.45 256.48,620.09 C259.36,619.73 263.67,612 265.11,610.38" stroke="#ec2a91" stroke-width="1.2" fill="none" stroke-linejoin="round"/>
<path d="M164.16,628.72 C166.06,628.18 172.61,630.33 175.59,625.48 C178.57,620.63 180.08,611.82 182.06,599.6 C184.04,587.37 185.48,564.36 187.45,552.14 C189.43,539.92 191.95,529.49 193.93,526.26 C195.9,523.02 197.52,527.69 199.32,532.73 C201.12,537.76 202.73,548.91 204.71,556.45 C206.69,564 209.03,572.63 211.18,578.03 C213.34,583.42 215.68,586.83 217.65,588.81 C219.63,590.79 221.25,589.89 223.05,589.89 C224.84,589.89 226.46,587.91 228.44,588.81 C230.42,589.71 232.75,592.05 234.91,595.28 C237.07,598.52 239.22,604.27 241.38,608.22 C243.54,612.18 245.34,616.85 247.85,619.01 C250.37,621.17 253.6,622.89 256.48,621.17 C259.36,619.44 263.67,610.74 265.11,608.65" stroke="#7a3195" stroke-width="1.2" fill="none" stroke-linejoin="round"/>
<path d="M164.16,628.72 C166.06,628.25 172.61,630.58 175.59,625.91 C178.57,621.24 180.01,612.61 182.06,600.67 C184.11,588.74 185.84,566.16 187.89,554.3 C189.94,542.43 192.38,532.73 194.36,529.49 C196.33,526.26 197.95,530.1 199.75,534.88 C201.55,539.67 203.17,550.63 205.14,558.18 C207.12,565.73 209.46,574.54 211.61,580.18 C213.77,585.83 216.11,589.82 218.08,592.05 C220.06,594.27 221.68,593.45 223.48,593.56 C225.27,593.66 226.89,591.97 228.87,592.69 C230.85,593.41 233.18,594.99 235.34,597.87 C237.5,600.75 239.65,606.25 241.81,609.95 C243.97,613.65 245.84,618.15 248.28,620.09 C250.73,622.03 253.68,623.5 256.48,621.6 C259.28,619.69 263.67,610.81 265.11,608.65" stroke="#7a3195" stroke-width="1.2" fill="none" stroke-linejoin="round"/>
<path d="M164.16,628.72 C166.06,628.36 172.61,631.05 175.59,626.56 C178.57,622.06 180.08,613.44 182.06,601.75 C184.04,590.07 185.48,568.5 187.45,556.45 C189.43,544.41 191.95,532.01 193.93,529.49 C195.9,526.98 197.52,537.94 199.32,541.36 C201.12,544.77 202.73,546.03 204.71,549.98 C206.69,553.94 209.03,560.05 211.18,565.08 C213.34,570.12 215.5,575.51 217.65,580.18 C219.81,584.86 221.97,589.53 224.12,593.12 C226.28,596.72 228.44,598.88 230.6,601.75 C232.75,604.63 234.91,607.5 237.07,610.38 C239.22,613.26 241.38,616.85 243.54,619.01 C245.69,621.17 247.85,623.14 250.01,623.32 C252.17,623.5 253.96,622.42 256.48,620.09 C259,617.75 263.67,611.1 265.11,609.3" stroke="#2f3190" stroke-width="1.3" fill="none" stroke-linejoin="round"/>
<path d="M164.16,628.72 C166.06,628.36 172.61,630.69 175.59,626.56 C178.57,622.42 179.91,614.87 182.06,603.91 C184.22,592.94 186.38,570.83 188.53,560.77 C190.69,550.7 193.03,546.39 195,543.51 C196.98,540.64 198.42,542.07 200.4,543.51 C202.37,544.95 204.71,547.47 206.87,552.14 C209.03,556.81 211.18,565.44 213.34,571.55 C215.5,577.67 217.65,583.42 219.81,588.81 C221.97,594.2 224.12,599.6 226.28,603.91 C228.44,608.22 230.6,612.18 232.75,614.69 C234.91,617.21 236.71,617.57 239.22,619.01 C241.74,620.45 244.98,623.14 247.85,623.32 C250.73,623.5 253.6,622.6 256.48,620.09 C259.36,617.57 263.67,610.2 265.11,608.22" stroke="#2f3190" stroke-width="1.3" fill="none" stroke-linejoin="round"/>
</g>
<rect x="159.4" y="520.9" width="111.1" height="113.2" fill="none" stroke="#333" stroke-width="1.05"/>
<line x1="182.3" x2="182.3" y1="634.1" y2="636.1" stroke="#333" stroke-width="0.6"/>
<text x="182.3" y="641.7" font-size="5.6" text-anchor="middle" font-weight="normal" fill="#333" >−1.5</text>
<line x1="209.9" x2="209.9" y1="634.1" y2="636.1" stroke="#333" stroke-width="0.6"/>
<text x="209.9" y="641.7" font-size="5.6" text-anchor="middle" font-weight="normal" fill="#333" >−1.0</text>
<line x1="237.5" x2="237.5" y1="634.1" y2="636.1" stroke="#333" stroke-width="0.6"/>
<text x="237.5" y="641.7" font-size="5.6" text-anchor="middle" font-weight="normal" fill="#333" >−0.5</text>
<line x1="265.1" x2="265.1" y1="634.1" y2="636.1" stroke="#333" stroke-width="0.6"/>
<text x="265.1" y="641.7" font-size="5.6" text-anchor="middle" font-weight="normal" fill="#333" >0.0</text>
<line x1="157.4" x2="159.4" y1="629.4" y2="629.4" stroke="#333" stroke-width="0.6"/>
<text x="156.6" y="631.4" font-size="5.6" text-anchor="end" font-weight="normal" fill="#333" >0.0</text>
<line x1="157.4" x2="159.4" y1="597.05" y2="597.05" stroke="#333" stroke-width="0.6"/>
<text x="156.6" y="599.05" font-size="5.6" text-anchor="end" font-weight="normal" fill="#333" >0.5</text>
<line x1="157.4" x2="159.4" y1="564.7" y2="564.7" stroke="#333" stroke-width="0.6"/>
<text x="156.6" y="566.7" font-size="5.6" text-anchor="end" font-weight="normal" fill="#333" >1.0</text>
<line x1="157.4" x2="159.4" y1="532.35" y2="532.35" stroke="#333" stroke-width="0.6"/>
<text x="156.6" y="534.35" font-size="5.6" text-anchor="end" font-weight="normal" fill="#333" >1.5</text>
<text x="217.7" y="647.8" font-size="5.75" text-anchor="middle" font-weight="normal" fill="#222" >Backbone H−bond (kcal/mol)</text>
<text transform="translate(147.5,575.5) rotate(-90)" font-size="5.75" text-anchor="middle" fill="#222">Density</text>
<rect x="299.2" y="390.5" width="109.1" height="113.2" fill="#fff"/>
<line x1="307.73" x2="307.73" y1="390.5" y2="503.7" stroke="#f3f3f3" stroke-width="0.35"/>
<line x1="330.88" x2="330.88" y1="390.5" y2="503.7" stroke="#f3f3f3" stroke-width="0.35"/>
<line x1="354.03" x2="354.03" y1="390.5" y2="503.7" stroke="#f3f3f3" stroke-width="0.35"/>
<line x1="377.18" x2="377.18" y1="390.5" y2="503.7" stroke="#f3f3f3" stroke-width="0.35"/>
<line x1="400.33" x2="400.33" y1="390.5" y2="503.7" stroke="#f3f3f3" stroke-width="0.35"/>
<line x1="299.2" x2="408.3" y1="486.15" y2="486.15" stroke="#f3f3f3" stroke-width="0.35"/>
<line x1="299.2" x2="408.3" y1="460.85" y2="460.85" stroke="#f3f3f3" stroke-width="0.35"/>
<line x1="299.2" x2="408.3" y1="435.55" y2="435.55" stroke="#f3f3f3" stroke-width="0.35"/>
<line x1="299.2" x2="408.3" y1="410.25" y2="410.25" stroke="#f3f3f3" stroke-width="0.35"/>
<line x1="319.3" x2="319.3" y1="390.5" y2="503.7" stroke="#e6e6e6" stroke-width="0.6"/>
<line x1="342.45" x2="342.45" y1="390.5" y2="503.7" stroke="#e6e6e6" stroke-width="0.6"/>
<line x1="365.6" x2="365.6" y1="390.5" y2="503.7" stroke="#e6e6e6" stroke-width="0.6"/>
<line x1="388.75" x2="388.75" y1="390.5" y2="503.7" stroke="#e6e6e6" stroke-width="0.6"/>
<line x1="299.2" x2="408.3" y1="498.8" y2="498.8" stroke="#e6e6e6" stroke-width="0.6"/>
<line x1="299.2" x2="408.3" y1="473.5" y2="473.5" stroke="#e6e6e6" stroke-width="0.6"/>
<line x1="299.2" x2="408.3" y1="448.2" y2="448.2" stroke="#e6e6e6" stroke-width="0.6"/>
<line x1="299.2" x2="408.3" y1="422.9" y2="422.9" stroke="#e6e6e6" stroke-width="0.6"/>
<line x1="299.2" x2="408.3" y1="397.6" y2="397.6" stroke="#e6e6e6" stroke-width="0.6"/>
<clipPath id="cF1"><rect x="299.7" y="391" width="108.1" height="112.2"/></clipPath>
<g clip-path="url(#cF1)">
<path d="M304.12,488.64 C305.38,486.48 309.15,480.01 311.67,475.69 C314.19,471.38 316.7,466.17 319.22,462.75 C321.74,459.34 324.43,456.28 326.77,455.2 C329.11,454.12 331.26,456.64 333.24,456.28 C335.22,455.92 337.01,453.94 338.63,453.05 C340.25,452.15 341.51,450.71 342.95,450.89 C344.38,451.07 345.64,452.51 347.26,454.12 C348.88,455.74 350.86,461.67 352.65,460.6 C354.45,459.52 356.25,453.76 358.05,447.65 C359.84,441.54 361.82,429.5 363.44,423.93 C365.06,418.35 365.95,415.48 367.75,414.22 C369.55,412.96 372.07,415.12 374.22,416.38 C376.38,417.63 378.54,418.71 380.69,421.77 C382.85,424.82 385.01,429.68 387.17,434.71 C389.32,439.74 391.48,446.22 393.64,451.97 C395.79,457.72 398.31,463.83 400.11,469.22 C401.91,474.62 403.7,481.81 404.42,484.32" stroke="#19a552" stroke-width="1.4" fill="none" stroke-linejoin="round"/>
<path d="M304.12,487.56 C305.38,485.44 309.15,479.04 311.67,474.83 C314.19,470.63 316.7,465.48 319.22,462.32 C321.74,459.16 324.43,456.78 326.77,455.85 C329.11,454.92 331.26,457 333.24,456.71 C335.22,456.43 337.01,454.84 338.63,454.12 C340.25,453.41 341.51,452.18 342.95,452.4 C344.38,452.61 345.64,453.91 347.26,455.42 C348.88,456.93 350.86,462.68 352.65,461.46 C354.45,460.24 356.25,454.27 358.05,448.08 C359.84,441.9 361.75,429.75 363.44,424.36 C365.13,418.96 366.31,416.88 368.18,415.73 C370.05,414.58 372.5,416.27 374.65,417.45 C376.81,418.64 378.97,419.79 381.13,422.85 C383.28,425.9 385.44,430.76 387.6,435.79 C389.75,440.82 391.91,447.19 394.07,453.05 C396.23,458.91 398.81,465.38 400.54,470.95 C402.26,476.52 403.77,483.89 404.42,486.48" stroke="#19a552" stroke-width="1.2" fill="none" stroke-linejoin="round"/>
<path d="M304.12,494.03 C305.2,491.69 308.25,483.6 310.59,480.01 C312.93,476.41 315.8,473.9 318.14,472.46 C320.48,471.02 322.45,473.36 324.61,471.38 C326.77,469.4 328.93,465.63 331.08,460.6 C333.24,455.56 335.4,445.86 337.55,441.18 C339.71,436.51 341.87,434.71 344.03,432.55 C346.18,430.4 348.34,431.48 350.5,428.24 C352.65,425 354.99,416.74 356.97,413.14 C358.94,409.55 360.56,407.39 362.36,406.67 C364.16,405.95 365.95,406.67 367.75,408.83 C369.55,410.98 371.35,414.22 373.14,419.61 C374.94,425 376.74,435.43 378.54,441.18 C380.34,446.93 382.13,451.25 383.93,454.12 C385.73,457 387.35,455.56 389.32,458.44 C391.3,461.31 393.46,465.99 395.79,471.38 C398.13,476.77 402.09,487.56 403.34,490.79" stroke="#f7e11b" stroke-width="1.2" fill="none" stroke-linejoin="round"/>
<path d="M304.12,492.95 C305.2,491.15 308.25,485.4 310.59,482.17 C312.93,478.93 315.62,475.51 318.14,473.54 C320.66,471.56 323.53,472.46 325.69,470.3 C327.85,468.14 329.29,464.37 331.08,460.6 C332.88,456.82 334.68,451.61 336.48,447.65 C338.27,443.7 339.89,439.74 341.87,436.87 C343.85,433.99 346.18,432.55 348.34,430.4 C350.5,428.24 352.83,426.8 354.81,423.93 C356.79,421.05 358.58,416.74 360.2,413.14 C361.82,409.55 363.08,405.23 364.52,402.36 C365.95,399.48 367.39,395.88 368.83,395.88 C370.27,395.88 371.71,397.68 373.14,402.36 C374.58,407.03 375.84,416.38 377.46,423.93 C379.08,431.48 380.87,441.54 382.85,447.65 C384.83,453.76 387.17,456.28 389.32,460.6 C391.48,464.91 393.46,468.5 395.79,473.54 C398.13,478.57 402.09,487.92 403.34,490.79" stroke="#f7931e" stroke-width="1.1" fill="none" stroke-linejoin="round"/>
<path d="M304.12,491.87 C305.2,490.07 308.25,484.21 310.59,481.09 C312.93,477.96 315.62,475.01 318.14,473.11 C320.66,471.2 323.46,472.03 325.69,469.65 C327.92,467.28 329.64,462.82 331.51,458.87 C333.38,454.92 335.11,449.88 336.91,445.93 C338.7,441.97 340.32,438.02 342.3,435.14 C344.28,432.27 346.61,430.9 348.77,428.67 C350.93,426.44 353.26,424.79 355.24,421.77 C357.22,418.75 359.02,414.08 360.63,410.55 C362.25,407.03 363.58,402.54 364.95,400.63 C366.31,398.72 367.46,398.29 368.83,399.12 C370.2,399.95 371.64,401.03 373.14,405.59 C374.65,410.16 376.2,419.14 377.89,426.51 C379.58,433.88 381.31,443.84 383.28,449.81 C385.26,455.78 387.6,458.15 389.75,462.32 C391.91,466.49 393.96,469.91 396.23,474.83 C398.49,479.76 402.16,489.03 403.34,491.87" stroke="#f7931e" stroke-width="1.1" fill="none" stroke-linejoin="round"/>
<path d="M304.12,488.64 C305.2,486.84 308.25,480.73 310.59,477.85 C312.93,474.98 315.8,474.98 318.14,471.38 C320.48,467.79 322.45,461.31 324.61,456.28 C326.77,451.25 329.11,444.96 331.08,441.18 C333.06,437.41 334.5,433.99 336.48,433.63 C338.45,433.27 340.79,436.69 342.95,439.03 C345.1,441.36 347.44,446.93 349.42,447.65 C351.39,448.37 353.01,446.93 354.81,443.34 C356.61,439.74 358.41,431.48 360.2,426.08 C362,420.69 364.16,413.86 365.6,410.98 C367.03,408.11 367.57,408.47 368.83,408.83 C370.09,409.19 371.53,409.55 373.14,413.14 C374.76,416.74 376.92,424.64 378.54,430.4 C380.16,436.15 381.05,441.9 382.85,447.65 C384.65,453.41 387.17,459.88 389.32,464.91 C391.48,469.94 393.46,473.72 395.79,477.85 C398.13,481.99 402.09,487.74 403.34,489.72" stroke="#a77b2b" stroke-width="1.2" fill="none" stroke-linejoin="round"/>
<path d="M304.12,483.24 C304.84,480.91 306.82,472.82 308.43,469.22 C310.05,465.63 311.85,463.83 313.83,461.67 C315.8,459.52 318.14,458.62 320.3,456.28 C322.45,453.94 324.79,450.53 326.77,447.65 C328.75,444.78 330.36,441.54 332.16,439.03 C333.96,436.51 335.76,432.91 337.55,432.55 C339.35,432.19 340.97,434.17 342.95,436.87 C344.92,439.56 347.44,447.29 349.42,448.73 C351.39,450.17 353.01,448.55 354.81,445.5 C356.61,442.44 358.41,435.25 360.2,430.4 C362,425.54 363.98,419.07 365.6,416.38 C367.21,413.68 368.47,413.68 369.91,414.22 C371.35,414.76 372.79,416.56 374.22,419.61 C375.66,422.67 377.1,427.88 378.54,432.55 C379.98,437.23 381.05,442.26 382.85,447.65 C384.65,453.05 387.17,459.52 389.32,464.91 C391.48,470.3 393.46,474.98 395.79,480.01 C398.13,485.04 402.09,492.59 403.34,495.11" stroke="#c4242c" stroke-width="1.3" fill="none" stroke-linejoin="round"/>
<path d="M304.12,484.32 C304.84,481.99 306.82,473.97 308.43,470.3 C310.05,466.64 311.85,464.51 313.83,462.32 C315.8,460.13 318.14,459.44 320.3,457.14 C322.45,454.84 324.79,451.36 326.77,448.52 C328.75,445.68 330.36,442.55 332.16,440.1 C333.96,437.66 335.76,434.17 337.55,433.85 C339.35,433.52 340.97,435.57 342.95,438.16 C344.92,440.75 347.44,448.01 349.42,449.38 C351.39,450.74 353.01,449.31 354.81,446.36 C356.61,443.41 358.41,436.44 360.2,431.69 C362,426.95 363.98,420.55 365.6,417.89 C367.21,415.23 368.47,415.23 369.91,415.73 C371.35,416.23 372.79,417.89 374.22,420.91 C375.66,423.93 377.1,429.17 378.54,433.85 C379.98,438.52 381.05,443.55 382.85,448.95 C384.65,454.34 387.17,460.88 389.32,466.2 C391.48,471.52 393.46,475.98 395.79,480.87 C398.13,485.76 402.09,493.09 403.34,495.54" stroke="#c4242c" stroke-width="1.2" fill="none" stroke-linejoin="round"/>
</g>
<rect x="299.2" y="390.5" width="109.1" height="113.2" fill="none" stroke="#333" stroke-width="1.05"/>
<line x1="319.3" x2="319.3" y1="503.7" y2="505.7" stroke="#333" stroke-width="0.6"/>
<text x="319.3" y="511.3" font-size="5.6" text-anchor="middle" font-weight="normal" fill="#333" >−2.0</text>
<line x1="342.45" x2="342.45" y1="503.7" y2="505.7" stroke="#333" stroke-width="0.6"/>
<text x="342.45" y="511.3" font-size="5.6" text-anchor="middle" font-weight="normal" fill="#333" >−1.5</text>
<line x1="365.6" x2="365.6" y1="503.7" y2="505.7" stroke="#333" stroke-width="0.6"/>
<text x="365.6" y="511.3" font-size="5.6" text-anchor="middle" font-weight="normal" fill="#333" >−1.0</text>
<line x1="388.75" x2="388.75" y1="503.7" y2="505.7" stroke="#333" stroke-width="0.6"/>
<text x="388.75" y="511.3" font-size="5.6" text-anchor="middle" font-weight="normal" fill="#333" >−0.5</text>
<line x1="297.2" x2="299.2" y1="498.8" y2="498.8" stroke="#333" stroke-width="0.6"/>
<text x="296.4" y="500.8" font-size="5.6" text-anchor="end" font-weight="normal" fill="#333" >0.00</text>
<line x1="297.2" x2="299.2" y1="473.5" y2="473.5" stroke="#333" stroke-width="0.6"/>
<text x="296.4" y="475.5" font-size="5.6" text-anchor="end" font-weight="normal" fill="#333" >0.25</text>
<line x1="297.2" x2="299.2" y1="448.2" y2="448.2" stroke="#333" stroke-width="0.6"/>
<text x="296.4" y="450.2" font-size="5.6" text-anchor="end" font-weight="normal" fill="#333" >0.50</text>
<line x1="297.2" x2="299.2" y1="422.9" y2="422.9" stroke="#333" stroke-width="0.6"/>
<text x="296.4" y="424.9" font-size="5.6" text-anchor="end" font-weight="normal" fill="#333" >0.75</text>
<line x1="297.2" x2="299.2" y1="397.6" y2="397.6" stroke="#333" stroke-width="0.6"/>
<text x="296.4" y="399.6" font-size="5.6" text-anchor="end" font-weight="normal" fill="#333" >1</text>
<text x="354.8" y="515.6" font-size="5.75" text-anchor="middle" font-weight="normal" fill="#222" >vdW (kcal/mol)</text>
<text transform="translate(283.8,445) rotate(-90)" font-size="5.75" text-anchor="middle" fill="#222">Density</text>
<text x="281.9" y="389" font-size="13" text-anchor="start" font-weight="bold" fill="#111" >F</text>
<rect x="298.7" y="520.9" width="110" height="113.2" fill="#fff"/>
<line x1="305.75" x2="305.75" y1="520.9" y2="634.1" stroke="#f3f3f3" stroke-width="0.35"/>
<line x1="329.45" x2="329.45" y1="520.9" y2="634.1" stroke="#f3f3f3" stroke-width="0.35"/>
<line x1="353.15" x2="353.15" y1="520.9" y2="634.1" stroke="#f3f3f3" stroke-width="0.35"/>
<line x1="376.85" x2="376.85" y1="520.9" y2="634.1" stroke="#f3f3f3" stroke-width="0.35"/>
<line x1="400.55" x2="400.55" y1="520.9" y2="634.1" stroke="#f3f3f3" stroke-width="0.35"/>
<line x1="298.7" x2="408.7" y1="614.45" y2="614.45" stroke="#f3f3f3" stroke-width="0.35"/>
<line x1="298.7" x2="408.7" y1="584.55" y2="584.55" stroke="#f3f3f3" stroke-width="0.35"/>
<line x1="298.7" x2="408.7" y1="554.65" y2="554.65" stroke="#f3f3f3" stroke-width="0.35"/>
<line x1="317.6" x2="317.6" y1="520.9" y2="634.1" stroke="#e6e6e6" stroke-width="0.6"/>
<line x1="341.3" x2="341.3" y1="520.9" y2="634.1" stroke="#e6e6e6" stroke-width="0.6"/>
<line x1="365" x2="365" y1="520.9" y2="634.1" stroke="#e6e6e6" stroke-width="0.6"/>
<line x1="388.7" x2="388.7" y1="520.9" y2="634.1" stroke="#e6e6e6" stroke-width="0.6"/>
<line x1="298.7" x2="408.7" y1="629.4" y2="629.4" stroke="#e6e6e6" stroke-width="0.6"/>
<line x1="298.7" x2="408.7" y1="599.5" y2="599.5" stroke="#e6e6e6" stroke-width="0.6"/>
<line x1="298.7" x2="408.7" y1="569.6" y2="569.6" stroke="#e6e6e6" stroke-width="0.6"/>
<line x1="298.7" x2="408.7" y1="539.7" y2="539.7" stroke="#e6e6e6" stroke-width="0.6"/>
<clipPath id="cF2"><rect x="299.2" y="521.4" width="109" height="112.2"/></clipPath>
<g clip-path="url(#cF2)">
<path d="M304.12,606.07 C305.38,603.55 308.97,595.28 311.67,590.97 C314.37,586.65 317.42,583.42 320.3,580.18 C323.17,576.95 326.23,572.99 328.93,571.55 C331.62,570.12 334.32,570.83 336.48,571.55 C338.63,572.27 339.89,575.51 341.87,575.87 C343.85,576.23 346.18,576.23 348.34,573.71 C350.5,571.19 352.65,564.72 354.81,560.77 C356.97,556.81 359.3,552.14 361.28,549.98 C363.26,547.83 364.7,547.47 366.67,547.83 C368.65,548.19 370.81,549.26 373.14,552.14 C375.48,555.02 378,559.33 380.69,565.08 C383.39,570.83 386.45,579.46 389.32,586.65 C392.2,593.84 395.61,602.83 397.95,608.22 C400.29,613.62 402.44,617.21 403.34,619.01" stroke="#f7b9cc" stroke-width="1.2" fill="none" stroke-linejoin="round"/>
<path d="M304.12,616.85 C305.02,615.41 307.54,611.82 309.51,608.22 C311.49,604.63 314.01,599.6 315.98,595.28 C317.96,590.97 319.58,585.29 321.38,582.34 C323.17,579.39 324.97,578.13 326.77,577.59 C328.57,577.05 330.36,579.57 332.16,579.1 C333.96,578.64 335.94,575.87 337.55,574.79 C339.17,573.71 340.43,572.09 341.87,572.63 C343.31,573.17 344.38,576.23 346.18,578.03 C347.98,579.82 350.86,583.78 352.65,583.42 C354.45,583.06 355.53,581.08 356.97,575.87 C358.41,570.66 359.84,559.33 361.28,552.14 C362.72,544.95 364.16,536.97 365.6,532.73 C367.03,528.49 368.47,527.05 369.91,526.69 C371.35,526.33 372.79,529.2 374.22,530.57 C375.66,531.94 377.1,532.73 378.54,534.88 C379.98,537.04 381.23,538.84 382.85,543.51 C384.47,548.19 386.45,556.45 388.24,562.93 C390.04,569.4 391.84,576.23 393.64,582.34 C395.43,588.45 397.41,594.92 399.03,599.6 C400.65,604.27 402.62,608.58 403.34,610.38" stroke="#19a552" stroke-width="1.4" fill="none" stroke-linejoin="round"/>
<path d="M304.12,616.42 C305.02,614.98 307.54,611.39 309.51,607.79 C311.49,604.2 314.01,599.02 315.98,594.85 C317.96,590.68 319.58,585.5 321.38,582.77 C323.17,580.04 324.97,578.96 326.77,578.46 C328.57,577.95 330.36,580.18 332.16,579.75 C333.96,579.32 335.94,576.87 337.55,575.87 C339.17,574.86 340.43,573.17 341.87,573.71 C343.31,574.25 344.38,577.38 346.18,579.1 C347.98,580.83 350.86,584.53 352.65,584.06 C354.45,583.6 355.53,581.26 356.97,576.3 C358.41,571.34 359.84,561.02 361.28,554.3 C362.72,547.57 364.16,539.74 365.6,535.96 C367.03,532.19 368.47,532.19 369.91,531.65 C371.35,531.11 372.79,532.01 374.22,532.73 C375.66,533.45 377.1,533.99 378.54,535.96 C379.98,537.94 381.23,539.74 382.85,544.59 C384.47,549.44 386.45,558.07 388.24,565.08 C390.04,572.09 391.84,580.18 393.64,586.65 C395.43,593.12 397.41,599.06 399.03,603.91 C400.65,608.76 402.62,613.8 403.34,615.77" stroke="#19a552" stroke-width="1.3" fill="none" stroke-linejoin="round"/>
<path d="M304.12,608.22 C305.02,605.71 307.36,597.8 309.51,593.12 C311.67,588.45 314.73,585.22 317.06,580.18 C319.4,575.15 321.38,567.6 323.53,562.93 C325.69,558.25 328.03,551.42 330,552.14 C331.98,552.86 333.78,562.93 335.4,567.24 C337.01,571.55 338.27,576.23 339.71,578.03 C341.15,579.82 342.59,579.82 344.03,578.03 C345.46,576.23 346.72,571.55 348.34,567.24 C349.96,562.93 351.93,556.81 353.73,552.14 C355.53,547.47 357.33,542.61 359.12,539.2 C360.92,535.78 362.72,531.29 364.52,531.65 C366.31,532.01 368.11,536.14 369.91,541.36 C371.71,546.57 373.5,556.45 375.3,562.93 C377.1,569.4 378.72,574.79 380.69,580.18 C382.67,585.57 385.01,590.97 387.17,595.28 C389.32,599.6 390.94,602.11 393.64,606.07 C396.33,610.02 401.73,616.85 403.34,619.01" stroke="#ec2a91" stroke-width="1.2" fill="none" stroke-linejoin="round"/>
<path d="M304.12,610.38 C305.2,606.79 308.25,594.56 310.59,588.81 C312.93,583.06 315.44,578.74 318.14,575.87 C320.84,572.99 324.43,571.91 326.77,571.55 C329.11,571.19 330.36,572.63 332.16,573.71 C333.96,574.79 335.94,576.95 337.55,578.03 C339.17,579.1 340.43,580.9 341.87,580.18 C343.31,579.46 344.38,576.59 346.18,573.71 C347.98,570.83 350.5,566.88 352.65,562.93 C354.81,558.97 356.97,552.86 359.12,549.98 C361.28,547.11 363.44,544.59 365.6,545.67 C367.75,546.75 370.27,554.12 372.07,556.45 C373.86,558.79 374.76,558.25 376.38,559.69 C378,561.13 379.98,561.67 381.77,565.08 C383.57,568.5 385.19,574.43 387.17,580.18 C389.14,585.93 390.94,592.76 393.64,599.6 C396.33,606.43 401.73,617.57 403.34,621.17" stroke="#ec2a91" stroke-width="1.2" fill="none" stroke-linejoin="round"/>
<path d="M304.12,599.6 C305.02,597.44 307.36,590.97 309.51,586.65 C311.67,582.34 314.55,577.31 317.06,573.71 C319.58,570.12 322.35,567.42 324.61,565.08 C326.88,562.75 328.85,560.05 330.65,559.69 C332.45,559.33 333.89,560.95 335.4,562.93 C336.91,564.9 338.27,568.86 339.71,571.55 C341.15,574.25 342.59,578.74 344.03,579.1 C345.46,579.46 346.54,577.49 348.34,573.71 C350.14,569.94 352.65,561.13 354.81,556.45 C356.97,551.78 359.3,547.65 361.28,545.67 C363.26,543.69 364.88,543.87 366.67,544.59 C368.47,545.31 370.09,547.29 372.07,549.98 C374.04,552.68 376.38,556.1 378.54,560.77 C380.69,565.44 382.85,571.91 385.01,578.03 C387.17,584.14 389.32,591.69 391.48,597.44 C393.64,603.19 395.97,608.22 397.95,612.54 C399.93,616.85 402.44,621.53 403.34,623.32" stroke="#7a3195" stroke-width="1.3" fill="none" stroke-linejoin="round"/>
<path d="M304.12,601.32 C305.02,599.09 307.36,592.33 309.51,587.95 C311.67,583.56 314.55,578.6 317.06,575.01 C319.58,571.41 322.35,568.68 324.61,566.38 C326.88,564.08 328.85,561.56 330.65,561.2 C332.45,560.84 333.89,562.28 335.4,564.22 C336.91,566.16 338.27,570.19 339.71,572.85 C341.15,575.51 342.59,579.82 344.03,580.18 C345.46,580.54 346.54,578.74 348.34,575.01 C350.14,571.27 352.65,562.42 354.81,557.75 C356.97,553.08 359.3,548.98 361.28,546.96 C363.26,544.95 364.88,544.99 366.67,545.67 C368.47,546.35 370.09,548.33 372.07,551.06 C374.04,553.79 376.38,557.35 378.54,562.06 C380.69,566.77 382.85,573.21 385.01,579.32 C387.17,585.43 389.32,592.98 391.48,598.73 C393.64,604.48 395.97,609.59 397.95,613.83 C399.93,618.07 402.44,622.46 403.34,624.19" stroke="#7a3195" stroke-width="1.2" fill="none" stroke-linejoin="round"/>
<path d="M304.12,603.91 C305.2,601.21 308.25,592.41 310.59,587.73 C312.93,583.06 315.62,578.92 318.14,575.87 C320.66,572.81 323.53,571.37 325.69,569.4 C327.85,567.42 329.29,564 331.08,564 C332.88,564 334.86,567.24 336.48,569.4 C338.09,571.55 339.35,575.51 340.79,576.95 C342.23,578.38 343.67,578.92 345.1,578.03 C346.54,577.13 347.62,574.79 349.42,571.55 C351.22,568.32 353.73,562.57 355.89,558.61 C358.05,554.66 360.02,550.34 362.36,547.83 C364.7,545.31 367.75,543.69 369.91,543.51 C372.07,543.33 373.5,544.23 375.3,546.75 C377.1,549.26 378.72,553.4 380.69,558.61 C382.67,563.82 385.01,571.55 387.17,578.03 C389.32,584.5 391.48,591.69 393.64,597.44 C395.79,603.19 398.49,608.04 400.11,612.54 C401.73,617.03 402.8,622.42 403.34,624.4" stroke="#2f3190" stroke-width="1.4" fill="none" stroke-linejoin="round"/>
<path d="M304.12,605.2 C305.2,602.54 308.25,593.92 310.59,589.24 C312.93,584.57 315.62,580.18 318.14,577.16 C320.66,574.14 323.53,572.99 325.69,571.12 C327.85,569.25 329.29,565.95 331.08,565.95 C332.88,565.95 334.86,569.11 336.48,571.12 C338.09,573.14 339.35,576.66 340.79,578.03 C342.23,579.39 343.67,580.18 345.1,579.32 C346.54,578.46 347.62,576.08 349.42,572.85 C351.22,569.61 353.73,563.86 355.89,559.91 C358.05,555.95 360.02,551.64 362.36,549.12 C364.7,546.6 367.75,544.95 369.91,544.81 C372.07,544.66 373.5,545.74 375.3,548.26 C377.1,550.77 378.72,554.73 380.69,559.91 C382.67,565.08 385.01,572.85 387.17,579.32 C389.32,585.79 391.48,592.98 393.64,598.73 C395.79,604.48 398.49,609.45 400.11,613.83 C401.73,618.22 402.8,623.18 403.34,625.05" stroke="#2f3190" stroke-width="1.3" fill="none" stroke-linejoin="round"/>
</g>
<rect x="298.7" y="520.9" width="110" height="113.2" fill="none" stroke="#333" stroke-width="1.05"/>
<line x1="317.6" x2="317.6" y1="634.1" y2="636.1" stroke="#333" stroke-width="0.6"/>
<text x="317.6" y="641.7" font-size="5.6" text-anchor="middle" font-weight="normal" fill="#333" >−2.0</text>
<line x1="341.3" x2="341.3" y1="634.1" y2="636.1" stroke="#333" stroke-width="0.6"/>
<text x="341.3" y="641.7" font-size="5.6" text-anchor="middle" font-weight="normal" fill="#333" >−1.5</text>
<line x1="365" x2="365" y1="634.1" y2="636.1" stroke="#333" stroke-width="0.6"/>
<text x="365" y="641.7" font-size="5.6" text-anchor="middle" font-weight="normal" fill="#333" >−1.0</text>
<line x1="388.7" x2="388.7" y1="634.1" y2="636.1" stroke="#333" stroke-width="0.6"/>
<text x="388.7" y="641.7" font-size="5.6" text-anchor="middle" font-weight="normal" fill="#333" >−0.5</text>
<line x1="296.7" x2="298.7" y1="629.4" y2="629.4" stroke="#333" stroke-width="0.6"/>
<text x="295.9" y="631.4" font-size="5.6" text-anchor="end" font-weight="normal" fill="#333" >0.00</text>
<line x1="296.7" x2="298.7" y1="599.5" y2="599.5" stroke="#333" stroke-width="0.6"/>
<text x="295.9" y="601.5" font-size="5.6" text-anchor="end" font-weight="normal" fill="#333" >0.25</text>
<line x1="296.7" x2="298.7" y1="569.6" y2="569.6" stroke="#333" stroke-width="0.6"/>
<text x="295.9" y="571.6" font-size="5.6" text-anchor="end" font-weight="normal" fill="#333" >0.50</text>
<line x1="296.7" x2="298.7" y1="539.7" y2="539.7" stroke="#333" stroke-width="0.6"/>
<text x="295.9" y="541.7" font-size="5.6" text-anchor="end" font-weight="normal" fill="#333" >0.75</text>
<text x="354.8" y="647.8" font-size="5.75" text-anchor="middle" font-weight="normal" fill="#222" >vdW (kcal/mol)</text>
<text transform="translate(283.8,575.5) rotate(-90)" font-size="5.75" text-anchor="middle" fill="#222">Density</text>
<rect x="429.8" y="390.5" width="111.7" height="113.2" fill="#fff"/>
<line x1="435" x2="435" y1="390.5" y2="503.7" stroke="#f3f3f3" stroke-width="0.35"/>
<line x1="465.2" x2="465.2" y1="390.5" y2="503.7" stroke="#f3f3f3" stroke-width="0.35"/>
<line x1="495.4" x2="495.4" y1="390.5" y2="503.7" stroke="#f3f3f3" stroke-width="0.35"/>
<line x1="525.6" x2="525.6" y1="390.5" y2="503.7" stroke="#f3f3f3" stroke-width="0.35"/>
<line x1="429.8" x2="541.5" y1="482.55" y2="482.55" stroke="#f3f3f3" stroke-width="0.35"/>
<line x1="429.8" x2="541.5" y1="449.65" y2="449.65" stroke="#f3f3f3" stroke-width="0.35"/>
<line x1="429.8" x2="541.5" y1="416.75" y2="416.75" stroke="#f3f3f3" stroke-width="0.35"/>
<line x1="450.1" x2="450.1" y1="390.5" y2="503.7" stroke="#e6e6e6" stroke-width="0.6"/>
<line x1="480.3" x2="480.3" y1="390.5" y2="503.7" stroke="#e6e6e6" stroke-width="0.6"/>
<line x1="510.5" x2="510.5" y1="390.5" y2="503.7" stroke="#e6e6e6" stroke-width="0.6"/>
<line x1="429.8" x2="541.5" y1="499" y2="499" stroke="#e6e6e6" stroke-width="0.6"/>
<line x1="429.8" x2="541.5" y1="466.1" y2="466.1" stroke="#e6e6e6" stroke-width="0.6"/>
<line x1="429.8" x2="541.5" y1="433.2" y2="433.2" stroke="#e6e6e6" stroke-width="0.6"/>
<line x1="429.8" x2="541.5" y1="400.3" y2="400.3" stroke="#e6e6e6" stroke-width="0.6"/>
<clipPath id="cG1"><rect x="430.3" y="391" width="110.7" height="112.2"/></clipPath>
<g clip-path="url(#cG1)">
<path d="M435.2,475.69 C435.92,474.26 437.71,469.58 439.51,467.07 C441.31,464.55 443.83,460.6 445.98,460.6 C448.14,460.6 450.3,464.91 452.45,467.07 C454.61,469.22 456.77,472.28 458.93,473.54 C461.08,474.8 463.42,473.9 465.4,474.62 C467.37,475.34 468.99,476.59 470.79,477.85 C472.59,479.11 474.56,481.63 476.18,482.17 C477.8,482.7 479.06,482.17 480.5,481.09 C481.93,480.01 483.37,478.39 484.81,475.69 C486.25,473 487.69,468.86 489.12,464.91 C490.56,460.95 491.64,455.92 493.44,451.97 C495.24,448.01 497.93,443.7 499.91,441.18 C501.89,438.67 503.5,439.03 505.3,436.87 C507.1,434.71 509.08,431.83 510.69,428.24 C512.31,424.64 513.57,419.61 515.01,415.3 C516.45,410.98 518.06,405.59 519.32,402.36 C520.58,399.12 521.48,395.52 522.56,395.88 C523.64,396.24 524.54,399.12 525.79,404.51 C527.05,409.91 528.67,420.33 530.11,428.24 C531.55,436.15 533.34,446.22 534.42,451.97 C535.5,457.72 536.22,460.95 536.58,462.75" stroke="#19a552" stroke-width="1.4" fill="none" stroke-linejoin="round"/>
<path d="M435.2,476.56 C435.92,475.16 437.71,470.52 439.51,468.14 C441.31,465.77 443.83,462.21 445.98,462.32 C448.14,462.43 450.3,466.64 452.45,468.79 C454.61,470.95 456.77,474.04 458.93,475.26 C461.08,476.49 463.42,475.41 465.4,476.13 C467.37,476.84 468.99,478.21 470.79,479.58 C472.59,480.94 474.56,483.71 476.18,484.32 C477.8,484.93 479.06,484.39 480.5,483.24 C481.93,482.09 483.37,480.26 484.81,477.42 C486.25,474.58 487.69,470.09 489.12,466.2 C490.56,462.32 491.64,457.86 493.44,454.12 C495.24,450.39 497.93,446.22 499.91,443.77 C501.89,441.33 503.5,441.69 505.3,439.46 C507.1,437.23 509.08,434.14 510.69,430.4 C512.31,426.66 513.57,421.48 515.01,417.02 C516.45,412.57 518.06,406.89 519.32,403.65 C520.58,400.41 521.48,397.18 522.56,397.61 C523.64,398.04 524.54,400.85 525.79,406.24 C527.05,411.63 528.67,421.98 530.11,429.97 C531.55,437.95 533.34,448.3 534.42,454.12 C535.5,459.95 536.22,463.11 536.58,464.91" stroke="#19a552" stroke-width="1.2" fill="none" stroke-linejoin="round"/>
<path d="M435.2,477.85 C435.92,476.05 438.07,466.35 439.51,467.07 C440.95,467.79 442.21,477.85 443.83,482.17 C445.44,486.48 447.42,491.15 449.22,492.95 C451.02,494.75 452.63,494.75 454.61,492.95 C456.59,491.15 459.11,486.48 461.08,482.17 C463.06,477.85 464.86,470.3 466.48,467.07 C468.09,463.83 469.53,463.11 470.79,462.75 C472.05,462.39 472.77,463.11 474.03,464.91 C475.28,466.71 476.9,471.2 478.34,473.54 C479.78,475.87 481.22,479.29 482.65,478.93 C484.09,478.57 485.53,478.03 486.97,471.38 C488.41,464.73 489.84,448.73 491.28,439.03 C492.72,429.32 493.98,419.79 495.6,413.14 C497.21,406.49 499.55,401.64 500.99,399.12 C502.43,396.6 502.97,397.5 504.22,398.04 C505.48,398.58 507.1,401.64 508.54,402.36 C509.98,403.07 511.41,402.18 512.85,402.36 C514.29,402.54 515.55,402.18 517.17,403.43 C518.78,404.69 520.76,405.41 522.56,409.91 C524.36,414.4 526.15,422.67 527.95,430.4 C529.75,438.13 531.91,449.09 533.34,456.28 C534.78,463.47 536.04,470.66 536.58,473.54" stroke="#f7e11b" stroke-width="1.2" fill="none" stroke-linejoin="round"/>
<path d="M435.2,480.01 C435.92,478.21 437.71,469.22 439.51,469.22 C441.31,469.22 443.83,476.41 445.98,480.01 C448.14,483.6 450.48,489.36 452.45,490.79 C454.43,492.23 456.05,490.43 457.85,488.64 C459.64,486.84 461.26,483.96 463.24,480.01 C465.22,476.05 467.91,467.79 469.71,464.91 C471.51,462.03 472.59,462.03 474.03,462.75 C475.46,463.47 476.9,467.07 478.34,469.22 C479.78,471.38 481.22,475.34 482.65,475.69 C484.09,476.05 485.53,476.41 486.97,471.38 C488.41,466.35 489.84,454.12 491.28,445.5 C492.72,436.87 494.16,425.9 495.6,419.61 C497.03,413.32 498.47,410.26 499.91,407.75 C501.35,405.23 502.79,405.41 504.22,404.51 C505.66,403.61 506.92,403.07 508.54,402.36 C510.16,401.64 512.31,400.38 513.93,400.2 C515.55,400.02 516.81,400.2 518.24,401.28 C519.68,402.36 520.94,402.89 522.56,406.67 C524.18,410.44 526.15,416.38 527.95,423.93 C529.75,431.48 531.91,443.34 533.34,451.97 C534.78,460.6 536.04,471.74 536.58,475.69" stroke="#f7931e" stroke-width="1.2" fill="none" stroke-linejoin="round"/>
<path d="M435.2,478.93 C435.92,477.13 437.71,468.25 439.51,468.14 C441.31,468.04 443.83,474.87 445.98,478.28 C448.14,481.7 450.48,487.2 452.45,488.64 C454.43,490.07 456.05,488.64 457.85,486.91 C459.64,485.19 461.26,482.09 463.24,478.28 C465.22,474.47 467.91,466.71 469.71,464.05 C471.51,461.39 472.59,461.64 474.03,462.32 C475.46,463 476.9,466.13 478.34,468.14 C479.78,470.16 481.22,474.15 482.65,474.4 C484.09,474.65 485.53,474.83 486.97,469.65 C488.41,464.48 489.84,451.97 491.28,443.34 C492.72,434.71 494.16,424.07 495.6,417.89 C497.03,411.7 498.47,408.75 499.91,406.24 C501.35,403.72 502.79,403.61 504.22,402.79 C505.66,401.96 506.92,401.78 508.54,401.28 C510.16,400.77 512.31,399.87 513.93,399.77 C515.55,399.66 516.81,399.66 518.24,400.63 C519.68,401.6 520.94,402 522.56,405.59 C524.18,409.19 526.15,414.83 527.95,422.2 C529.75,429.57 531.91,441.25 533.34,449.81 C534.78,458.37 536.04,469.58 536.58,473.54" stroke="#f7931e" stroke-width="1.1" fill="none" stroke-linejoin="round"/>
<path d="M435.2,480.01 C436.1,477.49 438.79,465.99 440.59,464.91 C442.39,463.83 444.01,470.48 445.98,473.54 C447.96,476.59 450.3,481.81 452.45,483.24 C454.61,484.68 456.95,483.78 458.93,482.17 C460.9,480.55 462.52,475.34 464.32,473.54 C466.12,471.74 467.73,471.38 469.71,471.38 C471.69,471.38 474.2,473.18 476.18,473.54 C478.16,473.9 479.78,475.69 481.57,473.54 C483.37,471.38 485.35,467.07 486.97,460.6 C488.58,454.12 489.84,442.62 491.28,434.71 C492.72,426.8 494.16,417.35 495.6,413.14 C497.03,408.93 498.47,409.11 499.91,409.47 C501.35,409.83 502.79,413.97 504.22,415.3 C505.66,416.63 507.1,418.71 508.54,417.45 C509.98,416.2 511.41,410.26 512.85,407.75 C514.29,405.23 515.55,402.54 517.17,402.36 C518.78,402.18 520.76,402.71 522.56,406.67 C524.36,410.62 526.15,417.81 527.95,426.08 C529.75,434.35 531.91,447.29 533.34,456.28 C534.78,465.27 536.04,476.05 536.58,480.01" stroke="#a77b2b" stroke-width="1.2" fill="none" stroke-linejoin="round"/>
<path d="M435.2,470.3 C436.1,469.4 439.15,466.17 440.59,464.91 C442.03,463.65 442.21,462.75 443.83,462.75 C445.44,462.75 448.14,463.47 450.3,464.91 C452.45,466.35 454.61,469.94 456.77,471.38 C458.93,472.82 461.08,473.18 463.24,473.54 C465.4,473.9 467.55,473.18 469.71,473.54 C471.87,473.9 474.2,476.05 476.18,475.69 C478.16,475.34 479.78,474.62 481.57,471.38 C483.37,468.14 485.17,463.47 486.97,456.28 C488.76,449.09 490.56,435.07 492.36,428.24 C494.16,421.41 495.78,417.99 497.75,415.3 C499.73,412.6 502.07,412.78 504.22,412.06 C506.38,411.34 508.9,411.34 510.69,410.98 C512.49,410.62 513.57,409.55 515.01,409.91 C516.45,410.26 517.88,410.44 519.32,413.14 C520.76,415.84 522.02,420.33 523.64,426.08 C525.25,431.83 527.41,440.82 529.03,447.65 C530.65,454.48 532.09,461.31 533.34,467.07 C534.6,472.82 536.04,479.65 536.58,482.17" stroke="#c4242c" stroke-width="1.3" fill="none" stroke-linejoin="round"/>
<path d="M435.2,471.81 C436.1,470.84 439.15,467.28 440.59,465.99 C442.03,464.69 442.21,464.01 443.83,464.05 C445.44,464.08 448.14,464.77 450.3,466.2 C452.45,467.64 454.61,471.24 456.77,472.67 C458.93,474.11 461.08,474.47 463.24,474.83 C465.4,475.19 467.55,474.47 469.71,474.83 C471.87,475.19 474.2,477.35 476.18,476.99 C478.16,476.63 479.78,475.91 481.57,472.67 C483.37,469.44 485.17,464.69 486.97,457.58 C488.76,450.46 490.56,436.72 492.36,429.97 C494.16,423.21 495.78,419.72 497.75,417.02 C499.73,414.33 502.07,414.51 504.22,413.79 C506.38,413.07 508.9,413.07 510.69,412.71 C512.49,412.35 513.57,411.27 515.01,411.63 C516.45,411.99 517.88,412.17 519.32,414.87 C520.76,417.56 522.02,422.06 523.64,427.81 C525.25,433.56 527.41,442.55 529.03,449.38 C530.65,456.21 532.09,463.11 533.34,468.79 C534.6,474.47 536.04,481.02 536.58,483.46" stroke="#c4242c" stroke-width="1.2" fill="none" stroke-linejoin="round"/>
</g>
<rect x="429.8" y="390.5" width="111.7" height="113.2" fill="none" stroke="#333" stroke-width="1.05"/>
<line x1="450.1" x2="450.1" y1="503.7" y2="505.7" stroke="#333" stroke-width="0.6"/>
<text x="450.1" y="511.3" font-size="5.6" text-anchor="middle" font-weight="normal" fill="#333" >−3</text>
<line x1="480.3" x2="480.3" y1="503.7" y2="505.7" stroke="#333" stroke-width="0.6"/>
<text x="480.3" y="511.3" font-size="5.6" text-anchor="middle" font-weight="normal" fill="#333" >−2</text>
<line x1="510.5" x2="510.5" y1="503.7" y2="505.7" stroke="#333" stroke-width="0.6"/>
<text x="510.5" y="511.3" font-size="5.6" text-anchor="middle" font-weight="normal" fill="#333" >−1</text>
<line x1="427.8" x2="429.8" y1="499" y2="499" stroke="#333" stroke-width="0.6"/>
<text x="427" y="501" font-size="5.6" text-anchor="end" font-weight="normal" fill="#333" >0.0</text>
<line x1="427.8" x2="429.8" y1="466.1" y2="466.1" stroke="#333" stroke-width="0.6"/>
<text x="427" y="468.1" font-size="5.6" text-anchor="end" font-weight="normal" fill="#333" >0.2</text>
<line x1="427.8" x2="429.8" y1="433.2" y2="433.2" stroke="#333" stroke-width="0.6"/>
<text x="427" y="435.2" font-size="5.6" text-anchor="end" font-weight="normal" fill="#333" >0.4</text>
<line x1="427.8" x2="429.8" y1="400.3" y2="400.3" stroke="#333" stroke-width="0.6"/>
<text x="427" y="402.3" font-size="5.6" text-anchor="end" font-weight="normal" fill="#333" >0.6</text>
<text x="486.5" y="515.6" font-size="5.75" text-anchor="middle" font-weight="normal" fill="#222" >Solvation (kcal/mol)</text>
<text transform="translate(419,445) rotate(-90)" font-size="5.75" text-anchor="middle" fill="#222">Density</text>
<text x="413.6" y="389" font-size="13" text-anchor="start" font-weight="bold" fill="#111" >G</text>
<rect x="429.8" y="520.9" width="111.7" height="113.2" fill="#fff"/>
<line x1="434" x2="434" y1="520.9" y2="634.1" stroke="#f3f3f3" stroke-width="0.35"/>
<line x1="464.4" x2="464.4" y1="520.9" y2="634.1" stroke="#f3f3f3" stroke-width="0.35"/>
<line x1="494.8" x2="494.8" y1="520.9" y2="634.1" stroke="#f3f3f3" stroke-width="0.35"/>
<line x1="525.2" x2="525.2" y1="520.9" y2="634.1" stroke="#f3f3f3" stroke-width="0.35"/>
<line x1="429.8" x2="541.5" y1="612.95" y2="612.95" stroke="#f3f3f3" stroke-width="0.35"/>
<line x1="429.8" x2="541.5" y1="580.05" y2="580.05" stroke="#f3f3f3" stroke-width="0.35"/>
<line x1="429.8" x2="541.5" y1="547.15" y2="547.15" stroke="#f3f3f3" stroke-width="0.35"/>
<line x1="449.2" x2="449.2" y1="520.9" y2="634.1" stroke="#e6e6e6" stroke-width="0.6"/>
<line x1="479.6" x2="479.6" y1="520.9" y2="634.1" stroke="#e6e6e6" stroke-width="0.6"/>
<line x1="510" x2="510" y1="520.9" y2="634.1" stroke="#e6e6e6" stroke-width="0.6"/>
<line x1="429.8" x2="541.5" y1="629.4" y2="629.4" stroke="#e6e6e6" stroke-width="0.6"/>
<line x1="429.8" x2="541.5" y1="596.5" y2="596.5" stroke="#e6e6e6" stroke-width="0.6"/>
<line x1="429.8" x2="541.5" y1="563.6" y2="563.6" stroke="#e6e6e6" stroke-width="0.6"/>
<line x1="429.8" x2="541.5" y1="530.7" y2="530.7" stroke="#e6e6e6" stroke-width="0.6"/>
<clipPath id="cG2"><rect x="430.3" y="521.4" width="110.7" height="112.2"/></clipPath>
<g clip-path="url(#cG2)">
<path d="M435.2,603.91 C436.1,603.73 438.43,603.19 440.59,602.83 C442.75,602.47 445.44,601.57 448.14,601.75 C450.84,601.93 453.89,603.55 456.77,603.91 C459.64,604.27 462.52,603.73 465.4,603.91 C468.27,604.09 471.51,605.35 474.03,604.99 C476.54,604.63 478.34,604.81 480.5,601.75 C482.65,598.7 484.81,592.05 486.97,586.65 C489.12,581.26 491.28,574.79 493.44,569.4 C495.6,564 497.75,558.25 499.91,554.3 C502.07,550.34 504.22,547.83 506.38,545.67 C508.54,543.51 510.87,542.07 512.85,541.36 C514.83,540.64 516.45,540.28 518.24,541.36 C520.04,542.43 521.84,543.15 523.64,547.83 C525.43,552.5 527.23,561.49 529.03,569.4 C530.83,577.31 533.16,589.89 534.42,595.28 C535.68,600.67 536.22,600.67 536.58,601.75" stroke="#f7b9cc" stroke-width="1.2" fill="none" stroke-linejoin="round"/>
<path d="M435.2,609.3 C435.92,607.68 437.89,602.65 439.51,599.6 C441.13,596.54 442.93,591.69 444.91,590.97 C446.88,590.25 449.4,593.48 451.38,595.28 C453.35,597.08 454.79,600.31 456.77,601.75 C458.75,603.19 461.08,602.83 463.24,603.91 C465.4,604.99 467.91,606.97 469.71,608.22 C471.51,609.48 472.59,610.74 474.03,611.46 C475.46,612.18 476.9,613.44 478.34,612.54 C479.78,611.64 481.22,609.3 482.65,606.07 C484.09,602.83 485.17,597.8 486.97,593.12 C488.76,588.45 491.28,581.62 493.44,578.03 C495.6,574.43 497.75,574.07 499.91,571.55 C502.07,569.04 504.4,566.16 506.38,562.93 C508.36,559.69 510.16,556.45 511.77,552.14 C513.39,547.83 514.47,541.36 516.09,537.04 C517.7,532.73 520.04,527.87 521.48,526.26 C522.92,524.64 523.46,524.82 524.72,527.33 C525.97,529.85 527.59,534.7 529.03,541.36 C530.47,548.01 532.09,558.61 533.34,567.24 C534.6,575.87 536.04,588.81 536.58,593.12" stroke="#19a552" stroke-width="1.4" fill="none" stroke-linejoin="round"/>
<path d="M435.2,608.65 C435.92,607.29 437.89,603.19 439.51,600.46 C441.13,597.73 442.93,592.84 444.91,592.26 C446.88,591.69 449.4,595.14 451.38,597.01 C453.35,598.88 454.79,601.97 456.77,603.48 C458.75,604.99 461.08,604.92 463.24,606.07 C465.4,607.22 467.91,609.12 469.71,610.38 C471.51,611.64 472.59,612.9 474.03,613.62 C475.46,614.34 476.9,615.59 478.34,614.69 C479.78,613.8 481.22,611.53 482.65,608.22 C484.09,604.92 485.17,599.52 486.97,594.85 C488.76,590.18 491.28,583.63 493.44,580.18 C495.6,576.73 497.75,576.59 499.91,574.14 C502.07,571.7 504.4,568.82 506.38,565.51 C508.36,562.21 510.16,558.83 511.77,554.3 C513.39,549.77 514.47,542.87 516.09,538.34 C517.7,533.81 520.04,528.84 521.48,527.12 C522.92,525.39 523.46,525.43 524.72,527.98 C525.97,530.53 527.59,535.71 529.03,542.43 C530.47,549.16 532.09,559.69 533.34,568.32 C534.6,576.95 536.04,589.89 536.58,594.2" stroke="#19a552" stroke-width="1.2" fill="none" stroke-linejoin="round"/>
<path d="M435.2,601.75 C436.1,601.03 438.43,597.8 440.59,597.44 C442.75,597.08 445.8,598.7 448.14,599.6 C450.48,600.49 452.45,601.93 454.61,602.83 C456.77,603.73 458.93,604.27 461.08,604.99 C463.24,605.71 465.4,606.61 467.55,607.14 C469.71,607.68 472.05,608.22 474.03,608.22 C476,608.22 477.62,609.3 479.42,607.14 C481.22,604.99 482.83,600.49 484.81,595.28 C486.79,590.07 488.76,582.34 491.28,575.87 C493.8,569.4 497.39,561.85 499.91,556.45 C502.43,551.06 504.22,546.75 506.38,543.51 C508.54,540.28 511.05,537.94 512.85,537.04 C514.65,536.14 515.55,537.04 517.17,538.12 C518.78,539.2 520.76,539.02 522.56,543.51 C524.36,548.01 526.15,557.17 527.95,565.08 C529.75,572.99 531.91,584.86 533.34,590.97 C534.78,597.08 536.04,599.95 536.58,601.75" stroke="#ec2a91" stroke-width="1.2" fill="none" stroke-linejoin="round"/>
<path d="M435.2,599.6 C436.1,599.06 438.43,596.9 440.59,596.36 C442.75,595.82 445.44,596.36 448.14,596.36 C450.84,596.36 454.25,596.18 456.77,596.36 C459.29,596.54 461.08,596.18 463.24,597.44 C465.4,598.7 467.55,602.65 469.71,603.91 C471.87,605.17 474.2,605.35 476.18,604.99 C478.16,604.63 479.78,604.81 481.57,601.75 C483.37,598.7 484.99,592.05 486.97,586.65 C488.94,581.26 491.28,574.07 493.44,569.4 C495.6,564.72 497.75,561.49 499.91,558.61 C502.07,555.74 504.22,554.3 506.38,552.14 C508.54,549.98 511.05,546.93 512.85,545.67 C514.65,544.41 515.55,543.51 517.17,544.59 C518.78,545.67 520.76,547.65 522.56,552.14 C524.36,556.63 526.15,564.72 527.95,571.55 C529.75,578.38 531.91,587.73 533.34,593.12 C534.78,598.52 536.04,602.11 536.58,603.91" stroke="#ec2a91" stroke-width="1.2" fill="none" stroke-linejoin="round"/>
<path d="M435.2,595.28 C435.92,594.74 437.89,592.41 439.51,592.05 C441.13,591.69 443.11,592.23 444.91,593.12 C446.7,594.02 448.32,596 450.3,597.44 C452.27,598.88 454.61,601.21 456.77,601.75 C458.93,602.29 461.08,601.21 463.24,600.67 C465.4,600.13 467.73,598.52 469.71,598.52 C471.69,598.52 473.31,599.78 475.1,600.67 C476.9,601.57 478.7,605.17 480.5,603.91 C482.29,602.65 483.91,598.52 485.89,593.12 C487.87,587.73 490.02,577.67 492.36,571.55 C494.7,565.44 497.57,560.41 499.91,556.45 C502.25,552.5 504.22,550.34 506.38,547.83 C508.54,545.31 511.05,542.61 512.85,541.36 C514.65,540.1 515.55,539.56 517.17,540.28 C518.78,541 520.76,541.54 522.56,545.67 C524.36,549.8 526.15,557.53 527.95,565.08 C529.75,572.63 531.91,583.78 533.34,590.97 C534.78,598.16 536.04,605.35 536.58,608.22" stroke="#7a3195" stroke-width="1.3" fill="none" stroke-linejoin="round"/>
<path d="M435.2,597.44 C435.92,596.72 437.89,593.66 439.51,593.12 C441.13,592.58 443.11,593.3 444.91,594.2 C446.7,595.1 448.32,597.26 450.3,598.52 C452.27,599.78 454.61,601.39 456.77,601.75 C458.93,602.11 461.08,601.03 463.24,600.67 C465.4,600.31 467.73,599.42 469.71,599.6 C471.69,599.78 473.31,601.03 475.1,601.75 C476.9,602.47 478.7,605.35 480.5,603.91 C482.29,602.47 483.91,598.52 485.89,593.12 C487.87,587.73 490.02,577.67 492.36,571.55 C494.7,565.44 497.57,560.41 499.91,556.45 C502.25,552.5 504.22,550.34 506.38,547.83 C508.54,545.31 511.23,542.79 512.85,541.36 C514.47,539.92 514.65,538.66 516.09,539.2 C517.53,539.74 519.5,540.64 521.48,544.59 C523.46,548.55 525.97,555.2 527.95,562.93 C529.93,570.66 531.91,583.06 533.34,590.97 C534.78,598.88 536.04,607.14 536.58,610.38" stroke="#2f3190" stroke-width="1.4" fill="none" stroke-linejoin="round"/>
<path d="M435.2,596.14 C435.92,595.5 437.89,592.69 439.51,592.26 C441.13,591.83 443.11,592.62 444.91,593.56 C446.7,594.49 448.32,596.65 450.3,597.87 C452.27,599.09 454.61,600.6 456.77,600.89 C458.93,601.18 461.08,599.88 463.24,599.6 C465.4,599.31 467.73,598.88 469.71,599.16 C471.69,599.45 473.31,600.67 475.1,601.32 C476.9,601.97 478.7,604.56 480.5,603.05 C482.29,601.54 483.91,597.65 485.89,592.26 C487.87,586.87 490.02,576.8 492.36,570.69 C494.7,564.58 497.57,559.55 499.91,555.59 C502.25,551.64 504.22,549.48 506.38,546.96 C508.54,544.45 511.23,541.86 512.85,540.49 C514.47,539.13 514.65,538.19 516.09,538.77 C517.53,539.34 519.5,539.99 521.48,543.94 C523.46,547.9 525.97,554.8 527.95,562.49 C529.93,570.19 531.91,582.41 533.34,590.1 C534.78,597.8 536.04,605.56 536.58,608.65" stroke="#2f3190" stroke-width="1.3" fill="none" stroke-linejoin="round"/>
</g>
<rect x="429.8" y="520.9" width="111.7" height="113.2" fill="none" stroke="#333" stroke-width="1.05"/>
<line x1="449.2" x2="449.2" y1="634.1" y2="636.1" stroke="#333" stroke-width="0.6"/>
<text x="449.2" y="641.7" font-size="5.6" text-anchor="middle" font-weight="normal" fill="#333" >−3</text>
<line x1="479.6" x2="479.6" y1="634.1" y2="636.1" stroke="#333" stroke-width="0.6"/>
<text x="479.6" y="641.7" font-size="5.6" text-anchor="middle" font-weight="normal" fill="#333" >−2</text>
<line x1="510" x2="510" y1="634.1" y2="636.1" stroke="#333" stroke-width="0.6"/>
<text x="510" y="641.7" font-size="5.6" text-anchor="middle" font-weight="normal" fill="#333" >−1</text>
<line x1="427.8" x2="429.8" y1="629.4" y2="629.4" stroke="#333" stroke-width="0.6"/>
<text x="427" y="631.4" font-size="5.6" text-anchor="end" font-weight="normal" fill="#333" >0.0</text>
<line x1="427.8" x2="429.8" y1="596.5" y2="596.5" stroke="#333" stroke-width="0.6"/>
<text x="427" y="598.5" font-size="5.6" text-anchor="end" font-weight="normal" fill="#333" >0.2</text>
<line x1="427.8" x2="429.8" y1="563.6" y2="563.6" stroke="#333" stroke-width="0.6"/>
<text x="427" y="565.6" font-size="5.6" text-anchor="end" font-weight="normal" fill="#333" >0.4</text>
<line x1="427.8" x2="429.8" y1="530.7" y2="530.7" stroke="#333" stroke-width="0.6"/>
<text x="427" y="532.7" font-size="5.6" text-anchor="end" font-weight="normal" fill="#333" >0.6</text>
<text x="486.5" y="647.8" font-size="5.75" text-anchor="middle" font-weight="normal" fill="#222" >Solvation (kcal/mol)</text>
<text transform="translate(419,575.5) rotate(-90)" font-size="5.75" text-anchor="middle" fill="#222">Density</text>
<rect x="561.8" y="390.5" width="118" height="113.2" fill="#fff"/>
<line x1="583.3" x2="583.3" y1="390.5" y2="503.7" stroke="#f3f3f3" stroke-width="0.35"/>
<line x1="610.6" x2="610.6" y1="390.5" y2="503.7" stroke="#f3f3f3" stroke-width="0.35"/>
<line x1="638.1" x2="638.1" y1="390.5" y2="503.7" stroke="#f3f3f3" stroke-width="0.35"/>
<line x1="665.25" x2="665.25" y1="390.5" y2="503.7" stroke="#f3f3f3" stroke-width="0.35"/>
<line x1="569.8" x2="569.8" y1="390.5" y2="503.7" stroke="#e6e6e6" stroke-width="0.6"/>
<line x1="596.8" x2="596.8" y1="390.5" y2="503.7" stroke="#e6e6e6" stroke-width="0.6"/>
<line x1="624.4" x2="624.4" y1="390.5" y2="503.7" stroke="#e6e6e6" stroke-width="0.6"/>
<line x1="651.8" x2="651.8" y1="390.5" y2="503.7" stroke="#e6e6e6" stroke-width="0.6"/>
<line x1="678.7" x2="678.7" y1="390.5" y2="503.7" stroke="#e6e6e6" stroke-width="0.6"/>
<clipPath id="cH1"><rect x="562.3" y="391" width="117" height="112.2"/></clipPath>
<g clip-path="url(#cH1)">
<path d="M566.6,427.5 C569.67,427.45 579.43,427.97 585,427.2 C590.57,426.43 595.5,423.77 600,422.9 C604.5,422.03 607.38,422.32 612,422 C616.62,421.68 623.53,423.75 627.7,421 C631.87,418.25 634.23,409.65 637,405.5 C639.77,401.35 642.15,398.1 644.3,396.1 C646.45,394.1 647.73,394.27 649.9,393.5 C652.07,392.73 655.45,391.17 657.3,391.5 C659.15,391.83 659.77,391.97 661,395.5 C662.23,399.03 663.17,407.7 664.7,412.7 C666.23,417.7 668.58,423.03 670.2,425.5 C671.82,427.97 673.7,427.17 674.4,427.5 L674.4,427.5 L566.6,427.5 Z" fill="#be1e28" fill-opacity="0.72" stroke="none"/>
<path d="M566.6,427.5 C569.67,427.45 579.43,427.97 585,427.2 C590.57,426.43 595.5,423.77 600,422.9 C604.5,422.03 607.38,422.32 612,422 C616.62,421.68 623.53,423.75 627.7,421 C631.87,418.25 634.23,409.65 637,405.5 C639.77,401.35 642.15,398.1 644.3,396.1 C646.45,394.1 647.73,394.27 649.9,393.5 C652.07,392.73 655.45,391.17 657.3,391.5 C659.15,391.83 659.77,391.97 661,395.5 C662.23,399.03 663.17,407.7 664.7,412.7 C666.23,417.7 668.58,423.03 670.2,425.5 C671.82,427.97 673.7,427.17 674.4,427.5" fill="none" stroke="#1a1a1a" stroke-width="0.65"/>
<path d="M566.6,435.3 C569.67,435.25 579.43,435.38 585,435 C590.57,434.62 594.42,433.78 600,433 C605.58,432.22 613.88,431.08 618.5,430.3 C623.12,429.52 624.62,430.63 627.7,428.3 C630.78,425.97 634.23,420.43 637,416.3 C639.77,412.17 642.15,405.78 644.3,403.5 C646.45,401.22 648.05,403.53 649.9,402.6 C651.75,401.67 653.87,398.52 655.4,397.9 C656.93,397.28 657.72,395.5 659.1,398.9 C660.48,402.3 662.15,412.9 663.7,418.3 C665.25,423.7 667.18,428.55 668.4,431.3 C669.62,434.05 670,434.13 671,434.8 C672,435.47 673.83,435.22 674.4,435.3 L674.4,435.3 L566.6,435.3 Z" fill="#be1e28" fill-opacity="0.72" stroke="none"/>
<path d="M566.6,435.3 C569.67,435.25 579.43,435.38 585,435 C590.57,434.62 594.42,433.78 600,433 C605.58,432.22 613.88,431.08 618.5,430.3 C623.12,429.52 624.62,430.63 627.7,428.3 C630.78,425.97 634.23,420.43 637,416.3 C639.77,412.17 642.15,405.78 644.3,403.5 C646.45,401.22 648.05,403.53 649.9,402.6 C651.75,401.67 653.87,398.52 655.4,397.9 C656.93,397.28 657.72,395.5 659.1,398.9 C660.48,402.3 662.15,412.9 663.7,418.3 C665.25,423.7 667.18,428.55 668.4,431.3 C669.62,434.05 670,434.13 671,434.8 C672,435.47 673.83,435.22 674.4,435.3" fill="none" stroke="#1a1a1a" stroke-width="0.65"/>
<path d="M566.6,444.5 C568.5,444.45 574.1,444.37 578,444.2 C581.9,444.03 584.18,444.43 590,443.5 C595.82,442.57 606.62,439.42 612.9,438.6 C619.18,437.78 623.68,441.37 627.7,438.6 C631.72,435.83 634.53,426.17 637,422 C639.47,417.83 640.82,414.68 642.5,413.6 C644.18,412.52 645.57,414.42 647.1,415.5 C648.63,416.58 649.7,421.93 651.7,420.1 C653.7,418.27 657.25,405.73 659.1,404.5 C660.95,403.27 661.25,407.95 662.8,412.7 C664.35,417.45 667.03,428.03 668.4,433 C669.77,437.97 670,440.58 671,442.5 C672,444.42 673.83,444.17 674.4,444.5 L674.4,444.5 L566.6,444.5 Z" fill="#a67628" fill-opacity="0.72" stroke="none"/>
<path d="M566.6,444.5 C568.5,444.45 574.1,444.37 578,444.2 C581.9,444.03 584.18,444.43 590,443.5 C595.82,442.57 606.62,439.42 612.9,438.6 C619.18,437.78 623.68,441.37 627.7,438.6 C631.72,435.83 634.53,426.17 637,422 C639.47,417.83 640.82,414.68 642.5,413.6 C644.18,412.52 645.57,414.42 647.1,415.5 C648.63,416.58 649.7,421.93 651.7,420.1 C653.7,418.27 657.25,405.73 659.1,404.5 C660.95,403.27 661.25,407.95 662.8,412.7 C664.35,417.45 667.03,428.03 668.4,433 C669.77,437.97 670,440.58 671,442.5 C672,444.42 673.83,444.17 674.4,444.5" fill="none" stroke="#1a1a1a" stroke-width="0.65"/>
<path d="M566.6,452.4 C568,452.32 571.1,452.15 575,451.9 C578.9,451.65 584.17,451.65 590,450.9 C595.83,450.15 603.72,448.53 610,447.4 C616.28,446.27 623.2,446.18 627.7,444.1 C632.2,442.02 634.53,437.35 637,434.9 C639.47,432.45 640.35,429.4 642.5,429.4 C644.65,429.4 648.05,433.68 649.9,434.9 C651.75,436.12 652.07,440.25 653.6,436.7 C655.13,433.15 657.42,416.05 659.1,413.6 C660.78,411.15 662.15,417.2 663.7,422 C665.25,426.8 667.18,437.67 668.4,442.4 C669.62,447.13 670,448.73 671,450.4 C672,452.07 673.83,452.07 674.4,452.4 L674.4,452.4 L566.6,452.4 Z" fill="#a67628" fill-opacity="0.72" stroke="none"/>
<path d="M566.6,452.4 C568,452.32 571.1,452.15 575,451.9 C578.9,451.65 584.17,451.65 590,450.9 C595.83,450.15 603.72,448.53 610,447.4 C616.28,446.27 623.2,446.18 627.7,444.1 C632.2,442.02 634.53,437.35 637,434.9 C639.47,432.45 640.35,429.4 642.5,429.4 C644.65,429.4 648.05,433.68 649.9,434.9 C651.75,436.12 652.07,440.25 653.6,436.7 C655.13,433.15 657.42,416.05 659.1,413.6 C660.78,411.15 662.15,417.2 663.7,422 C665.25,426.8 667.18,437.67 668.4,442.4 C669.62,447.13 670,448.73 671,450.4 C672,452.07 673.83,452.07 674.4,452.4" fill="none" stroke="#1a1a1a" stroke-width="0.65"/>
<path d="M566.6,459.8 C568,459.72 571.1,459.72 575,459.3 C578.9,458.88 584.17,457.97 590,457.3 C595.83,456.63 603.72,456.02 610,455.3 C616.28,454.58 623.2,455.17 627.7,453 C632.2,450.83 634.38,444.7 637,442.3 C639.62,439.9 641.25,438.3 643.4,438.6 C645.55,438.9 648.2,443.18 649.9,444.1 C651.6,445.02 652.07,446.72 653.6,444.1 C655.13,441.48 657.42,430.25 659.1,428.4 C660.78,426.55 662.15,429.43 663.7,433 C665.25,436.57 667.18,445.67 668.4,449.8 C669.62,453.93 670,456.13 671,457.8 C672,459.47 673.83,459.47 674.4,459.8 L674.4,459.8 L566.6,459.8 Z" fill="#f7941d" fill-opacity="0.72" stroke="none"/>
<path d="M566.6,459.8 C568,459.72 571.1,459.72 575,459.3 C578.9,458.88 584.17,457.97 590,457.3 C595.83,456.63 603.72,456.02 610,455.3 C616.28,454.58 623.2,455.17 627.7,453 C632.2,450.83 634.38,444.7 637,442.3 C639.62,439.9 641.25,438.3 643.4,438.6 C645.55,438.9 648.2,443.18 649.9,444.1 C651.6,445.02 652.07,446.72 653.6,444.1 C655.13,441.48 657.42,430.25 659.1,428.4 C660.78,426.55 662.15,429.43 663.7,433 C665.25,436.57 667.18,445.67 668.4,449.8 C669.62,453.93 670,456.13 671,457.8 C672,459.47 673.83,459.47 674.4,459.8" fill="none" stroke="#1a1a1a" stroke-width="0.65"/>
<path d="M566.6,467.8 C568,467.72 571.1,467.8 575,467.3 C578.9,466.8 584.17,465.47 590,464.8 C595.83,464.13 603.72,464.05 610,463.3 C616.28,462.55 623.2,461.95 627.7,460.3 C632.2,458.65 634.53,455.17 637,453.4 C639.47,451.63 640.67,450.78 642.5,449.7 C644.33,448.62 645.85,447.98 648,446.9 C650.15,445.82 653.23,443.2 655.4,443.2 C657.57,443.2 659.15,444.28 661,446.9 C662.85,449.52 665,455.75 666.5,458.9 C668,462.05 668.68,464.32 670,465.8 C671.32,467.28 673.67,467.47 674.4,467.8 L674.4,467.8 L566.6,467.8 Z" fill="#f7941d" fill-opacity="0.72" stroke="none"/>
<path d="M566.6,467.8 C568,467.72 571.1,467.8 575,467.3 C578.9,466.8 584.17,465.47 590,464.8 C595.83,464.13 603.72,464.05 610,463.3 C616.28,462.55 623.2,461.95 627.7,460.3 C632.2,458.65 634.53,455.17 637,453.4 C639.47,451.63 640.67,450.78 642.5,449.7 C644.33,448.62 645.85,447.98 648,446.9 C650.15,445.82 653.23,443.2 655.4,443.2 C657.57,443.2 659.15,444.28 661,446.9 C662.85,449.52 665,455.75 666.5,458.9 C668,462.05 668.68,464.32 670,465.8 C671.32,467.28 673.67,467.47 674.4,467.8" fill="none" stroke="#1a1a1a" stroke-width="0.65"/>
<path d="M566.6,475.5 C568,475.42 571.1,475.42 575,475 C578.9,474.58 584.17,473.83 590,473 C595.83,472.17 603.72,470.88 610,470 C616.28,469.12 623.2,469.55 627.7,467.7 C632.2,465.85 634.23,460.98 637,458.9 C639.77,456.82 641.85,456.28 644.3,455.2 C646.75,454.12 649.53,453.17 651.7,452.4 C653.87,451.63 655.6,450.13 657.3,450.6 C659,451.07 660.37,452.27 661.9,455.2 C663.43,458.13 665.15,465.07 666.5,468.2 C667.85,471.33 668.68,472.78 670,474 C671.32,475.22 673.67,475.25 674.4,475.5 L674.4,475.5 L566.6,475.5 Z" fill="#ffe814" fill-opacity="0.72" stroke="none"/>
<path d="M566.6,475.5 C568,475.42 571.1,475.42 575,475 C578.9,474.58 584.17,473.83 590,473 C595.83,472.17 603.72,470.88 610,470 C616.28,469.12 623.2,469.55 627.7,467.7 C632.2,465.85 634.23,460.98 637,458.9 C639.77,456.82 641.85,456.28 644.3,455.2 C646.75,454.12 649.53,453.17 651.7,452.4 C653.87,451.63 655.6,450.13 657.3,450.6 C659,451.07 660.37,452.27 661.9,455.2 C663.43,458.13 665.15,465.07 666.5,468.2 C667.85,471.33 668.68,472.78 670,474 C671.32,475.22 673.67,475.25 674.4,475.5" fill="none" stroke="#1a1a1a" stroke-width="0.65"/>
<path d="M566.6,482.9 C568,482.82 571.1,482.82 575,482.4 C578.9,481.98 584.17,481.23 590,480.4 C595.83,479.57 603.72,478.22 610,477.4 C616.28,476.58 623.52,477.65 627.7,475.5 C631.88,473.35 633.1,467.27 635.1,464.5 C637.1,461.73 638.17,459.52 639.7,458.9 C641.23,458.28 642.45,458.98 644.3,460.8 C646.15,462.62 648.95,469.07 650.8,469.8 C652.65,470.53 653.87,466.25 655.4,465.2 C656.93,464.15 658.62,462.57 660,463.5 C661.38,464.43 662.3,468.18 663.7,470.8 C665.1,473.42 666.62,477.18 668.4,479.2 C670.18,481.22 673.4,482.28 674.4,482.9 L674.4,482.9 L566.6,482.9 Z" fill="#ffe814" fill-opacity="0.72" stroke="none"/>
<path d="M566.6,482.9 C568,482.82 571.1,482.82 575,482.4 C578.9,481.98 584.17,481.23 590,480.4 C595.83,479.57 603.72,478.22 610,477.4 C616.28,476.58 623.52,477.65 627.7,475.5 C631.88,473.35 633.1,467.27 635.1,464.5 C637.1,461.73 638.17,459.52 639.7,458.9 C641.23,458.28 642.45,458.98 644.3,460.8 C646.15,462.62 648.95,469.07 650.8,469.8 C652.65,470.53 653.87,466.25 655.4,465.2 C656.93,464.15 658.62,462.57 660,463.5 C661.38,464.43 662.3,468.18 663.7,470.8 C665.1,473.42 666.62,477.18 668.4,479.2 C670.18,481.22 673.4,482.28 674.4,482.9" fill="none" stroke="#1a1a1a" stroke-width="0.65"/>
<path d="M566.6,491.5 C567.5,491.45 569.45,491.57 572,491.2 C574.55,490.83 578.43,490.07 581.9,489.3 C585.37,488.53 588.85,487.52 592.8,486.6 C596.75,485.68 601.95,484.42 605.6,483.8 C609.25,483.18 611.97,483.35 614.7,482.9 C617.43,482.45 619.87,482.17 622,481.1 C624.13,480.03 625.82,479.08 627.5,476.5 C629.18,473.92 630.73,468.33 632.1,465.6 C633.47,462.87 634.58,461.32 635.7,460.1 C636.82,458.88 637.73,458.3 638.8,458.3 C639.87,458.3 640.78,457.97 642.1,460.1 C643.42,462.23 645.33,467.9 646.7,471.1 C648.07,474.3 649.23,477.78 650.3,479.3 C651.37,480.82 652.03,481.57 653.1,480.2 C654.17,478.83 655.55,473.68 656.7,471.1 C657.85,468.52 658.93,465.32 660,464.7 C661.07,464.08 661.97,464.82 663.1,467.4 C664.23,469.98 665.58,476.55 666.8,480.2 C668.02,483.85 669.13,487.42 670.4,489.3 C671.67,491.18 673.73,491.13 674.4,491.5 L674.4,491.5 L566.6,491.5 Z" fill="#009e4a" fill-opacity="0.72" stroke="none"/>
<path d="M566.6,491.5 C567.5,491.45 569.45,491.57 572,491.2 C574.55,490.83 578.43,490.07 581.9,489.3 C585.37,488.53 588.85,487.52 592.8,486.6 C596.75,485.68 601.95,484.42 605.6,483.8 C609.25,483.18 611.97,483.35 614.7,482.9 C617.43,482.45 619.87,482.17 622,481.1 C624.13,480.03 625.82,479.08 627.5,476.5 C629.18,473.92 630.73,468.33 632.1,465.6 C633.47,462.87 634.58,461.32 635.7,460.1 C636.82,458.88 637.73,458.3 638.8,458.3 C639.87,458.3 640.78,457.97 642.1,460.1 C643.42,462.23 645.33,467.9 646.7,471.1 C648.07,474.3 649.23,477.78 650.3,479.3 C651.37,480.82 652.03,481.57 653.1,480.2 C654.17,478.83 655.55,473.68 656.7,471.1 C657.85,468.52 658.93,465.32 660,464.7 C661.07,464.08 661.97,464.82 663.1,467.4 C664.23,469.98 665.58,476.55 666.8,480.2 C668.02,483.85 669.13,487.42 670.4,489.3 C671.67,491.18 673.73,491.13 674.4,491.5" fill="none" stroke="#1a1a1a" stroke-width="0.65"/>
<path d="M566.6,499.3 C568,499.25 571.53,499.45 575,499 C578.47,498.55 582.9,497.37 587.4,496.6 C591.9,495.83 598.07,494.83 602,494.4 C605.93,493.97 608.57,494.25 611,494 C613.43,493.75 614.45,493.68 616.6,492.9 C618.75,492.12 621.78,491.12 623.9,489.3 C626.02,487.48 627.78,484.75 629.3,482 C630.82,479.25 631.47,475.55 633,472.8 C634.53,470.05 636.67,466.1 638.5,465.5 C640.33,464.9 642.18,467.07 644,469.2 C645.82,471.33 647.88,476.93 649.4,478.3 C650.92,479.67 651.58,478.32 653.1,477.4 C654.62,476.48 657.13,473.4 658.5,472.8 C659.87,472.2 660.23,472.27 661.3,473.8 C662.37,475.33 663.53,478.52 664.9,482 C666.27,485.48 668.28,491.97 669.5,494.7 C670.72,497.43 671.38,497.63 672.2,498.4 C673.02,499.17 674.03,499.15 674.4,499.3 L674.4,499.3 L566.6,499.3 Z" fill="#009e4a" fill-opacity="0.72" stroke="none"/>
<path d="M566.6,499.3 C568,499.25 571.53,499.45 575,499 C578.47,498.55 582.9,497.37 587.4,496.6 C591.9,495.83 598.07,494.83 602,494.4 C605.93,493.97 608.57,494.25 611,494 C613.43,493.75 614.45,493.68 616.6,492.9 C618.75,492.12 621.78,491.12 623.9,489.3 C626.02,487.48 627.78,484.75 629.3,482 C630.82,479.25 631.47,475.55 633,472.8 C634.53,470.05 636.67,466.1 638.5,465.5 C640.33,464.9 642.18,467.07 644,469.2 C645.82,471.33 647.88,476.93 649.4,478.3 C650.92,479.67 651.58,478.32 653.1,477.4 C654.62,476.48 657.13,473.4 658.5,472.8 C659.87,472.2 660.23,472.27 661.3,473.8 C662.37,475.33 663.53,478.52 664.9,482 C666.27,485.48 668.28,491.97 669.5,494.7 C670.72,497.43 671.38,497.63 672.2,498.4 C673.02,499.17 674.03,499.15 674.4,499.3" fill="none" stroke="#1a1a1a" stroke-width="0.65"/>
</g>
<rect x="561.8" y="390.5" width="118" height="113.2" fill="none" stroke="#333" stroke-width="1.05"/>
<line x1="569.8" x2="569.8" y1="503.7" y2="505.7" stroke="#333" stroke-width="0.6"/>
<text x="569.8" y="511.3" font-size="5.6" text-anchor="middle" font-weight="normal" fill="#333" >0.0</text>
<line x1="596.8" x2="596.8" y1="503.7" y2="505.7" stroke="#333" stroke-width="0.6"/>
<text x="596.8" y="511.3" font-size="5.6" text-anchor="middle" font-weight="normal" fill="#333" >0.3</text>
<line x1="624.4" x2="624.4" y1="503.7" y2="505.7" stroke="#333" stroke-width="0.6"/>
<text x="624.4" y="511.3" font-size="5.6" text-anchor="middle" font-weight="normal" fill="#333" >0.6</text>
<line x1="651.8" x2="651.8" y1="503.7" y2="505.7" stroke="#333" stroke-width="0.6"/>
<text x="651.8" y="511.3" font-size="5.6" text-anchor="middle" font-weight="normal" fill="#333" >0.9</text>
<line x1="678.7" x2="678.7" y1="503.7" y2="505.7" stroke="#333" stroke-width="0.6"/>
<text x="678.7" y="511.3" font-size="5.6" text-anchor="middle" font-weight="normal" fill="#333" >1.2</text>
<text x="623.7" y="515.6" font-size="5.75" text-anchor="middle" font-weight="normal" fill="#222" >Backbone Burial</text>
<text transform="translate(559,445.1) rotate(-90)" font-size="5.75" text-anchor="middle" fill="#222">Protofibril</text>
<rect x="561.8" y="520.9" width="118" height="113.2" fill="#fff"/>
<line x1="583.3" x2="583.3" y1="520.9" y2="634.1" stroke="#f3f3f3" stroke-width="0.35"/>
<line x1="610.5" x2="610.5" y1="520.9" y2="634.1" stroke="#f3f3f3" stroke-width="0.35"/>
<line x1="637.75" x2="637.75" y1="520.9" y2="634.1" stroke="#f3f3f3" stroke-width="0.35"/>
<line x1="665" x2="665" y1="520.9" y2="634.1" stroke="#f3f3f3" stroke-width="0.35"/>
<line x1="569.8" x2="569.8" y1="520.9" y2="634.1" stroke="#e6e6e6" stroke-width="0.6"/>
<line x1="596.8" x2="596.8" y1="520.9" y2="634.1" stroke="#e6e6e6" stroke-width="0.6"/>
<line x1="624.2" x2="624.2" y1="520.9" y2="634.1" stroke="#e6e6e6" stroke-width="0.6"/>
<line x1="651.3" x2="651.3" y1="520.9" y2="634.1" stroke="#e6e6e6" stroke-width="0.6"/>
<line x1="678.7" x2="678.7" y1="520.9" y2="634.1" stroke="#e6e6e6" stroke-width="0.6"/>
<clipPath id="cH2"><rect x="562.3" y="521.4" width="117" height="112.2"/></clipPath>
<g clip-path="url(#cH2)">
<path d="M566.6,554.3 C568.83,554.24 576.53,554.06 580,553.96 C583.47,553.87 584.35,553.92 587.4,553.73 C590.45,553.55 594.97,553.41 598.3,552.83 C601.63,552.25 604.67,550.74 607.4,550.23 C610.13,549.72 611.95,550.02 614.7,549.78 C617.45,549.54 621.15,549.55 623.9,548.76 C626.65,547.97 629.08,546.07 631.2,545.03 C633.32,544 634.48,543.24 636.6,542.55 C638.72,541.85 641.77,542.15 643.9,540.85 C646.03,539.55 647.72,537.12 649.4,534.75 C651.08,532.38 652.6,528.82 654,526.62 C655.4,524.41 656.58,521.85 657.8,521.53 C659.02,521.21 660.12,522.15 661.3,524.69 C662.48,527.24 663.53,532.72 664.9,536.78 C666.27,540.85 668.32,546.28 669.5,549.1 C670.68,551.93 671.18,552.87 672,553.73 C672.82,554.6 674,554.21 674.4,554.3 L674.4,554.3 L566.6,554.3 Z" fill="#282d96" fill-opacity="0.72" stroke="none"/>
<path d="M566.6,554.3 C568.83,554.24 576.53,554.06 580,553.96 C583.47,553.87 584.35,553.92 587.4,553.73 C590.45,553.55 594.97,553.41 598.3,552.83 C601.63,552.25 604.67,550.74 607.4,550.23 C610.13,549.72 611.95,550.02 614.7,549.78 C617.45,549.54 621.15,549.55 623.9,548.76 C626.65,547.97 629.08,546.07 631.2,545.03 C633.32,544 634.48,543.24 636.6,542.55 C638.72,541.85 641.77,542.15 643.9,540.85 C646.03,539.55 647.72,537.12 649.4,534.75 C651.08,532.38 652.6,528.82 654,526.62 C655.4,524.41 656.58,521.85 657.8,521.53 C659.02,521.21 660.12,522.15 661.3,524.69 C662.48,527.24 663.53,532.72 664.9,536.78 C666.27,540.85 668.32,546.28 669.5,549.1 C670.68,551.93 671.18,552.87 672,553.73 C672.82,554.6 674,554.21 674.4,554.3" fill="none" stroke="#1a1a1a" stroke-width="0.65"/>
<path d="M566.6,562.5 C568.83,562.44 575.02,562.41 580,562.16 C584.98,561.92 591.93,561.65 596.5,561.03 C601.07,560.41 603.75,559.11 607.4,558.43 C611.05,557.75 614.75,557.38 618.4,556.96 C622.05,556.55 626.27,556.64 629.3,555.95 C632.33,555.25 634.17,553.82 636.6,552.78 C639.03,551.75 641.77,550.92 643.9,549.73 C646.03,548.54 647.72,548.38 649.4,545.66 C651.08,542.95 652.48,536.55 654,533.46 C655.52,530.37 657.28,527.64 658.5,527.13 C659.72,526.62 660.38,528.02 661.3,530.41 C662.22,532.8 662.63,536.89 664,541.48 C665.37,546.08 668.17,554.57 669.5,557.98 C670.83,561.39 671.18,561.18 672,561.93 C672.82,562.69 674,562.41 674.4,562.5 L674.4,562.5 L566.6,562.5 Z" fill="#282d96" fill-opacity="0.72" stroke="none"/>
<path d="M566.6,562.5 C568.83,562.44 575.02,562.41 580,562.16 C584.98,561.92 591.93,561.65 596.5,561.03 C601.07,560.41 603.75,559.11 607.4,558.43 C611.05,557.75 614.75,557.38 618.4,556.96 C622.05,556.55 626.27,556.64 629.3,555.95 C632.33,555.25 634.17,553.82 636.6,552.78 C639.03,551.75 641.77,550.92 643.9,549.73 C646.03,548.54 647.72,548.38 649.4,545.66 C651.08,542.95 652.48,536.55 654,533.46 C655.52,530.37 657.28,527.64 658.5,527.13 C659.72,526.62 660.38,528.02 661.3,530.41 C662.22,532.8 662.63,536.89 664,541.48 C665.37,546.08 668.17,554.57 669.5,557.98 C670.83,561.39 671.18,561.18 672,561.93 C672.82,562.69 674,562.41 674.4,562.5" fill="none" stroke="#1a1a1a" stroke-width="0.65"/>
<path d="M566.6,570.9 C568.83,570.85 574.93,570.84 580,570.57 C585.07,570.29 592.43,569.73 597,569.25 C601.57,568.77 603.53,568.2 607.4,567.71 C611.27,567.21 616.55,566.52 620.2,566.28 C623.85,566.04 626.87,566.44 629.3,566.28 C631.73,566.12 633.27,565.69 634.8,565.29 C636.33,564.89 637.13,564.06 638.5,563.86 C639.87,563.66 641.42,564.56 643,564.08 C644.58,563.6 646.5,562.8 648,561 C649.5,559.2 650.67,556.78 652,553.3 C653.33,549.82 654.78,543.18 656,540.1 C657.22,537.02 658.22,534.45 659.3,534.82 C660.38,535.19 661.38,538.49 662.5,542.3 C663.62,546.11 664.75,553.3 666,557.7 C667.25,562.1 668.6,566.5 670,568.7 C671.4,570.9 673.67,570.53 674.4,570.9 L674.4,570.9 L566.6,570.9 Z" fill="#692d96" fill-opacity="0.72" stroke="none"/>
<path d="M566.6,570.9 C568.83,570.85 574.93,570.84 580,570.57 C585.07,570.29 592.43,569.73 597,569.25 C601.57,568.77 603.53,568.2 607.4,567.71 C611.27,567.21 616.55,566.52 620.2,566.28 C623.85,566.04 626.87,566.44 629.3,566.28 C631.73,566.12 633.27,565.69 634.8,565.29 C636.33,564.89 637.13,564.06 638.5,563.86 C639.87,563.66 641.42,564.56 643,564.08 C644.58,563.6 646.5,562.8 648,561 C649.5,559.2 650.67,556.78 652,553.3 C653.33,549.82 654.78,543.18 656,540.1 C657.22,537.02 658.22,534.45 659.3,534.82 C660.38,535.19 661.38,538.49 662.5,542.3 C663.62,546.11 664.75,553.3 666,557.7 C667.25,562.1 668.6,566.5 670,568.7 C671.4,570.9 673.67,570.53 674.4,570.9" fill="none" stroke="#1a1a1a" stroke-width="0.65"/>
<path d="M566.6,579.5 C568.83,579.44 574.93,579.44 580,579.17 C585.07,578.89 592.33,578.44 597,577.85 C601.67,577.26 604.17,576.29 608,575.65 C611.83,575.01 616.33,574.37 620,574 C623.67,573.63 627.17,573.91 630,573.45 C632.83,572.99 634.83,571.89 637,571.25 C639.17,570.61 640.83,570.43 643,569.6 C645.17,568.77 648.17,568.68 650,566.3 C651.83,563.92 652.67,559.33 654,555.3 C655.33,551.27 656.83,544.48 658,542.1 C659.17,539.72 660,539.17 661,541 C662,542.83 662.83,548.15 664,553.1 C665.17,558.05 666.83,566.58 668,570.7 C669.17,574.83 669.93,576.38 671,577.85 C672.07,579.32 673.83,579.23 674.4,579.5 L674.4,579.5 L566.6,579.5 Z" fill="#692d96" fill-opacity="0.72" stroke="none"/>
<path d="M566.6,579.5 C568.83,579.44 574.93,579.44 580,579.17 C585.07,578.89 592.33,578.44 597,577.85 C601.67,577.26 604.17,576.29 608,575.65 C611.83,575.01 616.33,574.37 620,574 C623.67,573.63 627.17,573.91 630,573.45 C632.83,572.99 634.83,571.89 637,571.25 C639.17,570.61 640.83,570.43 643,569.6 C645.17,568.77 648.17,568.68 650,566.3 C651.83,563.92 652.67,559.33 654,555.3 C655.33,551.27 656.83,544.48 658,542.1 C659.17,539.72 660,539.17 661,541 C662,542.83 662.83,548.15 664,553.1 C665.17,558.05 666.83,566.58 668,570.7 C669.17,574.83 669.93,576.38 671,577.85 C672.07,579.32 673.83,579.23 674.4,579.5" fill="none" stroke="#1a1a1a" stroke-width="0.65"/>
<path d="M566.6,587.7 C568.83,587.61 575.27,587.52 580,587.15 C584.73,586.78 590,586.05 595,585.5 C600,584.95 605.5,584.49 610,583.85 C614.5,583.21 618.33,582.48 622,581.65 C625.67,580.83 628.83,580.28 632,578.9 C635.17,577.53 638.5,575.6 641,573.4 C643.5,571.2 645.17,568.45 647,565.7 C648.83,562.95 650.47,558.92 652,556.9 C653.53,554.88 654.98,554.44 656.2,553.6 C657.42,552.76 658.17,550.56 659.3,551.84 C660.43,553.12 661.72,557.16 663,561.3 C664.28,565.44 665.67,572.58 667,576.7 C668.33,580.83 669.77,584.22 671,586.05 C672.23,587.88 673.83,587.43 674.4,587.7 L674.4,587.7 L566.6,587.7 Z" fill="#e81482" fill-opacity="0.72" stroke="none"/>
<path d="M566.6,587.7 C568.83,587.61 575.27,587.52 580,587.15 C584.73,586.78 590,586.05 595,585.5 C600,584.95 605.5,584.49 610,583.85 C614.5,583.21 618.33,582.48 622,581.65 C625.67,580.83 628.83,580.28 632,578.9 C635.17,577.53 638.5,575.6 641,573.4 C643.5,571.2 645.17,568.45 647,565.7 C648.83,562.95 650.47,558.92 652,556.9 C653.53,554.88 654.98,554.44 656.2,553.6 C657.42,552.76 658.17,550.56 659.3,551.84 C660.43,553.12 661.72,557.16 663,561.3 C664.28,565.44 665.67,572.58 667,576.7 C668.33,580.83 669.77,584.22 671,586.05 C672.23,587.88 673.83,587.43 674.4,587.7" fill="none" stroke="#1a1a1a" stroke-width="0.65"/>
<path d="M566.6,595.9 C568.83,595.81 575.77,595.81 580,595.35 C584.23,594.89 587.5,593.79 592,593.15 C596.5,592.51 602.33,592.23 607,591.5 C611.67,590.77 616.17,589.67 620,588.75 C623.83,587.83 626.67,587.19 630,586 C633.33,584.81 637.33,583.62 640,581.6 C642.67,579.58 644.17,577.02 646,573.9 C647.83,570.78 649.42,565.83 651,562.9 C652.58,559.97 654.08,557.77 655.5,556.3 C656.92,554.83 658.25,552.63 659.5,554.1 C660.75,555.57 661.75,560.33 663,565.1 C664.25,569.87 665.67,577.93 667,582.7 C668.33,587.47 669.77,591.5 671,593.7 C672.23,595.9 673.83,595.53 674.4,595.9 L674.4,595.9 L566.6,595.9 Z" fill="#e81482" fill-opacity="0.72" stroke="none"/>
<path d="M566.6,595.9 C568.83,595.81 575.77,595.81 580,595.35 C584.23,594.89 587.5,593.79 592,593.15 C596.5,592.51 602.33,592.23 607,591.5 C611.67,590.77 616.17,589.67 620,588.75 C623.83,587.83 626.67,587.19 630,586 C633.33,584.81 637.33,583.62 640,581.6 C642.67,579.58 644.17,577.02 646,573.9 C647.83,570.78 649.42,565.83 651,562.9 C652.58,559.97 654.08,557.77 655.5,556.3 C656.92,554.83 658.25,552.63 659.5,554.1 C660.75,555.57 661.75,560.33 663,565.1 C664.25,569.87 665.67,577.93 667,582.7 C668.33,587.47 669.77,591.5 671,593.7 C672.23,595.9 673.83,595.53 674.4,595.9" fill="none" stroke="#1a1a1a" stroke-width="0.65"/>
<path d="M566.6,604.3 C568.83,604.22 576.1,604.22 580,603.8 C583.9,603.38 585.83,602.38 590,601.8 C594.17,601.22 600,601.13 605,600.3 C610,599.47 615.67,597.8 620,596.8 C624.33,595.8 627.67,595.22 631,594.3 C634.33,593.38 637.5,592.63 640,591.3 C642.5,589.97 644,588.8 646,586.3 C648,583.8 650.25,578.8 652,576.3 C653.75,573.8 655,571.3 656.5,571.3 C658,571.3 659.5,573.13 661,576.3 C662.5,579.47 664,586.3 665.5,590.3 C667,594.3 668.83,598.13 670,600.3 C671.17,602.47 671.77,602.63 672.5,603.3 C673.23,603.97 674.08,604.13 674.4,604.3 L674.4,604.3 L566.6,604.3 Z" fill="#f7b6c8" fill-opacity="0.72" stroke="none"/>
<path d="M566.6,604.3 C568.83,604.22 576.1,604.22 580,603.8 C583.9,603.38 585.83,602.38 590,601.8 C594.17,601.22 600,601.13 605,600.3 C610,599.47 615.67,597.8 620,596.8 C624.33,595.8 627.67,595.22 631,594.3 C634.33,593.38 637.5,592.63 640,591.3 C642.5,589.97 644,588.8 646,586.3 C648,583.8 650.25,578.8 652,576.3 C653.75,573.8 655,571.3 656.5,571.3 C658,571.3 659.5,573.13 661,576.3 C662.5,579.47 664,586.3 665.5,590.3 C667,594.3 668.83,598.13 670,600.3 C671.17,602.47 671.77,602.63 672.5,603.3 C673.23,603.97 674.08,604.13 674.4,604.3" fill="none" stroke="#1a1a1a" stroke-width="0.65"/>
<path d="M566.6,612.5 C568.83,612.42 576.42,612.43 580,612 C583.58,611.57 583.87,610.48 588.1,609.9 C592.33,609.32 600,609.23 605.4,608.5 C610.8,607.77 616.18,606.73 620.5,605.5 C624.82,604.27 628.05,602.55 631.3,601.1 C634.55,599.65 637.48,598.4 640,596.8 C642.52,595.2 644.25,594.05 646.4,591.5 C648.55,588.95 651.1,583.57 652.9,581.5 C654.7,579.43 655.77,578.77 657.2,579.1 C658.63,579.43 660.07,580.55 661.5,583.5 C662.93,586.45 664.37,592.95 665.8,596.8 C667.23,600.65 668.98,604.15 670.1,606.6 C671.22,609.05 671.78,610.52 672.5,611.5 C673.22,612.48 674.08,612.33 674.4,612.5 L674.4,612.5 L566.6,612.5 Z" fill="#f7b6c8" fill-opacity="0.72" stroke="none"/>
<path d="M566.6,612.5 C568.83,612.42 576.42,612.43 580,612 C583.58,611.57 583.87,610.48 588.1,609.9 C592.33,609.32 600,609.23 605.4,608.5 C610.8,607.77 616.18,606.73 620.5,605.5 C624.82,604.27 628.05,602.55 631.3,601.1 C634.55,599.65 637.48,598.4 640,596.8 C642.52,595.2 644.25,594.05 646.4,591.5 C648.55,588.95 651.1,583.57 652.9,581.5 C654.7,579.43 655.77,578.77 657.2,579.1 C658.63,579.43 660.07,580.55 661.5,583.5 C662.93,586.45 664.37,592.95 665.8,596.8 C667.23,600.65 668.98,604.15 670.1,606.6 C671.22,609.05 671.78,610.52 672.5,611.5 C673.22,612.48 674.08,612.33 674.4,612.5" fill="none" stroke="#1a1a1a" stroke-width="0.65"/>
<path d="M566.6,621.2 C568.83,621.15 574.62,621.22 580,620.9 C585.38,620.58 592.87,619.93 598.9,619.3 C604.93,618.67 611.52,618.18 616.2,617.1 C620.88,616.02 624.13,614.95 627,612.8 C629.87,610.65 631.35,606.5 633.4,604.2 C635.45,601.9 637.5,599.4 639.3,599 C641.1,598.6 642.28,600.12 644.2,601.8 C646.12,603.48 649,608.37 650.8,609.1 C652.6,609.83 653.58,607.23 655,606.2 C656.42,605.17 658.05,602.9 659.3,602.9 C660.55,602.9 661.42,604.95 662.5,606.2 C663.58,607.45 664.55,608.32 665.8,610.4 C667.05,612.48 668.97,616.98 670,618.7 C671.03,620.42 671.27,620.28 672,620.7 C672.73,621.12 674,621.12 674.4,621.2 L674.4,621.2 L566.6,621.2 Z" fill="#009e4a" fill-opacity="0.72" stroke="none"/>
<path d="M566.6,621.2 C568.83,621.15 574.62,621.22 580,620.9 C585.38,620.58 592.87,619.93 598.9,619.3 C604.93,618.67 611.52,618.18 616.2,617.1 C620.88,616.02 624.13,614.95 627,612.8 C629.87,610.65 631.35,606.5 633.4,604.2 C635.45,601.9 637.5,599.4 639.3,599 C641.1,598.6 642.28,600.12 644.2,601.8 C646.12,603.48 649,608.37 650.8,609.1 C652.6,609.83 653.58,607.23 655,606.2 C656.42,605.17 658.05,602.9 659.3,602.9 C660.55,602.9 661.42,604.95 662.5,606.2 C663.58,607.45 664.55,608.32 665.8,610.4 C667.05,612.48 668.97,616.98 670,618.7 C671.03,620.42 671.27,620.28 672,620.7 C672.73,621.12 674,621.12 674.4,621.2" fill="none" stroke="#1a1a1a" stroke-width="0.65"/>
<path d="M566.6,629.4 C568.5,629.35 574.42,629.38 578,629.1 C581.58,628.82 584.25,628.12 588.1,627.7 C591.95,627.28 596.42,627.03 601.1,626.6 C605.78,626.17 612.25,625.72 616.2,625.1 C620.15,624.48 622.28,624.63 624.8,622.9 C627.32,621.17 629.52,617.12 631.3,614.7 C633.08,612.28 634.17,609.85 635.5,608.4 C636.83,606.95 637.85,605.85 639.3,606 C640.75,606.15 642.28,607.63 644.2,609.3 C646.12,610.97 649,615.32 650.8,616 C652.6,616.68 653.58,614.3 655,613.4 C656.42,612.5 658.05,610.43 659.3,610.6 C660.55,610.77 661.42,612.63 662.5,614.4 C663.58,616.17 664.55,619.03 665.8,621.2 C667.05,623.37 668.97,626.08 670,627.4 C671.03,628.72 671.27,628.77 672,629.1 C672.73,629.43 674,629.35 674.4,629.4 L674.4,629.4 L566.6,629.4 Z" fill="#009e4a" fill-opacity="0.72" stroke="none"/>
<path d="M566.6,629.4 C568.5,629.35 574.42,629.38 578,629.1 C581.58,628.82 584.25,628.12 588.1,627.7 C591.95,627.28 596.42,627.03 601.1,626.6 C605.78,626.17 612.25,625.72 616.2,625.1 C620.15,624.48 622.28,624.63 624.8,622.9 C627.32,621.17 629.52,617.12 631.3,614.7 C633.08,612.28 634.17,609.85 635.5,608.4 C636.83,606.95 637.85,605.85 639.3,606 C640.75,606.15 642.28,607.63 644.2,609.3 C646.12,610.97 649,615.32 650.8,616 C652.6,616.68 653.58,614.3 655,613.4 C656.42,612.5 658.05,610.43 659.3,610.6 C660.55,610.77 661.42,612.63 662.5,614.4 C663.58,616.17 664.55,619.03 665.8,621.2 C667.05,623.37 668.97,626.08 670,627.4 C671.03,628.72 671.27,628.77 672,629.1 C672.73,629.43 674,629.35 674.4,629.4" fill="none" stroke="#1a1a1a" stroke-width="0.65"/>
</g>
<rect x="561.8" y="520.9" width="118" height="113.2" fill="none" stroke="#333" stroke-width="1.05"/>
<line x1="569.8" x2="569.8" y1="634.1" y2="636.1" stroke="#333" stroke-width="0.6"/>
<text x="569.8" y="641.7" font-size="5.6" text-anchor="middle" font-weight="normal" fill="#333" >0.0</text>
<line x1="596.8" x2="596.8" y1="634.1" y2="636.1" stroke="#333" stroke-width="0.6"/>
<text x="596.8" y="641.7" font-size="5.6" text-anchor="middle" font-weight="normal" fill="#333" >0.3</text>
<line x1="624.2" x2="624.2" y1="634.1" y2="636.1" stroke="#333" stroke-width="0.6"/>
<text x="624.2" y="641.7" font-size="5.6" text-anchor="middle" font-weight="normal" fill="#333" >0.6</text>
<line x1="651.3" x2="651.3" y1="634.1" y2="636.1" stroke="#333" stroke-width="0.6"/>
<text x="651.3" y="641.7" font-size="5.6" text-anchor="middle" font-weight="normal" fill="#333" >0.9</text>
<line x1="678.7" x2="678.7" y1="634.1" y2="636.1" stroke="#333" stroke-width="0.6"/>
<text x="678.7" y="641.7" font-size="5.6" text-anchor="middle" font-weight="normal" fill="#333" >1.2</text>
<text x="623.7" y="647.8" font-size="5.75" text-anchor="middle" font-weight="normal" fill="#222" >Backbone Burial</text>
<text transform="translate(559,575.5) rotate(-90)" font-size="5.75" text-anchor="middle" fill="#222">Protofibril</text>
<text x="548.24" y="389" font-size="13" text-anchor="start" font-weight="bold" fill="#111" >H</text>
</svg>
</body></html>
